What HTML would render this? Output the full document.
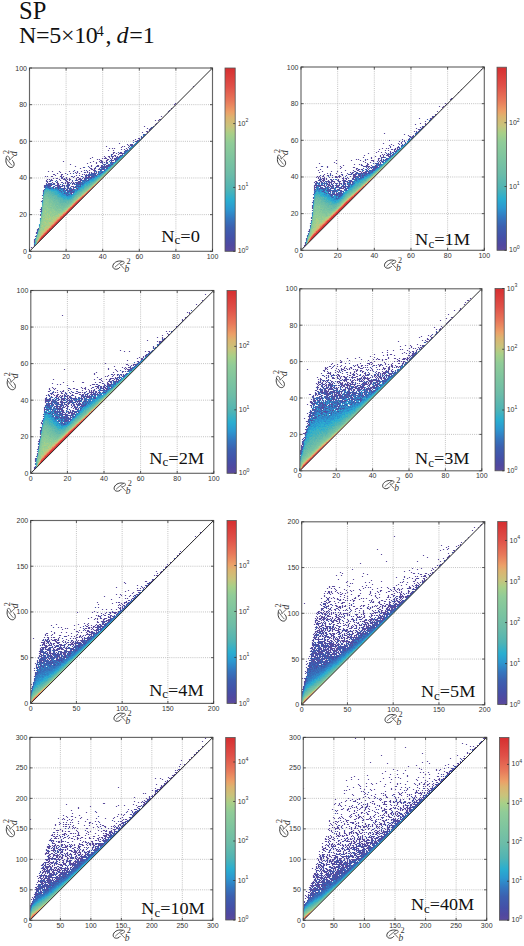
<!DOCTYPE html>
<html><head><meta charset="utf-8"><style>
html,body{margin:0;padding:0;background:#fff;width:524px;height:946px;overflow:hidden}
svg{display:block}
</style></head><body>
<svg width="524" height="946" viewBox="0 0 524 946">
<defs><linearGradient id="cbg" x1="0" y1="0" x2="0" y2="1"><stop offset="0" stop-color="#d62e30"/><stop offset="0.1" stop-color="#e05048"/><stop offset="0.18" stop-color="#e8785a"/><stop offset="0.24" stop-color="#eca068"/><stop offset="0.27" stop-color="#dcb470"/><stop offset="0.32" stop-color="#c8c47c"/><stop offset="0.36" stop-color="#a8d088"/><stop offset="0.41" stop-color="#90cc98"/><stop offset="0.5" stop-color="#7cc4a0"/><stop offset="0.58" stop-color="#6cbca8"/><stop offset="0.66" stop-color="#50b4b4"/><stop offset="0.72" stop-color="#2aaed0"/><stop offset="0.77" stop-color="#2c98d0"/><stop offset="0.82" stop-color="#3478c0"/><stop offset="0.87" stop-color="#3c60b0"/><stop offset="0.93" stop-color="#4450a8"/><stop offset="0.97" stop-color="#5048a0"/><stop offset="1" stop-color="#5a4a9c"/></linearGradient></defs>
<rect width="524" height="946" fill="#fff"/>
<g stroke="#b4b4b4" stroke-width="0.8" stroke-dasharray="1,1.1"><line x1="66.1" y1="68" x2="66.1" y2="251.3"/><line x1="29.5" y1="214.64" x2="212.5" y2="214.64"/><line x1="102.7" y1="68" x2="102.7" y2="251.3"/><line x1="29.5" y1="177.98" x2="212.5" y2="177.98"/><line x1="139.3" y1="68" x2="139.3" y2="251.3"/><line x1="29.5" y1="141.32" x2="212.5" y2="141.32"/><line x1="175.9" y1="68" x2="175.9" y2="251.3"/><line x1="29.5" y1="104.66" x2="212.5" y2="104.66"/></g>
<clipPath id="cp0"><polygon points="29.50,251.30 212.50,68.00 29.50,68.00"/></clipPath><g clip-path="url(#cp0)"><g transform="translate(30.5,250.5) scale(1,-1)" fill="none" stroke-width="1.15" stroke-linecap="square"><path stroke="#5a4a9c" d="M1 3h.01M3 3h.01M4 8h.01M4 9h.01M4 10h.01M4 11h.01M5 14h.01M6 17h.01M6 18h.01M7 20h.01M8 22h.01M10 35h.01M10 36h.01M10 39h.01M10 41h.01M11 49h.01M12 52h.01M12 55h.01M36 56h.01M38 56h.01M41 56h.01M34 57h.01M40 57h1M41 58h1M13 59h.01M31 59h.01M38 59h.01M43 59h.01M13 60h.01M29 60h.01M33 60h.01M36 60h.01M39 60h2M36 61h.01M39 61h.01M41 61h1M44 61h.01M47 61h.01M20 62h.01M23 62h.01M25 62h.01M28 62h.01M33 62h.01M38 62h.01M43 62h.01M46 62h1M14 63h.01M23 63h.01M28 63h.01M30 63h.01M38 63h.01M45 63h.01M14 64h.01M20 64h.01M27 64h1M31 64h.01M34 64h.01M37 64h.01M41 64h2M14 65h.01M16 65h.01M18 65h.01M20 65h1M26 65h3M32 65h1M36 65h.01M39 65h.01M50 65h.01M18 66h2M22 66h.01M27 66h1M38 66h.01M42 66h.01M44 66h.01M48 66h.01M16 67h.01M18 67h1M23 67h1M27 67h1M33 67h.01M35 67h.01M37 67h1M42 67h.01M44 67h.01M46 67h.01M48 67h2M17 68h.01M22 68h.01M27 68h.01M31 68h.01M37 68h2M41 68h.01M43 68h.01M46 68h.01M48 68h1M51 68h.01M16 69h.01M19 69h.01M27 69h.01M36 69h1M42 69h.01M48 69h.01M50 69h.01M16 70h.01M20 70h.01M22 70h.01M30 70h.01M35 70h.01M39 70h.01M47 70h.01M50 70h.01M55 70h.01M17 71h.01M19 71h.01M21 71h.01M29 71h.01M33 71h2M37 71h.01M39 71h1M46 71h.01M48 71h3M54 71h.01M23 72h.01M26 72h1M31 72h1M36 72h.01M39 72h.01M46 72h.01M49 72h1M54 72h.01M58 72h.01M32 73h.01M36 73h.01M43 73h.01M47 73h1M53 73h.01M55 73h5M15 74h.01M17 74h.01M21 74h1M30 74h1M33 74h.01M41 74h.01M44 74h.01M51 74h.01M58 74h1M61 74h1M25 75h.01M31 75h.01M46 75h.01M49 75h.01M55 75h1M59 75h.01M66 75h.01M23 76h1M31 76h1M52 76h.01M54 76h.01M56 76h.01M64 76h.01M67 76h.01M27 77h.01M35 77h.01M40 77h.01M46 77h.01M49 77h.01M59 77h.01M65 77h.01M70 77h.01M30 78h.01M45 78h.01M47 78h.01M55 78h.01M57 78h.01M59 78h.01M61 78h.01M64 78h.01M66 78h.01M68 78h.01M71 78h.01M18 79h.01M22 79h.01M29 79h.01M39 79h.01M43 79h.01M47 79h.01M51 79h.01M57 79h.01M64 79h.01M68 79h.01M54 80h.01M59 80h.01M63 80h2M70 80h.01M74 80h.01M61 81h1M64 81h.01M69 81h.01M72 81h1M50 82h.01M60 82h1M64 82h1M69 82h.01M76 82h.01M53 83h.01M59 83h.01M70 83h2M74 83h1M45 84h.01M61 84h.01M66 84h.01M68 84h.01M71 84h.01M73 84h.01M75 84h3M61 85h.01M67 85h1M72 85h.01M74 85h.01M76 85h2M40 86h.01M74 86h.01M81 86h1M57 87h.01M66 87h.01M72 87h.01M77 87h.01M60 88h.01M66 88h.01M70 88h1M74 88h.01M76 88h.01M82 88h1M33 89h.01M63 89h.01M69 89h.01M71 89h1M76 89h.01M81 89h.01M85 89h.01M70 90h1M76 90h1M81 90h2M67 91h.01M69 91h.01M77 91h1M81 91h.01M84 91h.01M86 91h.01M60 92h.01M72 92h.01M74 92h2M80 92h.01M82 92h.01M84 92h.01M86 92h.01M62 93h.01M75 93h.01M79 93h.01M82 93h.01M86 93h.01M88 93h.01M74 94h.01M78 94h1M82 94h1M85 94h.01M87 94h.01M84 95h1M90 95h1M82 96h.01M88 96h.01M83 97h.01M86 97h.01M89 97h4M83 98h1M90 98h1M94 99h.01M78 100h.01M83 100h.01M96 100h.01M91 101h.01M94 101h.01M97 101h.01M79 102h.01M82 102h.01M84 102h.01M96 102h.01M99 102h.01M91 103h.01M76 104h.01M92 104h.01M94 104h.01M99 104h.01M98 105h.01M100 105h1M97 106h.01M101 106h1M89 107h.01M105 109h1M103 110h.01M107 110h.01M105 111h.01M109 111h.01M108 112h1M111 112h.01M113 114h.01M112 118h.01M117 118h1M116 119h1M119 120h.01M119 121h.01M117 122h.01M120 122h1M114 124h.01M124 124h.01M125 126h.01M126 127h.01M125 130h.01M128 130h.01M129 131h1M133 133h.01M131 134h.01M135 135h.01M136 136h.01M138 138h.01M138 139h.01M141 141h.01M141 142h1M145 145h.01M144 146h.01M146 146h.01M145 147h.01M148 148h.01M163 164h.01"/><path stroke="#4058ac" d="M4 5h.01M4 6h.01M7 19h.01M7 21h1M11 39h.01M11 40h.01M11 41h.01M11 42h.01M37 55h.01M37 57h.01M34 58h.01M37 58h1M40 58h.01M43 58h.01M37 59h.01M39 59h2M30 60h.01M35 60h.01M37 60h.01M42 60h.01M14 61h.01M28 61h.01M31 61h.01M33 61h1M37 61h.01M43 61h.01M19 62h.01M29 62h.01M34 62h1M40 62h.01M18 63h.01M22 63h.01M25 63h.01M27 63h.01M34 63h.01M37 63h.01M40 63h.01M44 63h.01M15 64h.01M17 64h2M23 64h1M29 64h1M32 64h.01M38 64h.01M45 64h5M15 65h.01M17 65h.01M19 65h.01M25 65h.01M34 65h.01M37 65h1M46 65h.01M16 66h.01M24 66h.01M30 66h.01M37 66h.01M46 66h.01M49 66h1M20 67h1M43 67h.01M47 67h.01M52 67h.01M26 68h.01M32 68h.01M35 68h.01M45 68h.01M47 68h.01M17 69h.01M20 69h.01M49 69h.01M56 69h.01M21 70h.01M26 70h.01M36 70h.01M42 70h.01M45 70h1M51 70h.01M53 70h.01M57 70h1M55 71h.01M34 72h.01M52 72h.01M55 72h2M60 72h1M31 73h.01M61 73h.01M42 74h.01M56 74h.01M63 74h.01M57 75h1M60 75h.01M63 75h.01M65 75h.01M37 76h.01M58 76h1M61 76h2M65 76h.01M69 76h.01M43 77h.01M61 77h3M54 78h.01M72 78h.01M66 79h.01M44 80h.01M56 80h.01M68 81h.01M70 81h1M72 82h2M77 82h.01M54 83h.01M65 83h.01M73 83h.01M77 83h.01M58 84h.01M67 84h.01M72 84h.01M71 85h.01M79 85h1M75 86h.01M78 86h.01M72 88h.01M77 88h.01M81 88h.01M85 90h.01M85 91h.01M87 91h.01M85 92h.01M88 92h.01M89 93h.01M81 94h.01M89 94h.01M81 95h.01M92 95h.01M81 96h.01M92 96h.01M94 97h.01M88 98h.01M95 98h.01M95 100h.01M100 102h.01M98 103h.01M102 104h.01M102 105h.01M100 106h.01M107 109h.01M108 110h1M111 113h.01M111 114h.01M113 116h1M121 121h.01M121 123h1M123 124h.01M125 125h.01M126 126h.01M127 127h.01M131 131h.01M137 137h.01M139 140h.01M143 143h.01"/><path stroke="#386cb8" d="M4 4h.01M5 12h.01M7 18h.01M10 32h.01M11 43h.01M12 50h.01M39 56h.01M13 57h.01M35 57h1M33 59h1M42 59h.01M44 59h.01M44 60h.01M40 61h.01M27 62h.01M30 62h2M37 62h.01M39 62h.01M41 62h.01M15 63h2M19 63h.01M26 63h.01M29 63h.01M43 63h.01M46 63h.01M48 63h.01M47 65h1M17 66h.01M21 66h.01M23 66h.01M39 66h.01M47 66h.01M51 66h1M40 67h.01M53 67h.01M50 68h.01M52 68h.01M54 68h.01M25 69h.01M53 69h1M52 70h.01M54 70h.01M58 71h1M62 73h2M52 74h.01M55 74h.01M64 74h.01M61 75h1M64 75h.01M60 76h.01M68 77h.01M70 79h.01M72 79h.01M71 80h.01M74 81h.01M76 83h.01M74 84h.01M79 84h.01M73 86h.01M79 86h.01M76 87h.01M80 87h2M80 88h.01M80 90h.01M87 92h.01M87 93h.01M90 94h.01M94 98h.01M95 99h1M97 100h1M101 104h.01M103 105h.01M104 106h.01M103 108h.01M112 113h.01M114 115h.01M115 116h.01M120 120h.01M120 121h.01M128 128h.01M130 130h.01"/><path stroke="#3478c0" d="M36 55h.01M33 57h.01M31 58h.01M66 74h.01"/><path stroke="#3087c7" d="M6 14h.01M6 15h.01M9 25h.01M12 49h.01M38 55h1M32 56h.01M35 56h.01M37 56h.01M42 56h.01M38 57h.01M43 57h.01M13 58h.01M29 58h.01M32 58h.01M35 58h1M44 58h.01M30 59h.01M35 59h.01M27 60h.01M32 60h.01M43 60h.01M45 60h1M25 61h2M15 62h.01M18 62h.01M21 62h1M26 62h.01M48 62h.01M49 63h.01M16 64h.01M36 64h.01M52 65h.01M32 66h.01M45 66h.01M53 66h.01M51 67h.01M54 67h.01M55 68h.01M52 69h.01M55 69h.01M56 70h.01M56 71h.01M60 71h.01M59 72h.01M63 72h.01M65 74h.01M68 76h.01M66 77h.01M69 77h.01M71 77h.01M69 78h1M65 79h.01M71 79h.01M73 79h.01M75 80h.01M76 81h.01M71 82h.01M80 84h.01M81 85h.01M84 88h.01M79 89h.01M86 90h1M88 91h.01M91 94h.01M97 99h.01M99 101h.01M105 107h.01M106 108h1M113 115h.01M115 115h.01"/><path stroke="#2c96cf" d="M4 7h.01M7 17h.01M11 38h.01M12 48h.01M36 54h4M33 55h2M40 55h1M13 56h.01M33 56h1M40 56h.01M31 57h1M30 58h.01M39 58h.01M28 59h1M32 59h.01M46 59h.01M28 60h.01M34 60h.01M38 60h.01M47 60h.01M21 61h2M30 61h.01M32 61h.01M45 61h.01M48 61h1M16 62h1M49 62h.01M20 63h.01M50 63h.01M51 64h.01M49 65h.01M53 65h.01M56 67h.01M53 68h.01M57 68h.01M59 68h.01M57 69h1M59 70h.01M61 71h1M62 72h.01M67 74h.01M70 76h.01M69 79h.01M74 79h.01M75 81h.01M80 86h.01M83 87h.01M89 92h.01M90 93h.01M94 96h.01M95 97h.01M96 98h.01M101 103h.01M105 106h.01M110 111h.01M113 113h.01M116 116h.01M117 117h.01M119 119h.01"/><path stroke="#2ba4d0" d="M5 11h.01M34 52h.01M37 52h.01M33 53h.01M35 53h.01M37 53h2M31 54h1M34 54h.01M41 54h.01M31 55h1M29 56h2M43 56h.01M28 57h.01M30 57h.01M28 58h.01M27 59h.01M45 59h.01M23 60h3M15 61h.01M19 61h1M51 63h.01M52 64h.01M54 66h.01M55 67h.01M56 68h.01M58 68h.01M59 69h.01M60 70h2M63 71h.01M64 72h1M65 73h1M68 74h.01M68 75h1M73 78h.01M78 82h.01M79 83h.01M85 88h.01M86 89h.01M93 95h.01M103 104h.01M106 107h.01M114 114h.01"/><path stroke="#2eafcd" d="M9 26h.01M10 31h.01M38 52h1M34 53h.01M36 53h.01M40 53h1M33 54h.01M35 54h.01M13 55h.01M30 55h.01M42 55h1M44 56h.01M27 57h.01M29 57h.01M25 58h.01M27 58h.01M33 58h.01M45 58h1M26 59h.01M14 60h.01M19 60h.01M21 60h1M31 60h.01M48 60h.01M17 61h1M24 61h.01M29 61h.01M46 61h.01M24 62h.01M50 62h.01M21 63h.01M47 63h.01M52 63h1M53 64h.01M51 65h.01M54 65h.01M56 66h1M57 67h1M61 69h.01M63 70h.01M67 73h.01M69 74h.01M70 75h.01M72 77h.01M75 79h.01M76 80h.01M77 81h.01M78 83h.01M84 87h.01M91 93h.01M92 94h.01M100 103h.01M102 103h.01M108 109h.01M111 111h.01M112 112h.01M122 122h.01M123 123h.01"/><path stroke="#3db1c2" d="M5 7h.01M5 8h.01M8 20h.01M9 24h.01M11 37h.01M12 47h.01M33 51h.01M35 51h.01M37 51h1M33 52h.01M35 52h1M40 52h1M31 53h1M28 54h2M42 54h.01M28 55h1M25 56h2M45 56h.01M25 57h1M39 57h.01M44 57h1M24 58h.01M26 58h.01M21 59h4M47 59h.01M17 60h.01M20 60h.01M49 60h.01M50 61h.01M51 62h2M54 64h.01M56 65h1M55 66h.01M59 67h.01M60 68h.01M60 69h.01M62 69h1M64 70h.01M64 71h1M66 72h.01M71 76h.01M73 77h.01M74 78h.01M79 82h.01M80 83h.01M81 84h.01M82 85h.01M83 86h.01M89 91h.01M99 100h.01M100 101h.01M101 102h.01M104 105h.01M110 110h.01"/><path stroke="#4cb3b7" d="M7 16h.01M10 30h.01M12 46h.01M34 51h.01M36 51h.01M39 51h1M32 52h.01M29 53h1M42 53h1M27 54h.01M43 54h.01M27 55h.01M44 55h.01M24 56h.01M28 56h.01M22 57h2M46 57h.01M14 58h.01M21 58h.01M23 58h.01M47 58h.01M14 59h.01M16 59h.01M48 59h1M15 60h.01M50 60h1M16 61h.01M51 61h.01M54 63h.01M55 64h.01M55 65h.01M58 66h1M61 68h.01M66 71h.01M67 72h.01M67 75h.01M71 75h.01M72 76h.01M90 92h.01M96 97h.01M97 98h.01M98 99h.01M107 107h.01M109 109h.01"/><path stroke="#57b6b1" d="M5 9h.01M11 36h.01M12 45h.01M35 48h.01M33 49h2M30 50h.01M33 50h5M30 51h2M24 52h.01M28 52h.01M30 52h1M42 52h.01M13 53h.01M27 53h1M13 54h.01M44 54h.01M22 55h1M26 55h.01M23 56h.01M46 56h.01M14 57h.01M19 57h.01M21 57h.01M47 57h1M20 58h.01M22 58h.01M48 58h.01M15 59h.01M17 59h3M50 59h.01M16 60h.01M18 60h.01M52 61h1M56 64h.01M59 65h.01M60 66h.01M61 67h.01M62 68h.01M65 70h.01M68 73h1M77 80h.01M86 88h.01M87 89h.01M88 90h.01M105 105h.01M106 106h.01M108 108h.01"/><path stroke="#60b8ad" d="M5 6h.01M5 10h.01M30 48h3M36 48h.01M38 48h.01M30 49h2M36 49h.01M38 49h.01M31 50h1M39 50h1M28 51h1M41 51h1M26 52h1M29 52h.01M25 53h.01M25 54h1M24 55h1M45 55h.01M14 56h.01M20 56h2M47 56h.01M15 57h.01M17 57h.01M20 57h.01M15 58h1M18 58h1M49 58h.01M51 59h.01M52 60h.01M54 62h.01M55 63h1M57 64h1M58 65h.01M60 67h.01M64 69h.01M68 72h.01M70 74h.01M74 77h.01M75 78h.01M76 79h.01M78 81h.01M83 85h.01M85 87h.01M93 94h.01M94 95h.01"/><path stroke="#69bba9" d="M9 23h.01M10 29h.01M31 46h1M30 47h.01M32 47h.01M34 47h.01M36 47h1M29 48h.01M34 48h.01M28 49h1M37 49h.01M39 49h2M24 50h.01M28 50h1M25 51h2M13 52h.01M25 52h.01M43 52h.01M20 53h.01M22 53h.01M24 53h.01M26 53h.01M44 53h.01M18 54h.01M21 54h3M45 54h.01M18 55h3M46 55h.01M19 56h.01M18 57h.01M17 58h.01M54 61h.01M55 62h.01M57 63h.01M61 66h.01M62 67h.01M63 68h.01M65 69h.01M66 70h.01M84 86h.01M91 92h.01M92 93h.01M95 96h.01M101 101h.01M103 103h.01M104 104h.01"/><path stroke="#6fbea6" d="M6 9h.01M6 13h.01M8 19h.01M10 27h.01M11 35h.01M12 42h.01M12 43h.01M12 44h.01M31 45h3M27 46h.01M29 46h.01M33 46h2M37 46h.01M29 47h.01M31 47h.01M33 47h.01M35 47h.01M38 47h.01M26 48h.01M37 48h.01M39 48h1M23 49h.01M26 49h1M13 50h.01M25 50h.01M27 50h.01M41 50h.01M13 51h.01M22 51h.01M43 51h.01M20 52h.01M22 52h1M21 53h.01M23 53h.01M14 54h.01M19 54h1M46 54h.01M17 55h.01M15 56h1M18 56h.01M48 56h.01M16 57h.01M49 57h1M50 58h1M52 59h.01M53 60h.01M56 62h.01M64 68h.01M67 71h.01M70 73h.01M71 74h.01M72 75h.01M73 76h.01M81 83h.01M82 84h.01M90 91h.01M100 100h.01"/><path stroke="#74c0a4" d="M6 8h.01M6 12h.01M9 21h.01M10 28h.01M11 32h.01M11 34h.01M12 41h.01M30 43h.01M33 43h.01M27 44h.01M29 44h.01M31 44h.01M33 44h1M25 45h.01M28 45h2M35 45h1M25 46h1M28 46h.01M30 46h.01M36 46h.01M26 47h2M39 47h.01M13 48h.01M24 48h1M28 48h.01M24 49h1M22 50h1M26 50h.01M42 50h.01M21 51h.01M23 51h1M19 52h.01M21 52h.01M14 53h.01M18 53h1M46 53h.01M16 54h1M47 54h.01M14 55h2M48 55h.01M17 56h.01M49 56h1M54 60h.01M55 61h.01M58 63h.01M59 64h.01M60 65h.01M63 67h.01M68 71h.01M69 72h.01M77 79h.01M78 80h.01M79 81h.01M80 82h.01M88 89h.01M98 98h.01M99 99h.01M102 102h.01"/><path stroke="#79c3a1" d="M7 15h.01M10 26h.01M11 33h.01M12 40h.01M32 41h.01M27 42h.01M31 42h1M26 43h3M31 43h1M34 43h1M26 44h.01M32 44h.01M35 44h1M13 45h.01M26 45h.01M13 46h.01M23 46h.01M38 46h.01M22 47h3M40 47h.01M19 48h.01M21 48h.01M23 48h.01M27 48h.01M41 48h.01M13 49h.01M19 49h1M19 50h1M14 51h1M19 51h1M44 51h.01M14 52h4M44 52h1M15 53h.01M45 53h.01M15 54h.01M47 55h.01M51 57h.01M52 58h.01M56 61h.01M57 62h.01M62 66h.01M73 75h.01M75 77h.01M85 86h.01M86 87h.01M87 88h.01M89 90h.01M95 95h.01M96 96h.01"/><path stroke="#7fc59f" d="M6 10h.01M6 11h.01M7 14h.01M8 17h.01M8 18h.01M9 22h.01M10 23h.01M10 25h.01M11 31h.01M12 37h.01M12 39h.01M26 40h.01M28 40h2M25 41h1M33 41h.01M23 42h.01M25 42h.01M28 42h2M33 42h.01M20 43h1M23 43h1M13 44h.01M22 44h.01M24 44h1M28 44h.01M30 44h.01M37 44h.01M21 45h2M37 45h1M19 46h.01M22 46h.01M24 46h.01M39 46h.01M13 47h.01M19 47h.01M20 48h.01M22 48h.01M14 49h.01M18 49h.01M21 49h1M42 49h.01M14 50h.01M21 50h.01M43 50h.01M16 51h.01M16 53h1M49 55h1M53 59h1M58 62h.01M60 64h.01M61 65h.01M67 70h.01M74 76h.01M82 83h.01M83 84h.01M84 85h.01M97 97h.01"/><path stroke="#85c79d" d="M7 13h.01M9 19h.01M9 20h.01M10 24h.01M11 29h.01M12 36h.01M12 38h.01M28 38h.01M27 39h.01M29 39h.01M25 40h.01M27 40h.01M32 40h.01M13 41h.01M24 41h.01M27 41h1M31 41h.01M13 42h1M21 42h.01M24 42h.01M26 42h.01M34 42h.01M18 43h1M25 43h.01M36 43h1M17 44h.01M19 44h.01M23 44h.01M17 45h3M24 45h.01M27 45h.01M14 46h2M18 46h.01M21 46h.01M16 47h.01M18 47h.01M20 47h1M14 48h1M17 48h1M42 48h.01M15 49h2M15 50h3M17 51h1M45 51h.01M46 52h.01M47 53h.01M48 54h.01M55 60h1M59 63h.01M65 68h.01M66 69h.01M72 74h.01M76 78h.01M81 82h.01M91 91h.01"/><path stroke="#8bca9a" d="M5 5h.01M7 11h.01M8 14h.01M8 15h.01M8 16h.01M11 27h.01M11 30h.01M12 32h.01M12 34h.01M12 35h.01M14 35h.01M20 35h.01M25 36h.01M13 37h.01M15 37h.01M23 37h.01M27 37h.01M22 38h.01M24 38h1M27 38h.01M29 38h.01M18 39h.01M21 39h.01M23 39h.01M25 39h1M28 39h.01M30 39h1M13 40h.01M16 40h.01M19 40h3M24 40h.01M31 40h.01M33 40h.01M15 41h1M20 41h1M29 41h1M34 41h1M15 42h.01M18 42h2M22 42h.01M35 42h.01M13 43h3M22 43h.01M14 44h.01M18 44h.01M21 44h.01M38 44h.01M14 45h2M39 45h.01M17 46h.01M20 46h.01M40 46h1M14 47h1M17 47h.01M41 47h.01M43 49h.01M44 50h.01M47 52h.01M49 54h.01M51 56h.01M52 57h.01M53 58h.01M57 61h.01M62 65h.01M63 66h.01M64 67h.01M70 72h.01M71 73h.01M92 92h.01M93 93h.01M94 94h.01"/><path stroke="#91cc97" d="M6 7h.01M7 10h.01M7 12h.01M10 20h.01M13 21h.01M10 22h.01M11 23h.01M14 24h.01M11 25h.01M12 26h.01M11 28h.01M12 29h.01M19 29h.01M12 30h.01M14 32h.01M12 33h.01M14 33h.01M13 34h.01M18 34h.01M22 34h.01M13 35h.01M22 35h2M16 36h.01M18 36h.01M20 36h1M24 36h.01M26 36h1M16 37h.01M18 37h1M21 37h1M25 37h1M29 37h.01M14 38h.01M16 38h3M23 38h.01M26 38h.01M30 38h1M13 39h1M16 39h1M19 39h.01M22 39h.01M32 39h.01M14 40h.01M18 40h.01M23 40h.01M14 41h.01M17 41h2M22 41h1M16 42h.01M36 42h.01M17 43h.01M15 44h1M20 44h.01M39 44h.01M16 48h.01M43 48h.01M46 51h.01M53 57h.01M54 58h.01M55 59h.01M58 61h.01M60 63h.01M61 64h.01M69 71h.01M78 79h.01M79 80h.01M80 81h.01M87 87h.01M88 88h.01M89 89h.01"/><path stroke="#9cce90" d="M8 12h.01M8 13h.01M9 15h.01M9 16h1M9 17h.01M9 18h1M10 21h2M12 22h1M12 23h.01M13 24h.01M13 25h2M11 26h.01M13 26h.01M16 26h.01M12 27h2M12 28h1M16 28h1M13 29h.01M15 29h2M20 29h.01M13 30h5M20 30h.01M12 31h1M15 31h.01M21 31h1M13 32h.01M18 32h.01M21 32h.01M15 33h1M18 33h1M21 33h.01M23 33h.01M14 34h1M17 34h.01M20 34h1M24 34h2M16 35h2M21 35h.01M25 35h.01M28 35h.01M13 36h2M19 36h.01M22 36h1M30 36h.01M14 37h.01M20 37h.01M24 37h.01M28 37h.01M13 38h.01M15 38h.01M20 38h1M32 38h.01M20 39h.01M24 39h.01M33 39h1M15 40h.01M17 40h.01M34 40h.01M36 41h.01M17 42h.01M40 45h.01M42 47h.01M45 50h.01M48 53h.01M51 55h.01M52 56h.01M57 60h.01M59 62h.01M68 70h.01M90 90h.01"/><path stroke="#a8d088" d="M9 14h.01M10 17h.01M11 18h.01M10 19h1M11 20h2M11 22h.01M14 22h.01M13 23h1M16 23h1M11 24h1M15 24h.01M16 25h3M14 26h1M17 26h2M15 27h3M14 28h.01M18 28h.01M14 29h.01M18 29h.01M21 29h1M19 30h.01M21 30h.01M14 31h.01M16 31h.01M18 31h2M24 31h.01M16 32h1M20 32h.01M22 32h2M26 32h.01M13 33h.01M17 33h.01M20 33h.01M22 33h.01M24 33h1M16 34h.01M19 34h.01M27 34h1M15 35h.01M19 35h.01M26 35h1M17 36h.01M28 36h.01M31 36h.01M17 37h.01M30 37h2M15 39h.01M37 42h.01M38 43h.01M44 49h.01M50 54h.01M56 59h.01M65 67h.01M66 68h.01M67 69h.01M76 77h.01M83 83h.01M85 85h.01M86 86h.01"/><path stroke="#bcc981" d="M8 11h.01M10 15h.01M11 17h.01M12 18h.01M12 19h1M14 20h.01M15 22h1M16 24h2M12 25h.01M20 26h.01M19 27h2M15 28h.01M19 28h1M22 28h.01M23 29h.01M22 30h1M25 30h.01M17 31h.01M23 31h.01M25 31h.01M15 32h.01M19 32h.01M25 32h.01M26 33h.01M23 34h.01M29 35h.01M29 36h.01M35 40h.01M44 48h.01M48 52h.01M49 53h.01M63 65h.01M73 74h.01M74 75h.01M75 76h.01M77 78h.01M84 84h.01"/><path stroke="#ccc179" d="M7 9h.01M9 13h.01M10 14h.01M11 16h1M12 17h.01M13 18h.01M14 19h.01M15 20h.01M14 21h2M15 23h.01M18 23h.01M19 24h.01M21 26h.01M22 27h.01M21 28h.01M24 30h.01M27 33h.01M29 34h.01M30 35h.01M33 38h.01M35 39h.01M36 40h.01M37 41h.01M39 43h.01M41 45h.01M46 50h.01M53 56h.01M54 57h.01M55 58h.01M60 62h.01M61 63h.01M62 64h.01M64 66h.01M69 70h.01M70 71h.01M71 72h.01M72 73h.01M81 81h.01M82 82h.01"/><path stroke="#d8b772" d="M6 6h.01M11 15h.01M17 22h1M19 23h.01M20 25h.01M23 27h.01M23 28h.01M24 29h.01M26 31h.01M27 32h.01M28 33h.01M38 42h.01M40 44h.01M42 46h.01M45 49h.01M47 51h.01M51 54h.01M59 61h.01M76 76h.01M78 78h.01M80 80h.01"/><path stroke="#e4aa6c" d="M8 10h.01M9 12h.01M13 17h.01M14 18h.01M15 19h.01M16 20h.01M17 21h.01M20 24h.01M28 32h.01M29 33h.01M31 35h.01M33 37h.01M43 47h.01M48 51h.01M49 52h.01M52 55h.01M55 57h.01M64 65h.01M66 67h.01M67 68h.01M68 69h.01M75 75h.01"/><path stroke="#ec9b66" d="M10 13h.01M21 25h.01M22 26h.01M24 28h.01M25 29h.01M26 30h.01M27 31h.01M30 34h.01M32 36h.01M34 38h1M41 44h.01M50 53h.01M54 56h.01M56 58h.01M58 60h.01M65 66h.01M77 77h.01M79 79h.01"/><path stroke="#ea8860" d="M7 8h.01M29 32h.01M32 35h.01M34 37h.01M36 39h.01M37 40h.01M42 45h.01M43 46h.01M47 50h.01M53 55h.01M57 59h.01M73 73h.01"/><path stroke="#e87659" d="M9 11h.01M11 14h.01M12 15h.01M13 16h.01M15 18h.01M16 19h.01M18 21h.01M20 23h.01M23 26h.01M24 27h.01M25 28h.01M26 29h.01M28 31h.01M38 41h.01M39 42h.01M40 43h.01M44 47h.01M45 48h.01M46 49h.01M61 62h.01M63 64h.01M72 72h.01M74 74h.01"/><path stroke="#e56953" d="M8 9h.01M14 17h.01M21 24h.01M22 25h.01M27 30h.01M30 33h.01M31 34h.01M33 36h.01M50 52h.01M51 53h.01M52 54h.01M60 61h.01M62 63h.01M71 71h.01"/><path stroke="#e25c4e" d="M17 20h.01M19 22h.01M47 49h.01M49 51h.01M57 58h.01M58 59h.01M59 60h.01M68 68h.01M70 70h.01"/><path stroke="#e05048" d="M7 7h.01M10 12h.01M14 16h.01M21 23h.01M27 29h.01M31 33h.01M32 34h.01M34 36h.01M38 40h.01M40 42h.01M44 46h.01M45 47h.01M46 48h.01M48 50h.01M66 66h.01"/><path stroke="#dd4742" d="M12 14h.01M16 18h.01M18 20h.01M23 25h.01M24 26h.01M25 27h.01M28 30h.01M29 31h.01M30 32h.01M33 35h.01M35 37h.01M36 38h.01M39 41h.01M42 44h.01M43 45h.01M53 54h.01M54 55h.01M55 56h.01M56 57h.01M64 64h.01M65 65h.01M67 67h.01M69 69h.01"/><path stroke="#db3f3c" d="M9 10h.01M11 13h.01M13 15h.01M15 17h.01M17 19h.01M20 22h.01M22 24h.01M26 28h.01M37 39h.01M41 43h.01M50 51h.01M51 52h.01M52 53h.01M62 62h.01M63 63h.01"/><path stroke="#d83636" d="M8 8h.01M19 21h.01M60 60h.01M61 61h.01"/><path stroke="#d62e30" d="M9 9h.01M10 10h.01M10 11h1M11 12h1M12 13h1M13 14h1M14 15h1M15 16h1M16 17h1M17 18h1M18 19h1M19 20h1M20 21h1M21 22h1M22 23h1M23 24h1M24 25h1M25 26h1M26 27h1M27 28h1M28 29h1M29 30h1M30 31h1M31 32h1M32 33h1M33 34h1M34 35h1M35 36h1M36 37h1M37 38h1M38 39h1M39 40h1M40 41h1M41 42h1M42 43h1M43 44h1M44 45h1M45 46h1M46 47h1M47 48h1M48 49h1M49 50h1M51 51h.01M52 52h.01M53 53h.01M54 54h.01M55 55h.01M56 56h.01M57 57h.01M58 58h.01M59 59h.01"/></g></g>
<line x1="29.5" y1="251.3" x2="212.5" y2="68" stroke="#2a2a2a" stroke-width="1"/>
<rect x="29.5" y="68" width="183" height="183.3" fill="none" stroke="#666" stroke-width="1.15"/>
<path d="M29.5,251.3v-2.5M29.5,68v2.5M29.5,251.3h2.5M212.5,251.3h-2.5M66.1,251.3v-2.5M66.1,68v2.5M29.5,214.64h2.5M212.5,214.64h-2.5M102.7,251.3v-2.5M102.7,68v2.5M29.5,177.98h2.5M212.5,177.98h-2.5M139.3,251.3v-2.5M139.3,68v2.5M29.5,141.32h2.5M212.5,141.32h-2.5M175.9,251.3v-2.5M175.9,68v2.5M29.5,104.66h2.5M212.5,104.66h-2.5M212.5,251.3v-2.5M212.5,68v2.5M29.5,68h2.5M212.5,68h-2.5" stroke="#333" stroke-width="0.8"/>
<g font-family="Liberation Sans" font-size="7" fill="#333"><text x="27" y="253.8" text-anchor="end">0</text><text x="29.5" y="258.9" text-anchor="middle">0</text><text x="27" y="217.14" text-anchor="end">20</text><text x="66.1" y="258.9" text-anchor="middle">20</text><text x="27" y="180.48" text-anchor="end">40</text><text x="102.7" y="258.9" text-anchor="middle">40</text><text x="27" y="143.82" text-anchor="end">60</text><text x="139.3" y="258.9" text-anchor="middle">60</text><text x="27" y="107.16" text-anchor="end">80</text><text x="175.9" y="258.9" text-anchor="middle">80</text><text x="27" y="70.5" text-anchor="end">100</text><text x="212.5" y="258.9" text-anchor="middle">100</text></g>
<g transform="translate(112.3,260.4)" fill="#333"><path d="M9.8,0.9 C6.6,-0.3 1.9,1.4 0.7,4.8 C-0.2,7.6 2.2,9.3 4.8,8.7 C6.1,8.4 6.9,7.8 7.5,7.0" fill="none" stroke="#3a3a3a" stroke-width="1.0" stroke-linecap="round"/><path d="M2.8,6.6 C4.4,4.9 7.4,2.9 9.8,0.9 C11.5,0.4 12.3,1.6 11.7,2.8 C11.1,3.9 9.5,4.4 7.9,4.3 C9.1,5.4 10.4,7.2 11.9,8.3" fill="none" stroke="#3a3a3a" stroke-width="0.75" stroke-linecap="round"/><text x="14.1" y="3.2" font-family="Liberation Serif" font-size="8.2">2</text><text x="12.1" y="11.3" font-family="Liberation Serif" font-style="italic" font-size="9.5">b</text></g>
<g transform="translate(5.3,168) rotate(-90)" fill="#333"><path d="M9.8,0.9 C6.6,-0.3 1.9,1.4 0.7,4.8 C-0.2,7.6 2.2,9.3 4.8,8.7 C6.1,8.4 6.9,7.8 7.5,7.0" fill="none" stroke="#3a3a3a" stroke-width="1.0" stroke-linecap="round"/><path d="M2.8,6.6 C4.4,4.9 7.4,2.9 9.8,0.9 C11.5,0.4 12.3,1.6 11.7,2.8 C11.1,3.9 9.5,4.4 7.9,4.3 C9.1,5.4 10.4,7.2 11.9,8.3" fill="none" stroke="#3a3a3a" stroke-width="0.75" stroke-linecap="round"/><text x="14.1" y="3.2" font-family="Liberation Serif" font-size="8.2">2</text><text x="12.1" y="11.3" font-family="Liberation Serif" font-style="italic" font-size="9.5">d</text></g>
<rect x="225" y="68" width="10.2" height="183.3" fill="url(#cbg)" stroke="#555" stroke-width="0.8"/>
<path d="M235.2,251.3h-2M235.2,187.43h-2M235.2,123.56h-2" stroke="#333" stroke-width="0.8"/>
<g font-family="Liberation Sans" font-size="7" fill="#333"><text x="237.7" y="253.4">10<tspan font-size="5.2" dy="-3.2">0</tspan></text><text x="237.7" y="189.53">10<tspan font-size="5.2" dy="-3.2">1</tspan></text><text x="237.7" y="125.66">10<tspan font-size="5.2" dy="-3.2">2</tspan></text></g>
<text transform="translate(161.2,241.6) scale(1.04,1)" font-family="Liberation Serif" font-size="17.7" fill="#111" class="nc">N<tspan font-size="12.57" dy="2.6">c</tspan><tspan dy="-2.6">=0</tspan></text>
<g stroke="#b4b4b4" stroke-width="0.8" stroke-dasharray="1,1.1"><line x1="337.66" y1="67" x2="337.66" y2="250.3"/><line x1="301" y1="213.64" x2="484.3" y2="213.64"/><line x1="374.32" y1="67" x2="374.32" y2="250.3"/><line x1="301" y1="176.98" x2="484.3" y2="176.98"/><line x1="410.98" y1="67" x2="410.98" y2="250.3"/><line x1="301" y1="140.32" x2="484.3" y2="140.32"/><line x1="447.64" y1="67" x2="447.64" y2="250.3"/><line x1="301" y1="103.66" x2="484.3" y2="103.66"/></g>
<clipPath id="cp1"><polygon points="301.00,250.30 484.30,67.00 301.00,67.00"/></clipPath><g clip-path="url(#cp1)"><g transform="translate(301.5,249.5) scale(1,-1)" fill="none" stroke-width="1.15" stroke-linecap="square"><path stroke="#5a4a9c" d="M2 2h.01M3 3h.01M3 4h1M4 5h.01M4 6h.01M4 7h.01M5 10h.01M5 11h.01M8 18h.01M8 19h.01M8 20h.01M9 26h.01M10 29h.01M10 32h.01M11 41h.01M11 42h.01M11 43h.01M11 44h.01M11 47h.01M12 51h.01M30 53h.01M38 53h.01M30 54h.01M35 54h1M12 55h.01M29 55h.01M33 55h2M38 55h.01M25 56h.01M27 56h.01M31 56h2M35 56h1M39 56h1M23 57h.01M37 57h.01M14 58h.01M21 58h.01M31 58h1M39 58h.01M13 59h.01M23 59h.01M26 59h.01M28 59h1M34 59h.01M37 59h.01M39 59h1M13 60h1M33 60h.01M36 60h1M43 60h.01M13 61h.01M19 61h2M24 61h.01M26 61h.01M30 61h2M38 61h4M45 61h.01M13 62h1M24 62h.01M26 62h.01M28 62h.01M30 62h.01M32 62h.01M35 62h1M42 62h.01M44 62h.01M13 63h.01M15 63h.01M17 63h.01M23 63h.01M26 63h1M29 63h2M35 63h2M40 63h3M46 63h.01M48 63h.01M14 64h9M27 64h1M31 64h1M35 64h3M42 64h.01M47 64h.01M14 65h.01M26 65h2M38 65h.01M42 65h.01M46 65h.01M48 65h.01M51 65h.01M15 66h.01M18 66h.01M22 66h.01M25 66h1M28 66h.01M30 66h.01M32 66h.01M34 66h1M38 66h2M43 66h1M49 66h.01M13 67h.01M15 67h.01M20 67h.01M28 67h2M33 67h.01M43 67h.01M46 67h1M49 67h.01M51 67h.01M14 68h1M19 68h1M22 68h.01M26 68h1M30 68h.01M32 68h1M38 68h1M43 68h.01M45 68h.01M49 68h2M18 69h.01M21 69h2M27 69h.01M30 69h1M36 69h1M41 69h2M47 69h.01M49 69h.01M18 70h2M22 70h1M25 70h.01M30 70h.01M37 70h.01M42 70h.01M45 70h.01M52 70h1M17 71h.01M21 71h2M25 71h.01M41 71h1M44 71h1M47 71h.01M51 71h1M15 72h.01M17 72h.01M19 72h.01M23 72h.01M28 72h.01M31 72h.01M34 72h2M38 72h.01M42 72h.01M52 72h1M56 72h1M16 73h.01M18 73h.01M21 73h1M34 73h1M37 73h2M49 73h.01M52 73h4M59 73h.01M61 73h.01M22 74h.01M26 74h1M31 74h.01M38 74h.01M41 74h.01M45 74h.01M52 74h2M57 74h1M61 74h1M23 75h.01M40 75h.01M48 75h1M52 75h.01M54 75h.01M57 75h2M61 75h.01M63 75h.01M65 75h.01M26 76h.01M29 76h.01M35 76h.01M46 76h.01M51 76h.01M54 76h1M60 76h1M64 76h.01M18 77h.01M40 77h.01M49 77h.01M51 77h1M56 77h.01M60 77h.01M62 77h3M21 78h.01M30 78h.01M36 78h.01M54 78h.01M58 78h1M61 78h.01M64 78h.01M67 78h.01M71 78h.01M17 79h.01M44 79h.01M52 79h.01M56 79h1M69 79h.01M19 80h.01M55 80h.01M57 80h.01M60 80h1M67 80h.01M71 80h1M39 81h.01M55 81h1M66 81h.01M73 81h.01M15 82h.01M26 82h.01M40 82h.01M52 82h1M67 82h.01M69 82h.01M71 82h.01M74 82h1M77 82h.01M20 83h.01M26 83h.01M39 83h.01M62 83h2M66 83h2M71 83h.01M74 83h1M42 84h.01M60 84h.01M65 84h1M74 84h1M77 84h.01M53 85h.01M58 85h.01M60 85h.01M66 85h1M78 85h.01M18 86h.01M35 86h.01M66 86h.01M75 86h.01M77 86h.01M79 86h.01M33 87h.01M64 87h.01M69 87h.01M79 87h.01M62 88h.01M72 88h.01M78 88h.01M35 89h.01M50 89h.01M59 89h.01M64 89h.01M70 89h2M77 89h.01M79 89h1M55 90h.01M57 90h.01M66 90h.01M77 90h.01M80 90h.01M85 90h.01M70 91h.01M77 91h1M62 92h.01M70 92h.01M80 92h3M74 93h.01M79 93h.01M82 93h.01M87 93h1M63 94h.01M79 94h.01M82 94h.01M85 94h2M89 94h.01M91 94h.01M81 95h.01M83 95h.01M86 95h2M91 95h.01M67 96h.01M89 96h.01M75 97h.01M80 97h.01M84 97h.01M89 97h.01M91 97h.01M77 98h.01M89 98h.01M93 98h1M84 99h.01M87 99h.01M93 99h.01M95 99h.01M78 100h.01M90 100h1M93 100h1M96 100h.01M81 101h.01M85 101h.01M87 101h.01M94 101h.01M96 101h.01M96 102h1M89 103h.01M100 103h.01M88 104h.01M92 104h.01M90 105h.01M98 105h.01M82 106h.01M97 106h.01M100 106h.01M100 107h.01M104 107h.01M98 108h.01M101 108h.01M88 109h.01M103 109h.01M101 110h.01M107 110h.01M110 112h1M108 113h1M111 113h.01M107 114h.01M112 114h.01M103 115h.01M83 116h.01M113 118h.01M115 118h.01M117 118h.01M117 120h1M115 121h.01M121 121h.01M119 122h.01M121 122h1M122 123h.01M114 125h.01M124 125h1M119 126h.01M124 126h.01M127 127h.01M124 128h.01M118 131h.01M129 131h1M131 132h1M131 133h.01M134 134h.01M134 135h1M136 138h.01M141 142h.01M138 143h.01M142 143h.01M144 144h.01M145 145h.01M144 146h.01M146 146h.01M149 150h.01M150 151h1M157 157h.01M160 160h.01M180 180h.01"/><path stroke="#4058ac" d="M6 13h.01M7 16h.01M7 18h.01M9 24h.01M10 31h.01M11 39h.01M12 49h.01M35 51h.01M12 52h.01M31 52h.01M37 52h.01M37 53h.01M31 54h.01M38 54h2M28 55h.01M30 55h.01M32 55h.01M36 55h1M39 55h.01M41 55h.01M13 56h.01M28 56h.01M38 56h.01M41 56h.01M13 57h.01M27 57h.01M29 57h.01M31 57h.01M33 57h.01M35 57h.01M39 57h1M22 58h.01M27 58h2M33 58h1M40 58h2M22 59h.01M25 59h.01M27 59h.01M32 59h.01M35 59h.01M45 59h.01M16 60h.01M18 60h.01M22 60h.01M24 60h.01M26 60h3M44 60h1M18 61h.01M22 61h.01M44 61h.01M46 61h.01M15 62h.01M19 62h2M34 62h.01M40 62h.01M43 62h.01M47 62h.01M18 63h.01M24 63h.01M44 63h.01M47 63h.01M13 64h.01M25 64h.01M29 64h.01M44 64h.01M15 65h.01M20 65h.01M23 65h.01M30 65h1M43 65h.01M14 66h.01M36 66h.01M42 66h.01M16 67h.01M18 67h.01M21 67h.01M23 67h.01M27 67h.01M38 67h.01M42 67h.01M48 67h.01M24 68h1M28 68h.01M31 68h.01M37 68h.01M42 68h.01M44 68h.01M46 68h.01M17 69h.01M44 69h.01M50 69h.01M54 69h.01M29 70h.01M32 70h.01M35 70h.01M55 70h.01M19 71h.01M55 71h.01M58 71h.01M46 72h.01M54 72h.01M59 72h.01M61 72h1M44 73h.01M58 73h.01M19 74h.01M29 74h.01M59 74h.01M63 74h.01M29 75h.01M41 75h.01M47 75h.01M50 75h.01M53 75h.01M55 75h.01M50 76h.01M57 76h.01M59 76h.01M63 76h.01M65 76h.01M67 76h1M55 77h.01M67 77h1M53 78h.01M65 78h1M62 79h.01M66 79h.01M68 79h.01M71 79h2M58 80h.01M65 80h.01M73 80h.01M62 81h.01M70 81h.01M72 81h.01M74 81h.01M65 82h.01M70 82h.01M73 82h.01M21 83h.01M65 83h.01M73 83h.01M76 83h.01M61 84h.01M70 84h.01M77 85h.01M74 86h.01M76 86h.01M81 87h1M76 88h.01M80 88h2M84 88h.01M82 89h1M64 90h.01M82 90h.01M84 90h.01M85 91h2M88 92h.01M89 93h.01M89 95h.01M92 95h.01M85 96h.01M87 96h.01M95 98h.01M97 100h.01M98 101h.01M89 102h.01M98 102h.01M97 103h.01M101 104h.01M101 105h.01M103 105h.01M104 106h.01M103 108h.01M107 109h.01M108 110h.01M108 111h.01M110 111h.01M112 113h.01M114 116h1M115 117h.01M118 119h.01M119 120h.01M120 121h.01M121 123h.01M124 124h.01M126 126h.01M129 129h.01M126 130h.01M129 130h.01M132 133h1M140 140h.01M150 150h.01"/><path stroke="#386cb8" d="M5 9h.01M6 14h.01M7 15h.01M9 23h.01M11 36h.01M12 48h.01M36 51h1M32 52h.01M35 52h.01M35 53h.01M39 53h.01M29 54h.01M31 55h.01M40 55h.01M37 56h.01M24 57h.01M38 57h.01M42 57h.01M26 58h.01M35 58h.01M30 59h.01M33 59h.01M38 59h.01M43 59h1M21 60h.01M23 60h.01M38 60h.01M16 61h.01M23 61h.01M27 61h.01M29 61h.01M34 61h.01M47 61h.01M16 62h.01M37 62h2M19 63h.01M32 63h.01M45 63h.01M34 64h.01M48 64h.01M50 64h.01M35 65h.01M40 65h.01M44 65h.01M47 65h.01M49 65h1M17 66h.01M20 66h1M23 66h1M46 66h.01M48 66h.01M51 66h1M25 67h.01M52 67h.01M48 68h.01M53 68h.01M19 69h.01M48 69h.01M55 69h.01M51 70h.01M54 70h.01M57 70h1M54 71h.01M59 71h1M60 72h.01M27 73h.01M62 73h.01M60 74h.01M64 74h.01M64 75h.01M58 76h.01M62 76h.01M66 76h.01M69 77h1M69 78h1M65 79h.01M70 79h.01M64 80h.01M74 80h.01M68 81h.01M75 81h.01M72 82h.01M76 82h.01M72 83h.01M78 83h.01M78 84h.01M75 85h1M79 85h1M72 86h.01M77 87h.01M86 90h.01M80 91h.01M89 92h.01M90 93h.01M92 96h.01M92 97h.01M94 97h.01M98 100h.01M99 101h.01M100 104h.01M102 104h.01M109 112h.01M114 115h.01M116 117h.01M120 120h.01M128 128h.01M128 129h.01"/><path stroke="#3478c0" d="M36 50h.01M53 66h.01M69 76h.01M71 77h.01"/><path stroke="#3087c7" d="M12 46h.01M12 47h.01M33 50h2M33 51h1M38 51h.01M30 52h.01M34 52h.01M38 52h1M29 53h.01M40 53h.01M27 54h.01M33 54h1M37 54h.01M41 54h.01M23 55h.01M29 56h.01M13 58h.01M17 58h1M20 58h.01M23 58h.01M36 58h.01M15 59h.01M17 59h1M20 59h.01M31 59h.01M17 60h.01M20 60h.01M15 61h.01M25 61h.01M33 61h.01M25 62h.01M31 62h.01M46 62h.01M48 62h.01M50 63h.01M41 64h.01M17 65h1M52 65h.01M16 66h.01M52 68h.01M55 68h.01M34 70h.01M59 70h.01M56 71h1M60 73h.01M64 73h1M65 74h1M60 75h.01M66 75h.01M68 75h.01M56 76h.01M68 78h.01M76 81h.01M76 84h.01M79 84h1M84 89h1M84 92h.01M90 94h.01M90 96h.01M93 96h1M97 99h.01M101 103h.01M106 108h.01M108 109h.01M109 110h.01M117 117h.01M118 118h.01M119 119h.01M123 123h.01M130 130h.01"/><path stroke="#2c96cf" d="M9 22h.01M10 27h.01M10 28h.01M11 34h.01M11 35h.01M11 37h.01M34 48h.01M32 49h.01M32 50h.01M30 51h.01M27 53h1M31 53h3M36 53h.01M13 54h.01M24 54h1M28 54h.01M24 55h1M42 55h.01M23 56h1M26 56h.01M42 56h1M14 57h.01M22 57h.01M32 57h.01M15 58h.01M25 58h.01M14 59h.01M16 59h.01M19 59h.01M21 59h.01M36 59h.01M46 59h.01M19 60h.01M34 60h.01M17 61h.01M48 61h.01M17 62h.01M27 62h.01M49 62h.01M16 63h.01M49 63h.01M51 63h.01M51 64h.01M21 65h.01M25 65h.01M53 67h1M56 68h.01M56 69h.01M58 69h.01M56 70h.01M60 70h.01M61 71h1M55 72h.01M57 73h.01M63 73h.01M67 74h.01M62 75h.01M67 75h.01M70 76h.01M72 78h.01M61 79h.01M78 82h.01M81 85h.01M86 89h.01M87 90h.01M96 98h.01M100 102h.01M105 106h.01M106 107h.01M107 108h.01M114 114h.01M116 116h.01"/><path stroke="#2ba4d0" d="M12 44h.01M12 45h.01M33 48h.01M30 49h1M33 49h3M30 50h1M37 50h1M28 51h1M31 51h1M39 51h1M13 52h.01M26 52h2M40 52h.01M13 53h.01M23 53h.01M25 53h1M41 53h.01M22 54h.01M26 54h.01M21 55h1M26 55h.01M14 56h.01M18 56h.01M18 57h3M44 57h.01M19 58h.01M45 58h.01M47 60h.01M50 62h.01M52 64h.01M53 65h.01M57 67h.01M57 68h1M57 69h.01M61 70h.01M63 72h.01M66 73h.01M68 74h.01M69 75h.01M71 76h.01M72 77h.01M74 79h.01M75 80h.01M79 83h.01M84 87h.01M85 88h.01M88 91h.01M92 94h.01M93 95h.01M95 97h.01M102 103h.01M103 104h.01M104 105h.01"/><path stroke="#2eafcd" d="M5 7h.01M5 8h.01M31 47h.01M33 47h2M31 48h1M36 48h1M29 49h.01M37 49h.01M27 50h2M39 50h.01M26 51h1M29 52h.01M33 52h.01M36 52h.01M41 52h.01M24 53h.01M42 53h.01M19 54h1M23 54h.01M42 54h.01M13 55h1M20 55h.01M27 55h.01M43 55h.01M15 56h.01M17 56h.01M19 56h3M44 56h.01M17 57h.01M25 57h1M43 57h.01M45 57h.01M16 58h.01M24 58h.01M44 58h.01M24 59h.01M47 59h.01M25 60h.01M48 60h1M49 61h.01M51 62h.01M52 63h.01M49 64h.01M53 64h.01M47 66h.01M54 66h.01M56 66h.01M55 67h1M59 67h.01M53 69h.01M59 69h.01M61 69h.01M62 70h.01M63 71h1M64 72h2M69 74h.01M73 78h.01M75 79h.01M76 80h.01M77 81h.01M82 85h.01M82 86h1M83 87h.01M89 91h.01M91 93h.01M96 99h.01M111 111h.01M115 115h.01"/><path stroke="#3db1c2" d="M6 11h.01M8 17h.01M12 43h.01M32 46h1M32 47h.01M36 47h.01M26 48h.01M29 48h1M35 48h.01M25 49h.01M27 49h1M38 49h1M23 50h.01M25 50h1M23 51h.01M25 51h.01M41 51h.01M23 52h1M20 53h2M21 54h.01M43 54h.01M16 55h.01M18 55h1M16 56h.01M45 56h.01M15 57h1M46 57h.01M46 58h.01M15 60h.01M50 60h.01M50 61h.01M54 64h.01M54 65h.01M55 66h.01M54 68h.01M59 68h1M60 69h.01M63 70h.01M65 71h.01M67 73h1M70 75h.01M73 77h.01M80 83h.01M81 84h.01M99 100h.01M100 101h.01M101 102h.01M110 110h.01M112 112h.01M113 113h.01"/><path stroke="#4cb3b7" d="M6 12h.01M7 14h.01M9 21h.01M10 26h.01M11 33h.01M12 42h.01M30 45h.01M30 46h1M34 46h1M25 47h.01M27 47h1M30 47h.01M37 47h.01M24 48h.01M27 48h1M38 48h.01M24 50h.01M13 51h.01M22 51h.01M21 52h.01M25 52h.01M18 53h1M43 53h.01M14 54h1M17 54h.01M15 55h.01M17 55h.01M44 55h.01M47 57h.01M47 58h1M48 59h.01M51 61h.01M52 62h1M53 63h.01M55 64h1M55 65h2M57 66h.01M58 67h.01M60 67h1M63 69h1M64 70h.01M67 72h.01M74 78h.01M78 81h.01M95 96h.01M97 98h.01M98 99h.01M108 108h.01"/><path stroke="#57b6b1" d="M12 41h.01M28 45h1M31 45h4M28 46h.01M29 47h.01M38 47h.01M23 48h.01M25 48h.01M39 48h.01M24 49h.01M26 49h.01M40 49h.01M13 50h.01M20 50h2M40 50h.01M14 51h.01M19 51h.01M21 51h.01M24 51h.01M42 51h.01M14 52h.01M18 52h1M42 52h1M14 53h.01M16 53h1M16 54h.01M18 54h.01M44 54h.01M45 55h.01M46 56h.01M49 59h1M51 60h.01M52 61h1M54 63h1M58 66h.01M61 68h1M62 69h.01M68 72h.01M69 73h.01M70 74h.01M71 75h.01M72 76h.01M77 80h.01M79 82h.01M85 87h.01M86 88h.01M87 89h.01M88 90h.01M90 92h.01M96 97h.01M107 107h.01M109 109h.01"/><path stroke="#60b8ad" d="M10 25h.01M11 32h.01M30 41h.01M33 42h.01M32 43h.01M34 43h.01M27 44h.01M31 44h2M27 45h.01M24 46h.01M26 46h1M29 46h.01M36 46h1M24 47h.01M26 47h.01M20 48h.01M22 48h.01M13 49h.01M21 49h2M17 50h.01M41 50h.01M16 51h.01M20 51h.01M15 52h1M20 52h.01M22 52h.01M15 53h.01M44 53h.01M47 56h.01M48 57h.01M49 58h1M51 59h.01M54 62h1M56 63h.01M57 64h1M58 65h1M59 66h.01M65 70h.01M66 71h.01M76 79h.01M83 85h.01M84 86h.01M93 94h.01M94 95h.01M104 104h.01M105 105h.01M106 106h.01"/><path stroke="#69bba9" d="M5 6h.01M6 10h.01M9 20h.01M11 31h.01M12 40h.01M27 42h.01M32 42h.01M26 43h1M29 43h.01M31 43h.01M33 43h.01M25 44h1M29 44h1M34 44h1M24 45h2M36 45h.01M23 46h.01M25 46h.01M38 46h.01M13 47h.01M20 47h1M23 47h.01M13 48h.01M21 48h.01M14 49h.01M20 49h.01M14 50h1M18 50h1M42 50h.01M18 51h.01M17 52h.01M45 54h.01M46 55h.01M48 56h.01M52 60h.01M54 61h.01M60 66h1M62 67h.01M63 68h.01M65 69h.01M67 71h.01M71 74h.01M74 77h.01M75 78h.01M82 84h.01M92 93h.01M103 103h.01"/><path stroke="#6fbea6" d="M8 16h.01M12 38h.01M12 39h.01M20 40h.01M27 40h1M25 41h.01M29 41h.01M31 41h1M24 42h.01M26 42h.01M28 42h3M28 43h.01M30 43h.01M35 43h.01M24 44h.01M28 44h.01M36 44h1M13 45h.01M20 45h3M13 46h.01M18 46h.01M20 46h2M19 47h.01M22 47h.01M39 47h.01M17 48h.01M19 48h.01M40 48h.01M17 49h1M15 51h.01M17 51h.01M43 51h.01M45 53h.01M46 54h.01M47 55h1M49 57h1M51 58h.01M53 60h.01M57 63h1M59 64h.01M73 76h.01M78 80h.01M79 81h.01M80 82h.01M81 83h.01M90 91h.01M91 92h.01M100 100h.01M101 101h.01M102 102h.01"/><path stroke="#74c0a4" d="M6 8h.01M6 9h.01M7 13h.01M10 24h.01M12 37h.01M28 39h2M22 40h1M26 40h.01M29 40h2M23 41h.01M28 41h.01M33 41h1M23 42h.01M25 42h.01M34 42h1M21 43h.01M23 43h2M36 43h.01M22 44h1M16 45h.01M37 45h.01M14 46h1M19 46h.01M39 46h.01M14 47h4M40 47h.01M14 48h.01M16 48h.01M15 49h1M19 49h.01M41 49h.01M16 50h.01M44 52h.01M49 56h.01M51 57h.01M52 59h1M55 61h.01M56 62h.01M60 65h.01M64 68h.01M66 70h.01M72 75h.01M76 78h.01M77 79h.01M88 89h.01M89 90h.01M98 98h.01"/><path stroke="#79c3a1" d="M9 19h.01M11 29h.01M11 30h.01M12 35h.01M23 37h.01M25 37h.01M28 37h.01M26 38h1M21 39h6M31 39h.01M19 40h.01M25 40h.01M32 40h.01M24 41h.01M26 41h1M19 42h3M13 43h.01M19 43h1M22 43h.01M13 44h.01M17 44h.01M19 44h2M18 45h1M38 45h.01M16 46h1M15 48h.01M18 48h.01M41 48h.01M42 49h.01M44 51h.01M45 52h.01M46 53h.01M47 54h.01M49 55h.01M52 58h.01M54 59h.01M54 60h.01M56 61h.01M57 62h.01M62 66h.01M63 67h.01M69 72h.01M70 73h.01M75 77h.01M85 86h.01M86 87h.01M87 88h.01M97 97h.01M99 99h.01"/><path stroke="#7fc59f" d="M7 12h.01M8 15h.01M10 22h.01M10 23h.01M11 27h.01M11 28h.01M25 34h.01M25 35h.01M12 36h.01M24 36h1M21 37h1M24 37h.01M27 37h.01M29 37h.01M19 38h.01M21 38h3M28 38h1M13 39h1M32 39h.01M13 40h.01M24 40h.01M33 40h.01M17 41h.01M21 41h1M13 42h.01M16 42h.01M14 44h2M18 44h.01M38 44h.01M14 45h1M17 45h.01M39 45h.01M43 50h.01M48 54h.01M50 56h.01M53 58h.01M55 60h.01M59 63h.01M61 65h.01M67 70h.01M68 71h.01M95 95h.01M96 96h.01"/><path stroke="#85c79d" d="M8 13h.01M8 14h.01M9 17h.01M9 18h.01M10 21h.01M11 26h.01M12 33h.01M12 34h.01M18 34h.01M26 34h.01M13 35h.01M24 35h.01M21 36h2M26 36h.01M28 36h1M13 37h.01M18 37h.01M20 37h.01M26 37h.01M30 37h.01M13 38h1M18 38h.01M25 38h.01M30 38h.01M15 39h.01M17 39h.01M19 39h1M33 39h.01M14 40h.01M16 40h2M21 40h.01M13 41h.01M15 41h.01M18 41h2M35 41h.01M14 42h1M17 42h.01M14 43h1M17 43h.01M37 43h.01M41 47h.01M42 48h.01M43 49h.01M44 50h.01M45 51h.01M46 52h.01M58 62h.01M60 64h.01M65 68h.01M73 75h.01M81 82h.01M82 83h.01M83 84h.01M84 85h.01M94 94h.01"/><path stroke="#8bca9a" d="M5 5h.01M7 10h.01M7 11h.01M9 16h.01M10 20h.01M11 21h.01M11 23h.01M11 25h.01M12 26h.01M12 29h.01M14 30h.01M12 31h.01M12 32h.01M15 32h.01M20 32h.01M17 33h.01M20 33h.01M24 33h1M20 34h4M28 34h.01M14 35h1M17 35h.01M19 35h4M26 35h.01M13 36h1M16 36h.01M18 36h2M27 36h.01M14 37h.01M16 37h1M19 37h.01M15 38h1M20 38h.01M31 38h1M16 39h.01M15 40h.01M34 40h.01M14 41h.01M16 41h.01M36 41h.01M18 42h.01M36 42h.01M16 43h.01M18 43h.01M40 46h.01M47 53h.01M49 54h.01M50 55h.01M51 56h.01M52 57h.01M57 61h.01M63 66h.01M64 67h.01M66 69h1M70 72h.01M71 73h.01M72 74h.01M74 76h.01M80 81h.01M90 90h.01M91 91h.01M92 92h.01M93 93h.01"/><path stroke="#91cc97" d="M6 7h.01M9 14h.01M10 18h.01M10 19h.01M11 22h1M11 24h.01M14 26h.01M13 27h.01M12 28h.01M13 29h.01M12 30h1M17 30h4M13 31h1M16 31h.01M20 31h1M13 32h1M17 32h2M23 32h.01M13 33h3M19 33h.01M22 33h1M26 33h.01M13 34h.01M15 34h.01M17 34h.01M19 34h.01M27 34h.01M16 35h.01M18 35h.01M27 35h2M15 36h.01M17 36h.01M30 36h.01M15 37h.01M31 37h.01M17 38h.01M18 39h.01M34 39h.01M39 44h.01M47 52h.01M48 53h.01M53 57h.01M54 58h.01M55 59h.01M56 60h.01M61 64h.01M87 87h.01M89 89h.01"/><path stroke="#9cce90" d="M8 12h.01M9 15h.01M10 16h.01M10 17h.01M12 19h.01M13 22h.01M12 23h.01M14 23h.01M12 24h1M12 25h1M17 26h.01M12 27h.01M14 27h1M18 27h.01M13 28h1M16 28h.01M18 28h2M14 29h.01M18 29h.01M20 29h.01M22 30h1M17 31h2M22 31h1M16 32h.01M21 32h1M24 32h.01M18 33h.01M21 33h.01M14 34h.01M16 34h.01M33 38h.01M35 40h.01M37 42h.01M38 43h.01M40 45h.01M41 46h.01M42 47h.01M43 48h.01M44 49h.01M45 50h.01M52 56h.01M57 60h.01M59 62h.01M60 63h.01M62 65h.01M66 68h.01M68 70h.01M69 71h.01M75 76h.01M77 78h.01M79 80h.01M85 85h.01M88 88h.01"/><path stroke="#a8d088" d="M10 15h.01M11 17h.01M11 18h.01M11 19h.01M11 20h2M13 21h.01M14 22h.01M13 23h.01M14 24h1M17 24h.01M14 25h.01M16 25h.01M13 26h.01M15 26h1M18 26h.01M17 27h.01M19 27h1M15 28h.01M17 28h.01M21 28h.01M15 29h2M19 29h.01M22 29h1M15 30h1M15 31h.01M24 31h1M25 32h2M27 33h.01M30 35h.01M37 41h.01M46 51h.01M51 55h.01M58 61h.01M65 67h.01M73 74h.01M74 75h.01M78 79h.01M86 86h.01"/><path stroke="#bcc981" d="M7 9h.01M8 11h.01M9 13h.01M10 14h.01M11 16h.01M12 17h.01M12 18h.01M14 20h.01M12 21h.01M14 21h1M15 22h.01M17 22h.01M15 23h1M16 24h.01M15 25h.01M17 25h1M19 26h1M16 27h.01M21 27h.01M22 28h.01M21 29h.01M24 30h1M26 31h.01M28 33h.01M31 36h.01M32 37h.01M40 44h.01M45 49h.01M48 52h.01M49 53h.01M50 54h.01M53 56h.01M54 57h.01M55 58h.01M56 59h.01M63 65h.01M64 66h.01M76 77h.01M84 84h.01"/><path stroke="#ccc179" d="M13 18h.01M13 19h1M15 20h.01M16 22h.01M17 23h.01M18 24h.01M22 27h.01M24 29h.01M29 33h.01M29 34h.01M31 35h.01M32 36h.01M36 40h.01M38 42h.01M39 43h.01M41 45h.01M42 46h.01M43 47h.01M44 48h.01M46 50h.01M52 55h.01M62 64h.01M71 72h.01M72 73h.01M82 82h.01M83 83h.01"/><path stroke="#d8b772" d="M11 15h.01M12 16h.01M16 21h1M18 23h.01M19 25h1M21 26h.01M23 28h.01M27 31h.01M28 32h.01M33 37h.01M34 38h.01M35 39h.01M47 51h.01M51 54h.01M59 61h.01M60 62h.01M61 63h.01M69 70h.01M70 71h.01M78 78h.01M79 79h.01M81 81h.01"/><path stroke="#e4aa6c" d="M6 6h.01M9 12h.01M13 17h.01M15 19h.01M16 20h.01M18 22h.01M19 24h.01M22 26h.01M23 27h.01M25 29h.01M26 30h.01M30 34h.01M47 50h.01M50 53h.01M65 66h.01M66 67h.01M68 69h.01M76 76h.01M80 80h.01"/><path stroke="#ec9b66" d="M7 8h.01M8 10h.01M14 18h.01M20 24h.01M21 25h.01M24 28h.01M48 51h.01M49 52h.01M56 58h.01M57 59h.01M58 60h.01M63 64h.01M75 75h.01M77 77h.01"/><path stroke="#ea8860" d="M10 13h.01M14 17h.01M19 23h.01M27 30h.01M29 32h.01M31 34h.01M33 36h.01M34 37h.01M35 38h.01M36 39h.01M39 42h.01M40 43h.01M41 44h.01M42 45h.01M46 49h.01M52 54h.01M55 57h.01M67 68h.01M73 73h.01M74 74h.01"/><path stroke="#e87659" d="M9 11h.01M11 14h.01M16 19h.01M17 20h.01M18 21h.01M19 22h.01M20 23h.01M23 26h.01M24 27h.01M28 31h.01M30 33h.01M32 35h.01M37 40h.01M38 41h.01M43 46h.01M44 47h.01M45 48h.01M53 55h.01M54 56h.01M64 65h.01M70 70h.01M71 71h.01M72 72h.01"/><path stroke="#e56953" d="M8 9h.01M12 15h.01M13 16h.01M21 24h.01M22 25h.01M25 28h.01M26 29h.01M49 51h.01M51 53h.01M59 60h.01M60 61h.01M61 62h.01M62 63h.01"/><path stroke="#e25c4e" d="M15 18h.01M47 49h.01M50 52h.01M58 59h.01M69 69h.01"/><path stroke="#e05048" d="M7 7h.01M10 12h.01M11 13h.01M16 18h.01M24 26h.01M25 27h.01M28 30h.01M33 35h.01M34 36h.01M36 38h.01M41 43h.01M46 48h.01M48 50h.01M56 57h.01M57 58h.01M63 63h.01M65 65h.01M67 67h.01M68 68h.01"/><path stroke="#dd4742" d="M12 14h.01M13 15h.01M14 16h.01M15 17h.01M19 21h.01M20 22h.01M21 23h.01M23 25h.01M31 33h.01M35 37h.01M37 39h.01M38 40h.01M39 41h.01M40 42h.01M42 44h.01M44 46h.01M52 53h.01M54 55h.01M55 56h.01M66 66h.01"/><path stroke="#db3f3c" d="M17 19h.01M18 20h.01M22 24h.01M26 28h.01M27 29h.01M29 31h.01M30 32h.01M32 34h.01M43 45h.01M45 47h.01M64 64h.01"/><path stroke="#d83636" d="M9 10h.01M49 50h.01M51 52h.01M59 59h.01M62 62h.01"/><path stroke="#d62e30" d="M8 8h.01M9 9h.01M10 10h.01M10 11h1M11 12h1M12 13h1M13 14h1M14 15h1M15 16h1M16 17h1M17 18h1M18 19h1M19 20h1M20 21h1M21 22h1M22 23h1M23 24h1M24 25h1M25 26h1M26 27h1M27 28h1M28 29h1M29 30h1M30 31h1M31 32h1M32 33h1M33 34h1M34 35h1M35 36h1M36 37h1M37 38h1M38 39h1M39 40h1M40 41h1M41 42h1M42 43h1M43 44h1M44 45h1M45 46h1M46 47h1M47 48h1M48 49h1M50 50h.01M50 51h1M52 52h.01M53 53h.01M53 54h1M55 55h.01M56 56h.01M57 57h.01M58 58h.01M60 60h.01M61 61h.01"/></g></g>
<line x1="301" y1="250.3" x2="484.3" y2="67" stroke="#2a2a2a" stroke-width="1"/>
<rect x="301" y="67" width="183.3" height="183.3" fill="none" stroke="#666" stroke-width="1.15"/>
<path d="M301,250.3v-2.5M301,67v2.5M301,250.3h2.5M484.3,250.3h-2.5M337.66,250.3v-2.5M337.66,67v2.5M301,213.64h2.5M484.3,213.64h-2.5M374.32,250.3v-2.5M374.32,67v2.5M301,176.98h2.5M484.3,176.98h-2.5M410.98,250.3v-2.5M410.98,67v2.5M301,140.32h2.5M484.3,140.32h-2.5M447.64,250.3v-2.5M447.64,67v2.5M301,103.66h2.5M484.3,103.66h-2.5M484.3,250.3v-2.5M484.3,67v2.5M301,67h2.5M484.3,67h-2.5" stroke="#333" stroke-width="0.8"/>
<g font-family="Liberation Sans" font-size="7" fill="#333"><text x="298.5" y="252.8" text-anchor="end">0</text><text x="301" y="257.9" text-anchor="middle">0</text><text x="298.5" y="216.14" text-anchor="end">20</text><text x="337.66" y="257.9" text-anchor="middle">20</text><text x="298.5" y="179.48" text-anchor="end">40</text><text x="374.32" y="257.9" text-anchor="middle">40</text><text x="298.5" y="142.82" text-anchor="end">60</text><text x="410.98" y="257.9" text-anchor="middle">60</text><text x="298.5" y="106.16" text-anchor="end">80</text><text x="447.64" y="257.9" text-anchor="middle">80</text><text x="298.5" y="69.5" text-anchor="end">100</text><text x="484.3" y="257.9" text-anchor="middle">100</text></g>
<g transform="translate(383.95,259.4)" fill="#333"><path d="M9.8,0.9 C6.6,-0.3 1.9,1.4 0.7,4.8 C-0.2,7.6 2.2,9.3 4.8,8.7 C6.1,8.4 6.9,7.8 7.5,7.0" fill="none" stroke="#3a3a3a" stroke-width="1.0" stroke-linecap="round"/><path d="M2.8,6.6 C4.4,4.9 7.4,2.9 9.8,0.9 C11.5,0.4 12.3,1.6 11.7,2.8 C11.1,3.9 9.5,4.4 7.9,4.3 C9.1,5.4 10.4,7.2 11.9,8.3" fill="none" stroke="#3a3a3a" stroke-width="0.75" stroke-linecap="round"/><text x="14.1" y="3.2" font-family="Liberation Serif" font-size="8.2">2</text><text x="12.1" y="11.3" font-family="Liberation Serif" font-style="italic" font-size="9.5">b</text></g>
<g transform="translate(276.8,167) rotate(-90)" fill="#333"><path d="M9.8,0.9 C6.6,-0.3 1.9,1.4 0.7,4.8 C-0.2,7.6 2.2,9.3 4.8,8.7 C6.1,8.4 6.9,7.8 7.5,7.0" fill="none" stroke="#3a3a3a" stroke-width="1.0" stroke-linecap="round"/><path d="M2.8,6.6 C4.4,4.9 7.4,2.9 9.8,0.9 C11.5,0.4 12.3,1.6 11.7,2.8 C11.1,3.9 9.5,4.4 7.9,4.3 C9.1,5.4 10.4,7.2 11.9,8.3" fill="none" stroke="#3a3a3a" stroke-width="0.75" stroke-linecap="round"/><text x="14.1" y="3.2" font-family="Liberation Serif" font-size="8.2">2</text><text x="12.1" y="11.3" font-family="Liberation Serif" font-style="italic" font-size="9.5">d</text></g>
<rect x="497" y="67.2" width="9.5" height="183.1" fill="url(#cbg)" stroke="#555" stroke-width="0.8"/>
<path d="M506.5,250.3h-2M506.5,186.5h-2M506.5,122.7h-2" stroke="#333" stroke-width="0.8"/>
<g font-family="Liberation Sans" font-size="7" fill="#333"><text x="509" y="252.4">10<tspan font-size="5.2" dy="-3.2">0</tspan></text><text x="509" y="188.6">10<tspan font-size="5.2" dy="-3.2">1</tspan></text><text x="509" y="124.8">10<tspan font-size="5.2" dy="-3.2">2</tspan></text></g>
<text transform="translate(415.1,245.1) scale(1.05,1)" font-family="Liberation Serif" font-size="17.5" fill="#111" class="nc">N<tspan font-size="12.42" dy="2.6">c</tspan><tspan dy="-2.6">=1M</tspan></text>
<g stroke="#b4b4b4" stroke-width="0.8" stroke-dasharray="1,1.1"><line x1="67.4" y1="290.5" x2="67.4" y2="473.3"/><line x1="30.8" y1="436.74" x2="213.8" y2="436.74"/><line x1="104" y1="290.5" x2="104" y2="473.3"/><line x1="30.8" y1="400.18" x2="213.8" y2="400.18"/><line x1="140.6" y1="290.5" x2="140.6" y2="473.3"/><line x1="30.8" y1="363.62" x2="213.8" y2="363.62"/><line x1="177.2" y1="290.5" x2="177.2" y2="473.3"/><line x1="30.8" y1="327.06" x2="213.8" y2="327.06"/></g>
<clipPath id="cp2"><polygon points="30.80,473.30 213.80,290.50 30.80,290.50"/></clipPath><g clip-path="url(#cp2)"><g transform="translate(31.5,472.5) scale(1,-1)" fill="none" stroke-width="1.15" stroke-linecap="square"><path stroke="#5a4a9c" d="M2 2h.01M3 3h.01M3 4h.01M3 5h.01M4 6h.01M4 11h.01M4 12h.01M4 13h.01M4 14h.01M5 16h.01M6 19h.01M6 21h.01M6 23h.01M7 24h.01M7 26h.01M7 28h.01M7 31h1M8 33h.01M9 36h.01M9 38h.01M9 39h.01M9 41h.01M9 42h.01M9 45h1M32 48h.01M10 49h.01M10 50h.01M31 50h.01M11 51h.01M30 51h.01M34 51h1M38 51h.01M11 52h.01M27 52h.01M30 52h.01M34 52h2M34 53h1M37 53h.01M12 54h.01M36 54h.01M25 55h1M28 55h2M32 55h1M35 55h.01M37 55h.01M39 55h1M12 56h.01M24 56h.01M33 56h.01M42 56h.01M22 57h.01M28 57h.01M31 57h.01M34 57h1M37 57h.01M40 57h1M12 58h.01M27 58h.01M31 58h.01M33 58h2M41 58h.01M44 58h.01M17 59h1M24 59h.01M29 59h.01M31 59h.01M37 59h1M40 59h3M23 60h1M29 60h.01M31 60h.01M35 60h.01M38 60h2M43 60h.01M47 60h.01M20 61h.01M24 61h.01M26 61h.01M28 61h.01M31 61h1M37 61h.01M39 61h.01M42 61h.01M13 62h.01M21 62h.01M30 62h2M41 62h1M13 63h1M16 63h.01M24 63h.01M27 63h.01M29 63h1M45 63h1M13 64h.01M18 64h.01M25 64h5M35 64h1M42 64h.01M44 64h1M47 64h.01M13 65h.01M15 65h.01M20 65h.01M23 65h.01M25 65h.01M29 65h.01M31 65h2M43 65h1M18 66h.01M25 66h.01M27 66h2M34 66h.01M36 66h1M41 66h.01M43 66h.01M46 66h.01M49 66h.01M51 66h.01M14 67h.01M16 67h.01M18 67h.01M22 67h.01M25 67h.01M29 67h.01M32 67h.01M35 67h1M40 67h.01M42 67h1M46 67h.01M50 67h2M17 68h.01M20 68h.01M24 68h.01M28 68h2M33 68h.01M35 68h.01M43 68h.01M45 68h1M48 68h2M54 68h.01M15 69h.01M17 69h.01M19 69h1M25 69h.01M27 69h.01M31 69h.01M36 69h2M41 69h.01M45 69h.01M48 69h1M52 69h.01M55 69h.01M14 70h.01M17 70h.01M20 70h.01M23 70h.01M26 70h1M29 70h.01M31 70h1M37 70h.01M39 70h1M51 70h.01M14 71h.01M20 71h.01M22 71h.01M24 71h.01M29 71h2M35 71h1M39 71h1M44 71h.01M46 71h2M53 71h.01M56 71h.01M14 72h5M21 72h.01M23 72h.01M27 72h.01M33 72h.01M36 72h.01M38 72h.01M41 72h.01M48 72h1M14 73h1M18 73h.01M24 73h.01M27 73h.01M30 73h3M38 73h.01M40 73h.01M14 74h.01M19 74h.01M31 74h1M36 74h1M41 74h.01M43 74h1M51 74h.01M55 74h.01M60 74h.01M63 74h.01M15 75h.01M20 75h.01M24 75h.01M27 75h.01M30 75h.01M36 75h.01M38 75h1M44 75h.01M47 75h.01M50 75h.01M52 75h1M56 75h2M63 75h.01M18 76h.01M20 76h.01M25 76h1M28 76h.01M30 76h1M33 76h.01M35 76h1M38 76h1M50 76h1M55 76h3M15 77h.01M18 77h.01M23 77h.01M25 77h1M29 77h.01M31 77h.01M33 77h1M37 77h.01M41 77h1M51 77h.01M54 77h.01M56 77h.01M17 78h.01M20 78h.01M22 78h.01M26 78h1M35 78h.01M41 78h.01M48 78h1M51 78h1M55 78h.01M59 78h1M62 78h1M65 78h.01M20 79h.01M30 79h1M34 79h.01M39 79h.01M44 79h2M53 79h.01M57 79h.01M60 79h.01M68 79h.01M22 80h.01M24 80h.01M26 80h.01M30 80h.01M41 80h.01M47 80h2M51 80h.01M53 80h.01M58 80h4M65 80h.01M67 80h1M73 80h.01M17 81h1M31 81h1M45 81h.01M55 81h.01M58 81h.01M60 81h.01M62 81h.01M64 81h1M75 81h.01M26 82h.01M32 82h.01M37 82h.01M51 82h.01M58 82h.01M60 82h.01M62 82h.01M69 82h2M18 83h.01M23 83h.01M39 83h.01M45 83h1M54 83h.01M57 83h.01M63 83h.01M68 83h.01M73 83h.01M75 83h.01M77 83h.01M18 84h.01M22 84h.01M24 84h.01M37 84h.01M42 84h1M51 84h.01M53 84h1M60 84h.01M65 84h.01M67 84h.01M70 84h.01M72 84h.01M74 84h1M78 84h1M21 85h.01M50 85h.01M54 85h.01M61 85h.01M66 85h.01M69 85h.01M72 85h1M76 85h.01M80 85h.01M64 86h3M69 86h.01M72 86h1M76 86h.01M78 86h.01M36 87h.01M59 87h.01M67 87h.01M73 87h.01M78 87h1M26 88h.01M29 88h.01M61 88h2M66 88h.01M73 88h.01M76 88h2M21 89h.01M71 89h.01M76 89h1M80 89h.01M32 90h.01M51 90h1M64 90h.01M68 90h1M76 90h.01M80 90h.01M84 90h.01M86 90h.01M42 91h.01M71 91h.01M77 91h.01M79 91h.01M83 91h1M86 91h.01M70 92h.01M78 92h.01M81 92h1M85 92h.01M87 92h.01M22 93h.01M63 93h.01M68 93h1M75 93h.01M78 93h1M83 93h.01M85 93h1M89 93h.01M70 94h.01M79 94h3M84 94h.01M66 95h.01M84 95h.01M86 95h1M74 96h.01M76 96h.01M81 96h.01M91 96h1M77 97h.01M82 97h.01M86 97h.01M90 97h.01M63 98h.01M81 98h.01M83 98h.01M86 98h.01M89 98h.01M92 98h.01M63 99h.01M95 99h.01M65 100h.01M82 100h.01M91 100h.01M86 101h.01M92 101h.01M94 101h.01M97 101h.01M85 102h.01M97 102h.01M100 102h.01M33 103h.01M77 103h.01M84 103h.01M94 103h.01M96 103h2M77 104h.01M93 104h.01M95 104h.01M99 104h2M91 105h.01M94 105h.01M97 105h2M83 106h.01M97 107h.01M100 107h.01M102 107h.01M104 107h.01M95 108h1M102 108h2M74 109h.01M106 109h.01M108 110h.01M106 111h1M96 112h.01M110 113h1M106 114h.01M110 114h1M108 115h.01M112 115h.01M112 116h.01M114 116h.01M114 117h1M115 118h.01M118 119h.01M118 120h.01M93 121h.01M98 121h.01M114 121h.01M117 121h1M89 122h.01M121 122h.01M122 124h.01M124 125h.01M122 126h.01M128 129h.01M128 130h.01M126 131h.01M128 131h2M116 132h.01M131 132h1M133 133h.01M131 134h.01M133 134h.01M126 135h.01M131 135h.01M135 135h.01M131 137h.01M137 138h1M136 139h.01M135 141h.01M138 141h.01M141 141h.01M142 142h.01M145 146h1M148 148h.01M150 150h.01M151 152h1M151 153h.01M154 155h1M156 156h.01M31 157h.01M158 159h.01M156 160h.01M158 160h.01M167 167h.01M165 168h.01M170 170h.01M171 172h.01M174 178h.01"/><path stroke="#4058ac" d="M4 5h.01M5 14h.01M7 29h.01M8 32h.01M9 40h.01M10 42h.01M10 44h.01M11 48h.01M33 48h.01M11 49h.01M30 49h1M33 49h.01M36 49h.01M28 51h.01M32 51h1M28 52h.01M31 52h.01M33 52h.01M37 52h.01M39 52h.01M31 53h.01M33 53h.01M39 53h1M24 54h.01M26 54h1M29 54h1M32 54h1M35 54h.01M37 54h2M34 55h.01M36 55h.01M42 55h.01M21 56h.01M25 56h.01M27 56h.01M31 56h.01M35 56h1M39 56h.01M41 56h.01M30 57h.01M36 57h.01M38 57h1M44 57h.01M20 58h1M28 58h1M32 58h.01M40 58h.01M42 58h.01M19 59h.01M21 59h1M26 59h.01M30 59h.01M34 59h.01M14 60h1M19 60h.01M26 60h.01M28 60h.01M32 60h1M37 60h.01M41 60h.01M44 60h1M13 61h.01M23 61h.01M25 61h.01M27 61h.01M30 61h.01M41 61h.01M43 61h4M16 62h.01M23 62h.01M26 62h.01M28 62h.01M35 62h.01M39 62h.01M15 63h.01M17 63h.01M19 63h1M22 63h.01M26 63h.01M28 63h.01M31 63h.01M36 63h.01M38 63h.01M49 63h.01M19 64h.01M22 64h1M49 64h1M17 65h.01M19 65h.01M26 65h.01M36 65h.01M40 65h.01M45 65h.01M48 65h.01M51 65h.01M16 66h.01M21 66h.01M23 66h1M26 66h.01M30 66h.01M32 66h.01M50 66h.01M52 66h.01M15 67h.01M17 67h.01M20 67h.01M26 67h.01M31 67h.01M47 67h.01M53 67h1M15 68h.01M18 68h.01M22 68h.01M31 68h.01M34 68h.01M37 68h.01M40 68h.01M42 68h.01M47 68h.01M52 68h.01M18 69h.01M21 69h.01M23 69h.01M26 69h.01M30 69h.01M33 69h.01M42 69h.01M47 69h.01M51 69h.01M57 69h.01M22 70h.01M24 70h.01M30 70h.01M33 70h1M42 70h2M46 70h.01M48 70h.01M54 70h.01M56 70h.01M15 71h2M21 71h.01M25 71h.01M38 71h.01M41 71h.01M45 71h.01M49 71h.01M52 71h.01M54 71h.01M58 71h.01M26 72h.01M30 72h.01M32 72h.01M37 72h.01M39 72h1M43 72h.01M45 72h.01M47 72h.01M50 72h.01M53 72h1M57 72h.01M16 73h1M19 73h.01M22 73h.01M28 73h.01M35 73h1M43 73h.01M45 73h.01M48 73h.01M50 73h1M54 73h.01M59 73h.01M15 74h.01M18 74h.01M26 74h1M30 74h.01M33 74h1M40 74h.01M42 74h.01M45 74h.01M47 74h1M50 74h.01M53 74h.01M58 74h.01M64 74h.01M21 75h.01M25 75h.01M40 75h.01M60 75h.01M62 75h.01M64 75h.01M44 76h.01M53 76h1M59 76h1M36 77h.01M40 77h.01M50 77h.01M52 77h.01M58 77h.01M61 77h.01M63 77h1M68 77h.01M33 78h.01M54 78h.01M56 78h.01M61 78h.01M64 78h.01M66 78h1M69 78h.01M19 79h.01M21 79h.01M35 79h.01M56 79h.01M62 79h2M66 79h.01M21 80h.01M34 80h.01M38 80h.01M42 80h.01M64 80h.01M69 80h.01M72 80h.01M74 80h.01M29 81h.01M40 81h.01M46 81h.01M68 81h.01M72 81h.01M19 82h.01M63 82h.01M67 82h.01M73 82h.01M72 83h.01M76 83h.01M38 84h.01M69 84h.01M71 84h.01M76 84h.01M62 85h.01M67 85h.01M70 85h.01M74 85h.01M70 86h.01M75 86h.01M79 86h.01M68 87h.01M74 87h.01M77 87h.01M65 88h.01M79 88h1M72 89h.01M83 89h1M79 90h.01M78 91h.01M80 91h.01M85 91h.01M87 93h.01M85 94h.01M88 94h.01M89 95h.01M88 96h.01M93 96h.01M88 97h.01M92 97h1M80 98h.01M87 98h.01M90 98h.01M94 98h.01M91 101h.01M89 102h.01M99 102h.01M100 103h.01M102 105h.01M99 106h.01M103 106h.01M105 107h.01M106 108h.01M107 109h.01M116 118h1M119 120h.01M120 121h.01M122 125h.01M126 128h.01M129 130h.01M131 131h.01M131 133h1M137 137h.01M140 141h.01M145 145h.01M147 147h.01M149 149h.01M154 154h.01M160 162h.01"/><path stroke="#386cb8" d="M4 4h.01M4 8h.01M4 9h.01M6 18h.01M7 25h.01M8 30h.01M9 35h.01M10 43h.01M30 48h.01M34 48h.01M28 49h.01M32 49h.01M34 49h.01M29 50h1M33 50h.01M36 50h.01M26 51h1M36 51h1M24 53h.01M30 53h.01M38 53h.01M23 54h.01M25 54h.01M31 54h.01M34 54h.01M24 55h.01M31 55h.01M22 56h.01M26 56h.01M28 56h.01M30 56h.01M34 56h.01M43 56h.01M25 57h1M29 57h.01M23 58h.01M25 58h1M30 58h.01M36 58h.01M43 58h.01M25 59h.01M28 59h.01M46 59h.01M13 60h.01M21 60h.01M25 60h.01M27 60h.01M22 61h.01M36 61h.01M17 62h.01M24 62h.01M46 62h.01M49 62h.01M21 63h.01M44 63h.01M47 63h.01M31 64h.01M16 65h.01M18 65h.01M28 65h.01M46 65h.01M14 66h.01M17 66h.01M44 66h.01M21 67h.01M30 67h.01M48 67h.01M16 68h.01M21 68h.01M25 68h2M53 68h.01M55 68h.01M54 69h.01M25 70h.01M35 70h.01M38 70h.01M52 70h.01M58 70h.01M23 71h.01M55 71h.01M59 71h.01M22 72h.01M24 72h.01M55 72h.01M59 72h.01M21 73h.01M42 73h.01M44 73h.01M46 73h.01M53 73h.01M55 73h.01M57 73h.01M25 74h.01M39 74h.01M49 74h.01M62 74h.01M29 75h.01M55 75h.01M59 75h.01M34 76h.01M52 76h.01M64 76h.01M17 77h.01M60 77h.01M66 77h.01M70 78h.01M54 80h.01M71 80h.01M22 81h.01M72 82h.01M74 82h1M77 86h.01M80 86h.01M76 87h.01M82 87h.01M81 88h3M82 90h1M82 91h.01M87 91h.01M88 92h.01M86 94h.01M90 94h.01M88 95h.01M92 95h.01M95 98h.01M96 99h.01M96 101h.01M98 102h.01M99 103h.01M101 105h.01M103 105h.01M104 106h.01M105 108h.01M103 110h.01M107 110h.01M109 111h.01M110 112h.01M112 113h.01M115 116h.01M117 119h.01M126 127h.01M127 128h.01M130 130h.01M134 134h.01M136 136h.01M140 140h.01M143 143h.01M151 151h.01"/><path stroke="#3478c0" d="M6 17h.01M30 47h.01M35 48h.01M43 55h.01M14 58h.01M81 85h.01M82 86h.01"/><path stroke="#3087c7" d="M5 13h.01M31 47h1M29 48h.01M31 48h.01M27 49h.01M29 49h.01M34 50h1M37 50h.01M24 52h.01M29 52h.01M32 52h.01M23 53h.01M26 53h.01M28 53h1M36 53h.01M41 54h.01M21 55h2M27 55h.01M13 56h.01M20 56h.01M44 56h.01M19 57h.01M21 57h.01M24 57h.01M13 58h.01M18 58h.01M24 58h.01M45 58h1M14 59h2M23 59h.01M20 60h.01M48 60h.01M15 61h.01M21 61h.01M35 61h.01M48 61h.01M22 62h.01M47 62h1M25 63h.01M15 64h1M24 64h.01M14 65h.01M50 65h.01M20 66h.01M53 66h1M56 67h.01M51 68h.01M58 68h.01M16 69h.01M53 69h.01M59 69h.01M21 70h.01M41 70h.01M53 70h.01M55 70h.01M57 70h.01M18 71h.01M61 71h.01M34 72h.01M44 72h.01M58 72h.01M61 72h.01M63 72h.01M25 73h.01M56 73h.01M60 73h.01M62 73h.01M23 74h.01M54 74h.01M59 74h.01M65 74h.01M33 75h.01M48 75h.01M67 75h.01M61 76h2M67 76h.01M67 77h.01M69 77h.01M69 79h1M72 79h.01M74 79h.01M73 81h.01M76 82h.01M69 83h.01M77 84h.01M77 85h.01M81 86h.01M80 87h.01M82 89h.01M89 92h.01M94 97h.01M98 101h.01M102 104h.01M109 110h.01M110 111h.01M116 117h.01M123 124h1M125 125h.01M127 127h.01"/><path stroke="#2c96cf" d="M7 23h.01M8 29h.01M10 41h.01M31 46h.01M25 47h.01M28 47h.01M33 47h1M26 48h.01M28 48h.01M36 48h.01M26 49h.01M35 49h.01M37 49h.01M26 50h.01M38 50h.01M22 51h3M39 51h.01M12 52h.01M23 52h.01M25 52h.01M40 52h.01M12 53h.01M21 53h1M25 53h.01M41 53h.01M20 54h.01M42 54h.01M18 55h.01M20 55h.01M41 55h.01M18 56h1M32 56h.01M17 57h.01M15 58h.01M17 58h.01M48 59h.01M16 60h.01M18 60h.01M14 61h.01M17 61h2M29 61h.01M19 62h.01M50 62h.01M18 63h.01M50 63h1M20 64h.01M52 64h.01M22 65h.01M49 65h.01M53 65h.01M15 66h.01M19 66h.01M55 66h.01M19 67h.01M55 67h.01M56 68h1M24 69h.01M56 69h.01M58 69h.01M59 70h1M50 71h.01M57 71h.01M60 71h.01M62 71h.01M62 72h.01M47 73h.01M58 73h.01M61 73h.01M63 73h.01M66 74h.01M19 75h.01M66 75h.01M68 75h.01M68 76h1M70 77h.01M72 78h.01M71 79h.01M73 79h.01M74 81h.01M76 81h.01M68 82h.01M77 82h.01M78 83h.01M80 84h.01M78 85h.01M81 87h.01M85 90h.01M87 90h.01M91 94h.01M90 95h.01M96 98h.01M98 100h.01M101 103h.01M105 106h.01M107 108h.01M108 109h.01M113 114h.01M114 115h.01M119 119h.01M122 122h.01M123 123h.01"/><path stroke="#2ba4d0" d="M5 12h.01M8 28h.01M30 44h.01M29 45h2M28 46h.01M30 46h.01M32 46h1M35 46h.01M11 47h.01M26 47h1M35 47h.01M25 48h.01M37 48h.01M22 49h.01M24 49h1M38 49h.01M23 50h.01M25 50h.01M21 52h1M41 52h.01M13 53h.01M19 53h1M13 54h.01M21 54h1M13 55h.01M17 55h.01M19 55h.01M44 55h.01M14 56h.01M16 56h1M45 56h.01M14 57h.01M16 57h.01M18 57h.01M45 57h1M16 58h.01M47 58h.01M49 60h.01M49 61h1M52 62h.01M53 64h.01M54 65h.01M56 66h.01M60 68h.01M60 69h1M61 70h.01M63 71h.01M65 73h1M68 74h.01M69 75h.01M71 76h.01M71 77h.01M73 78h.01M75 80h.01M83 86h.01M84 87h.01M86 89h.01M88 91h.01M93 95h.01M94 96h.01M95 97h.01M97 99h.01M120 120h.01M121 121h.01"/><path stroke="#2eafcd" d="M7 22h.01M10 40h.01M28 44h.01M26 45h2M11 46h.01M26 46h.01M29 46h.01M34 46h.01M24 47h.01M29 47h.01M36 47h1M23 48h1M27 48h.01M38 48h.01M23 49h.01M39 49h.01M12 50h.01M20 50h.01M22 50h.01M24 50h.01M27 50h.01M39 50h.01M19 51h.01M29 51h.01M31 51h.01M18 52h.01M17 53h1M27 53h.01M32 53h.01M42 53h.01M16 54h.01M19 54h.01M28 54h.01M43 54h.01M14 55h2M15 56h.01M20 57h.01M23 57h.01M27 57h.01M42 57h.01M19 58h.01M48 58h.01M13 59h.01M20 59h.01M45 59h.01M47 59h.01M22 60h.01M50 60h.01M51 61h.01M15 62h.01M51 62h.01M23 63h.01M52 63h.01M17 64h.01M51 64h.01M54 64h.01M52 65h.01M55 65h1M57 66h.01M57 67h2M59 68h.01M62 70h1M64 71h.01M64 72h1M64 73h.01M61 74h.01M67 74h.01M65 75h.01M70 75h.01M66 76h.01M70 76h.01M68 78h.01M74 78h.01M75 79h.01M78 82h.01M79 83h.01M81 84h.01M83 87h.01M85 88h.01M85 89h.01M90 93h1M92 94h.01M99 101h.01M103 104h.01M104 105h.01M106 107h.01M111 112h.01M114 114h.01M118 118h.01M126 126h.01M129 129h.01"/><path stroke="#3db1c2" d="M5 7h.01M5 9h.01M6 16h.01M9 34h.01M27 43h.01M27 44h.01M29 44h.01M31 44h1M32 45h2M25 46h.01M27 46h.01M23 47h.01M18 49h.01M21 50h.01M40 50h.01M12 51h.01M18 51h.01M20 51h1M40 51h1M13 52h.01M20 52h.01M42 52h.01M14 53h2M43 53h.01M14 54h1M18 54h.01M45 55h.01M13 57h.01M15 57h.01M47 57h.01M49 58h.01M17 60h.01M51 60h.01M53 63h1M55 64h.01M57 65h.01M58 66h1M63 69h.01M65 71h.01M66 72h.01M67 73h.01M69 74h.01M72 77h1M76 80h.01M77 81h.01M88 90h.01M90 92h.01M100 101h.01M102 103h.01M113 113h.01M116 116h.01M117 117h.01"/><path stroke="#4cb3b7" d="M5 8h.01M5 11h.01M7 21h.01M9 33h.01M10 39h.01M28 42h1M26 43h.01M29 43h2M33 43h.01M23 44h.01M26 44h.01M33 44h1M11 45h.01M24 45h1M22 46h.01M24 46h.01M36 46h.01M20 47h1M18 48h4M12 49h.01M16 49h.01M20 49h1M40 49h.01M13 50h.01M17 50h2M41 50h.01M13 51h.01M16 51h1M14 52h3M19 52h.01M43 52h.01M17 54h.01M44 54h.01M46 56h1M48 57h.01M49 59h1M52 61h.01M54 62h.01M55 63h1M57 64h.01M60 67h1M62 68h.01M62 69h.01M64 70h.01M67 72h.01M72 76h.01M79 82h.01M80 83h.01M82 85h.01M89 91h.01M97 98h.01M99 100h.01M101 102h.01M110 110h.01M111 111h.01M112 112h.01M115 115h.01"/><path stroke="#57b6b1" d="M8 27h.01M28 39h.01M26 40h.01M24 41h1M24 42h.01M26 42h1M31 42h1M25 43h.01M28 43h.01M32 43h.01M24 44h1M23 45h.01M35 45h1M20 46h1M23 46h.01M12 47h.01M22 47h.01M39 48h.01M13 49h.01M19 49h.01M15 50h1M45 54h.01M46 55h1M50 58h.01M53 61h1M56 64h.01M58 65h.01M60 66h.01M62 67h.01M61 68h.01M64 69h.01M66 71h1M68 72h.01M68 73h.01M70 74h.01M71 75h.01M77 80h.01M78 81h.01M85 87h.01M86 88h.01M87 89h.01M95 96h.01M98 99h.01M108 108h.01"/><path stroke="#60b8ad" d="M5 6h.01M5 10h.01M6 15h.01M7 20h.01M8 26h.01M9 32h.01M10 36h.01M25 39h.01M27 39h.01M29 39h.01M28 40h1M26 41h5M21 42h.01M23 42h.01M25 42h.01M30 42h.01M33 42h.01M24 43h.01M34 43h.01M11 44h.01M21 44h1M19 45h.01M21 45h1M19 46h.01M17 47h2M38 47h.01M12 48h5M14 49h.01M17 49h.01M14 50h.01M42 50h.01M14 51h1M42 51h.01M44 52h.01M44 53h.01M46 54h.01M48 56h1M50 57h.01M51 58h.01M51 59h1M52 60h2M53 62h.01M55 62h.01M57 63h.01M58 64h.01M59 65h.01M61 66h.01M63 68h.01M65 70h1M69 73h.01M72 75h.01M75 78h.01M83 85h.01M84 86h.01M96 97h.01M109 109h.01"/><path stroke="#69bba9" d="M10 37h.01M10 38h.01M26 39h.01M23 40h2M27 40h.01M30 40h2M22 41h1M32 41h1M11 42h.01M19 42h.01M22 42h.01M11 43h.01M21 43h.01M23 43h.01M20 44h.01M35 44h.01M18 45h.01M20 45h.01M12 46h.01M16 46h2M37 46h1M15 47h.01M39 47h.01M40 48h.01M15 49h.01M41 49h1M43 51h.01M45 53h1M47 54h.01M48 55h.01M49 57h.01M56 62h.01M58 63h.01M59 64h.01M60 65h.01M64 68h.01M73 76h.01M74 77h.01M76 79h.01M93 94h.01M94 95h.01M102 102h.01M103 103h.01M104 104h.01M105 105h.01M106 106h.01M107 107h.01"/><path stroke="#6fbea6" d="M8 25h.01M9 31h.01M26 36h.01M23 38h1M26 38h1M22 39h.01M24 39h.01M30 39h.01M11 40h.01M20 40h2M11 41h.01M18 41h.01M21 41h.01M20 42h.01M34 42h.01M17 43h.01M19 43h1M22 43h.01M35 43h.01M12 44h.01M14 44h.01M18 44h.01M36 44h.01M15 45h2M37 45h.01M13 47h1M16 47h.01M40 47h.01M44 51h.01M45 52h.01M48 54h.01M50 56h.01M51 57h.01M52 58h.01M53 59h1M55 61h.01M63 67h.01M65 69h1M69 72h.01M70 73h.01M71 74h.01M78 80h.01M79 81h.01M81 83h.01M82 84h.01M90 91h.01M91 92h.01M92 93h.01"/><path stroke="#74c0a4" d="M6 8h.01M6 9h.01M6 10h.01M6 14h.01M7 19h.01M8 24h.01M19 36h.01M24 36h.01M27 36h.01M21 37h.01M23 37h.01M25 37h3M19 38h.01M22 38h.01M25 38h.01M28 38h1M11 39h.01M19 39h2M23 39h.01M31 39h.01M12 40h.01M16 40h1M19 41h1M15 42h.01M18 42h.01M13 43h.01M18 43h.01M36 43h.01M15 44h.01M17 44h.01M19 44h.01M37 44h.01M12 45h2M13 46h.01M15 46h.01M39 46h.01M41 48h.01M43 50h.01M45 51h.01M46 52h.01M47 53h.01M49 55h.01M53 58h.01M55 60h.01M56 61h.01M57 62h.01M61 65h.01M62 66h.01M68 71h.01M74 76h.01M76 78h.01M77 79h.01M80 82h.01M87 88h.01M88 89h.01M89 90h.01M98 98h.01M99 99h.01M100 100h.01M101 101h.01"/><path stroke="#79c3a1" d="M6 11h.01M6 12h.01M6 13h.01M7 17h.01M7 18h.01M8 21h.01M9 29h.01M9 30h.01M10 34h.01M10 35h.01M23 35h.01M25 35h1M18 36h.01M22 36h1M25 36h.01M28 36h.01M18 37h1M22 37h.01M24 37h.01M29 37h.01M16 38h.01M20 38h1M30 38h1M17 39h1M32 39h.01M19 40h.01M33 40h.01M12 41h.01M15 41h2M34 41h.01M12 42h.01M14 42h.01M16 42h1M12 43h.01M14 43h2M37 43h.01M13 44h.01M16 44h.01M38 45h.01M14 46h.01M40 46h.01M52 57h.01M55 59h.01M58 62h.01M59 63h.01M60 64h.01M63 66h.01M65 68h.01M72 74h.01M73 75h.01M75 77h.01M85 86h.01"/><path stroke="#7fc59f" d="M7 16h.01M8 22h.01M9 28h.01M10 30h.01M10 33h.01M22 33h.01M24 33h.01M18 34h.01M22 34h.01M24 34h2M19 35h2M24 35h.01M27 35h.01M12 36h.01M20 36h1M11 37h1M20 37h.01M11 38h3M17 38h1M12 39h.01M15 39h1M13 40h2M18 40h.01M13 41h1M13 42h.01M35 42h1M38 44h.01M39 45h.01M41 47h.01M42 48h.01M43 49h.01M49 54h.01M50 55h.01M51 56h.01M57 61h.01M61 64h.01M62 65h.01M64 67h.01M67 70h.01M81 82h.01M84 85h.01M86 87h.01M95 95h.01"/><path stroke="#85c79d" d="M7 13h.01M7 14h.01M8 18h.01M8 20h.01M8 23h.01M9 25h.01M9 26h.01M9 27h1M11 30h.01M20 30h.01M10 31h.01M19 31h.01M10 32h.01M18 32h.01M17 33h.01M20 33h.01M23 33h.01M15 34h.01M19 34h.01M21 34h.01M23 34h.01M11 35h.01M14 35h1M17 35h.01M22 35h.01M11 36h.01M13 36h1M13 37h.01M15 37h2M30 37h.01M15 38h.01M32 38h.01M13 39h1M33 39h.01M34 40h.01M35 41h.01M44 49h.01M44 50h.01M46 51h.01M48 53h1M53 57h.01M54 58h.01M56 60h.01M59 62h.01M71 73h.01M80 81h.01M82 83h.01M83 84h.01M94 94h.01M96 96h.01M97 97h.01"/><path stroke="#8bca9a" d="M5 5h.01M7 11h.01M7 12h.01M8 14h.01M8 15h.01M8 16h.01M8 17h.01M8 19h.01M9 22h.01M9 23h.01M10 28h.01M10 29h.01M12 30h.01M14 30h.01M15 31h.01M17 31h1M22 31h.01M11 32h1M15 32h1M21 32h2M11 33h.01M13 33h.01M18 33h1M21 33h.01M25 33h1M11 34h2M16 34h1M20 34h.01M27 34h.01M12 35h.01M16 35h.01M18 35h.01M28 35h1M15 36h2M29 36h1M14 37h.01M31 37h.01M40 45h.01M42 47h.01M43 48h.01M45 50h.01M47 52h1M51 55h.01M52 56h.01M57 60h.01M58 61h.01M60 63h.01M67 69h.01M89 89h.01M92 92h.01M93 93h.01"/><path stroke="#91cc97" d="M7 15h.01M9 15h.01M9 16h.01M9 19h.01M9 20h.01M11 20h.01M9 21h2M10 23h.01M9 24h1M10 25h1M13 25h.01M10 26h.01M13 26h2M17 27h.01M11 28h1M16 28h.01M20 28h.01M11 29h1M18 29h.01M15 30h3M22 30h.01M11 31h3M16 31h.01M20 31h1M23 31h1M13 32h1M17 32h.01M20 32h.01M25 32h1M12 33h.01M14 33h2M14 34h.01M28 34h.01M13 35h.01M37 42h.01M38 43h.01M39 44h.01M41 46h.01M50 54h.01M55 58h.01M66 68h.01M69 71h.01M70 72h.01M75 76h.01M78 79h.01M79 80h.01M90 90h.01M91 91h.01"/><path stroke="#9cce90" d="M7 10h.01M9 14h.01M9 17h.01M9 18h1M12 18h.01M10 19h1M12 20h.01M10 22h1M13 22h.01M11 23h.01M13 23h.01M11 24h.01M13 24h4M12 25h.01M14 25h2M19 25h.01M11 26h1M16 26h.01M11 27h1M15 27h1M19 27h1M13 28h2M17 28h1M13 29h2M17 29h.01M19 29h4M21 30h.01M25 31h.01M19 32h.01M24 32h.01M27 33h.01M32 37h.01M33 38h.01M34 39h.01M35 40h.01M36 41h.01M42 46h.01M43 47h.01M45 49h.01M46 50h.01M47 51h.01M53 56h.01M54 57h.01M56 59h.01M64 66h.01M65 67h.01M68 70h.01M77 78h.01M85 85h.01M87 87h.01M88 88h.01"/><path stroke="#a8d088" d="M6 7h.01M8 12h.01M8 13h.01M11 18h.01M12 19h.01M10 20h.01M12 21h2M14 22h1M12 23h.01M14 23h1M12 24h.01M18 25h.01M17 26h2M13 27h1M18 27h.01M19 28h.01M21 28h.01M16 29h.01M13 30h.01M19 30h.01M23 30h.01M30 35h.01M31 36h.01M40 44h.01M44 48h.01M49 52h.01M50 53h.01M51 54h.01M52 55h.01M59 61h.01M60 62h.01M62 64h.01M63 65h.01M70 71h.01M72 73h.01M76 77h.01M83 83h.01M86 86h.01"/><path stroke="#bcc981" d="M8 11h.01M9 13h.01M10 15h.01M10 16h.01M10 17h1M13 19h.01M12 22h.01M16 22h.01M16 23h.01M17 25h.01M20 26h.01M21 27h.01M22 28h.01M24 30h1M26 31h.01M27 32h.01M28 33h.01M29 34h.01M31 35h.01M41 45h.01M47 50h.01M48 51h.01M56 58h.01M61 63h.01M69 70h.01M71 72h.01M73 74h.01M74 75h.01M79 79h.01M84 84h.01"/><path stroke="#ccc179" d="M7 9h.01M10 14h.01M11 16h.01M12 17h.01M13 18h.01M14 19h.01M13 20h2M15 21h1M17 22h.01M17 23h1M18 24h1M20 25h.01M22 27h.01M23 28h.01M24 29h.01M30 34h.01M33 37h.01M36 40h.01M37 41h.01M38 42h.01M39 43h.01M46 49h.01M57 59h.01M67 68h.01M80 80h.01M81 81h.01M82 82h.01"/><path stroke="#d8b772" d="M9 12h.01M21 26h.01M23 27h.01M26 30h.01M27 31h.01M28 32h.01M29 33h.01M32 36h.01M34 38h.01M35 39h.01M42 45h.01M43 46h.01M44 47h.01M53 55h.01M55 57h.01M63 64h.01M66 67h.01M68 69h.01M76 76h.01M77 77h.01M78 78h.01"/><path stroke="#e4aa6c" d="M6 6h.01M8 10h.01M11 15h.01M12 16h.01M14 18h.01M17 21h.01M19 23h.01M20 24h.01M22 26h.01M25 29h.01M41 44h.01M45 48h.01M52 54h.01M58 60h.01M65 66h.01"/><path stroke="#ec9b66" d="M13 17h.01M15 19h.01M16 20h.01M18 22h.01M24 28h.01M36 39h.01M39 42h.01M40 43h.01M49 51h.01M51 53h.01M54 56h.01M59 60h.01M61 62h.01M62 63h.01M64 65h.01M74 74h.01M75 75h.01"/><path stroke="#ea8860" d="M7 8h.01M12 15h.01M21 25h.01M30 33h.01M32 35h.01M33 36h.01M34 37h.01M35 38h.01M37 40h.01M38 41h.01M47 49h.01M50 52h.01M57 58h.01M68 68h.01M69 69h.01M71 71h.01M72 72h.01M73 73h.01"/><path stroke="#e87659" d="M9 11h.01M10 13h.01M11 14h.01M13 16h.01M15 18h.01M17 20h.01M18 21h.01M22 25h.01M24 27h.01M26 29h.01M27 30h.01M28 31h.01M29 32h.01M31 34h.01M44 46h.01M45 47h.01M48 50h.01M56 57h.01M58 59h.01M60 61h.01M66 66h.01M70 70h.01"/><path stroke="#e56953" d="M8 9h.01M14 17h.01M16 19h.01M19 22h.01M20 23h.01M21 24h.01M23 26h.01M25 28h.01M41 43h.01M42 44h.01M43 45h.01M46 48h.01M51 52h.01M53 54h.01M54 55h.01M55 56h.01M64 64h.01M67 67h.01"/><path stroke="#e25c4e" d="M11 13h.01M38 40h.01M40 42h.01M61 61h.01M62 62h.01M65 65h.01"/><path stroke="#e05048" d="M10 12h.01M13 15h.01M15 17h.01M17 19h.01M23 25h.01M24 26h.01M28 30h.01M31 33h.01M32 34h.01M35 37h.01M36 38h.01M37 39h.01M39 41h.01M48 49h.01M50 51h.01M52 53h.01M60 60h.01"/><path stroke="#dd4742" d="M7 7h.01M9 10h.01M12 14h.01M20 22h.01M21 23h.01M22 24h.01M25 27h.01M26 28h.01M29 31h.01M33 35h.01M44 45h.01M45 46h.01M47 48h.01M49 50h.01M63 63h.01"/><path stroke="#db3f3c" d="M14 16h.01M16 18h.01M18 20h.01M19 21h.01M27 29h.01M30 32h.01M34 36h.01M46 47h.01M57 57h.01M58 58h.01M59 59h.01"/><path stroke="#d83636" d="M43 44h.01M55 55h.01M56 56h.01"/><path stroke="#d62e30" d="M8 8h.01M9 9h.01M10 10h.01M10 11h1M11 12h1M12 13h1M13 14h1M14 15h1M15 16h1M16 17h1M17 18h1M18 19h1M19 20h1M20 21h1M21 22h1M22 23h1M23 24h1M24 25h1M25 26h1M26 27h1M27 28h1M28 29h1M29 30h1M30 31h1M31 32h1M32 33h1M33 34h1M34 35h1M35 36h1M36 37h1M37 38h1M38 39h1M39 40h1M40 41h1M41 42h1M42 43h1M44 44h.01M45 45h.01M46 46h.01M47 47h.01M48 48h.01M49 49h.01M50 50h.01M51 51h.01M52 52h.01M53 53h.01M54 54h.01"/></g></g>
<line x1="30.8" y1="473.3" x2="213.8" y2="290.5" stroke="#2a2a2a" stroke-width="1"/>
<rect x="30.8" y="290.5" width="183" height="182.8" fill="none" stroke="#666" stroke-width="1.15"/>
<path d="M30.8,473.3v-2.5M30.8,290.5v2.5M30.8,473.3h2.5M213.8,473.3h-2.5M67.4,473.3v-2.5M67.4,290.5v2.5M30.8,436.74h2.5M213.8,436.74h-2.5M104,473.3v-2.5M104,290.5v2.5M30.8,400.18h2.5M213.8,400.18h-2.5M140.6,473.3v-2.5M140.6,290.5v2.5M30.8,363.62h2.5M213.8,363.62h-2.5M177.2,473.3v-2.5M177.2,290.5v2.5M30.8,327.06h2.5M213.8,327.06h-2.5M213.8,473.3v-2.5M213.8,290.5v2.5M30.8,290.5h2.5M213.8,290.5h-2.5" stroke="#333" stroke-width="0.8"/>
<g font-family="Liberation Sans" font-size="7" fill="#333"><text x="28.3" y="475.8" text-anchor="end">0</text><text x="30.8" y="480.9" text-anchor="middle">0</text><text x="28.3" y="439.24" text-anchor="end">20</text><text x="67.4" y="480.9" text-anchor="middle">20</text><text x="28.3" y="402.68" text-anchor="end">40</text><text x="104" y="480.9" text-anchor="middle">40</text><text x="28.3" y="366.12" text-anchor="end">60</text><text x="140.6" y="480.9" text-anchor="middle">60</text><text x="28.3" y="329.56" text-anchor="end">80</text><text x="177.2" y="480.9" text-anchor="middle">80</text><text x="28.3" y="293" text-anchor="end">100</text><text x="213.8" y="480.9" text-anchor="middle">100</text></g>
<g transform="translate(113.6,482.4)" fill="#333"><path d="M9.8,0.9 C6.6,-0.3 1.9,1.4 0.7,4.8 C-0.2,7.6 2.2,9.3 4.8,8.7 C6.1,8.4 6.9,7.8 7.5,7.0" fill="none" stroke="#3a3a3a" stroke-width="1.0" stroke-linecap="round"/><path d="M2.8,6.6 C4.4,4.9 7.4,2.9 9.8,0.9 C11.5,0.4 12.3,1.6 11.7,2.8 C11.1,3.9 9.5,4.4 7.9,4.3 C9.1,5.4 10.4,7.2 11.9,8.3" fill="none" stroke="#3a3a3a" stroke-width="0.75" stroke-linecap="round"/><text x="14.1" y="3.2" font-family="Liberation Serif" font-size="8.2">2</text><text x="12.1" y="11.3" font-family="Liberation Serif" font-style="italic" font-size="9.5">b</text></g>
<g transform="translate(6.6,390.25) rotate(-90)" fill="#333"><path d="M9.8,0.9 C6.6,-0.3 1.9,1.4 0.7,4.8 C-0.2,7.6 2.2,9.3 4.8,8.7 C6.1,8.4 6.9,7.8 7.5,7.0" fill="none" stroke="#3a3a3a" stroke-width="1.0" stroke-linecap="round"/><path d="M2.8,6.6 C4.4,4.9 7.4,2.9 9.8,0.9 C11.5,0.4 12.3,1.6 11.7,2.8 C11.1,3.9 9.5,4.4 7.9,4.3 C9.1,5.4 10.4,7.2 11.9,8.3" fill="none" stroke="#3a3a3a" stroke-width="0.75" stroke-linecap="round"/><text x="14.1" y="3.2" font-family="Liberation Serif" font-size="8.2">2</text><text x="12.1" y="11.3" font-family="Liberation Serif" font-style="italic" font-size="9.5">d</text></g>
<rect x="227" y="290.5" width="9.3" height="182.8" fill="url(#cbg)" stroke="#555" stroke-width="0.8"/>
<path d="M236.3,473.3h-2M236.3,409.83h-2M236.3,346.36h-2" stroke="#333" stroke-width="0.8"/>
<g font-family="Liberation Sans" font-size="7" fill="#333"><text x="238.8" y="475.4">10<tspan font-size="5.2" dy="-3.2">0</tspan></text><text x="238.8" y="411.93">10<tspan font-size="5.2" dy="-3.2">1</tspan></text><text x="238.8" y="348.46">10<tspan font-size="5.2" dy="-3.2">2</tspan></text></g>
<text transform="translate(149.2,463.8) scale(1.05,1)" font-family="Liberation Serif" font-size="17.5" fill="#111" class="nc">N<tspan font-size="12.42" dy="2.6">c</tspan><tspan dy="-2.6">=2M</tspan></text>
<g stroke="#b4b4b4" stroke-width="0.8" stroke-dasharray="1,1.1"><line x1="336.2" y1="288.8" x2="336.2" y2="470.8"/><line x1="299.8" y1="434.4" x2="481.8" y2="434.4"/><line x1="372.6" y1="288.8" x2="372.6" y2="470.8"/><line x1="299.8" y1="398" x2="481.8" y2="398"/><line x1="409" y1="288.8" x2="409" y2="470.8"/><line x1="299.8" y1="361.6" x2="481.8" y2="361.6"/><line x1="445.4" y1="288.8" x2="445.4" y2="470.8"/><line x1="299.8" y1="325.2" x2="481.8" y2="325.2"/></g>
<clipPath id="cp3"><polygon points="299.80,470.80 481.80,288.80 299.80,288.80"/></clipPath><g clip-path="url(#cp3)"><g transform="translate(300.5,470.5) scale(1,-1)" fill="none" stroke-width="1.15" stroke-linecap="square"><path stroke="#5a4a9c" d="M0 17h.01M0 18h.01M0 19h.01M0 20h1M1 21h.01M1 22h.01M2 23h.01M1 24h1M1 25h.01M2 26h.01M2 27h.01M3 29h.01M3 30h.01M3 32h.01M5 32h.01M5 35h.01M3 37h2M5 38h1M5 41h1M6 43h.01M7 44h.01M8 45h1M8 46h.01M7 47h.01M6 49h1M8 50h.01M11 50h.01M8 51h.01M4 52h.01M9 52h.01M14 52h.01M9 53h.01M11 53h.01M13 53h.01M8 54h.01M10 54h.01M15 54h.01M10 55h.01M12 55h2M18 55h1M26 55h.01M9 56h.01M7 57h.01M11 57h.01M13 57h.01M21 57h.01M10 58h.01M22 58h.01M31 58h.01M33 58h.01M11 59h.01M14 59h.01M23 59h2M38 59h.01M17 60h.01M21 60h.01M30 60h.01M32 60h1M12 61h3M20 61h.01M23 61h.01M29 61h.01M37 61h.01M20 62h.01M22 62h.01M26 62h1M36 62h.01M38 62h.01M40 62h.01M42 62h.01M15 63h.01M18 63h1M21 63h2M16 64h.01M22 64h.01M26 64h.01M32 64h.01M34 64h.01M36 64h.01M38 64h1M48 64h.01M10 65h1M18 65h.01M23 65h.01M25 65h.01M28 65h.01M7 66h.01M12 66h.01M14 66h.01M20 66h.01M22 66h1M25 66h.01M29 66h.01M31 66h1M37 66h.01M50 66h1M13 67h2M21 67h1M25 67h.01M31 67h.01M34 67h.01M10 68h2M19 68h.01M22 68h.01M25 68h.01M35 68h.01M55 68h.01M58 68h.01M10 69h1M14 69h.01M30 69h.01M37 69h.01M43 69h.01M51 69h.01M53 69h.01M60 69h.01M13 70h2M17 70h.01M19 70h.01M22 70h.01M30 70h1M38 70h.01M40 70h.01M42 70h.01M44 70h2M60 70h.01M11 71h.01M13 71h.01M20 71h.01M26 71h.01M29 71h.01M33 71h1M36 71h.01M49 71h.01M51 71h.01M53 71h1M57 71h.01M14 72h.01M18 72h.01M20 72h2M28 72h.01M33 72h1M37 72h.01M39 72h.01M52 72h.01M55 72h.01M60 72h.01M13 73h.01M17 73h.01M21 73h.01M26 73h1M32 73h.01M40 73h.01M42 73h1M46 73h.01M48 73h.01M50 73h2M62 73h.01M12 74h1M19 74h1M25 74h.01M27 74h.01M30 74h.01M33 74h2M39 74h.01M41 74h.01M44 74h.01M46 74h1M49 74h.01M58 74h1M66 74h.01M15 75h.01M17 75h.01M22 75h.01M27 75h.01M32 75h.01M34 75h1M38 75h3M44 75h1M48 75h.01M52 75h.01M57 75h.01M62 75h1M9 76h1M15 76h.01M18 76h1M24 76h1M27 76h2M32 76h.01M35 76h1M38 76h2M46 76h2M54 76h.01M58 76h.01M60 76h.01M15 77h1M22 77h.01M25 77h.01M27 77h1M30 77h.01M34 77h.01M36 77h1M41 77h.01M44 77h.01M49 77h1M52 77h.01M54 77h.01M57 77h.01M59 77h.01M62 77h.01M66 77h.01M21 78h2M26 78h1M30 78h.01M32 78h1M36 78h2M41 78h.01M49 78h.01M52 78h.01M55 78h.01M64 78h.01M18 79h.01M20 79h2M25 79h3M31 79h3M41 79h.01M48 79h1M53 79h.01M64 79h.01M69 79h.01M71 79h.01M15 80h1M22 80h.01M24 80h1M28 80h.01M36 80h.01M42 80h.01M44 80h.01M48 80h.01M51 80h.01M53 80h.01M57 80h2M64 80h.01M66 80h1M69 80h.01M71 80h.01M74 80h1M17 81h.01M19 81h.01M21 81h.01M25 81h.01M28 81h4M36 81h1M41 81h.01M44 81h1M49 81h1M53 81h1M58 81h.01M60 81h.01M63 81h.01M66 81h1M70 81h.01M23 82h.01M26 82h1M29 82h.01M31 82h1M37 82h.01M45 82h.01M48 82h3M55 82h4M61 82h1M64 82h.01M67 82h.01M69 82h2M74 82h.01M17 83h1M23 83h.01M27 83h.01M31 83h.01M33 83h1M36 83h.01M38 83h.01M42 83h.01M46 83h.01M49 83h.01M54 83h1M59 83h.01M61 83h2M68 83h.01M70 83h.01M72 83h2M17 84h.01M21 84h.01M26 84h.01M28 84h.01M31 84h.01M43 84h1M47 84h.01M49 84h.01M51 84h.01M53 84h.01M55 84h1M60 84h.01M63 84h.01M72 84h1M76 84h1M18 85h.01M22 85h.01M25 85h1M28 85h.01M30 85h1M36 85h.01M38 85h.01M41 85h3M46 85h4M54 85h.01M57 85h1M60 85h.01M62 85h.01M64 85h.01M68 85h.01M75 85h1M79 85h.01M17 86h.01M19 86h1M23 86h1M26 86h.01M28 86h1M31 86h1M41 86h1M45 86h.01M47 86h1M51 86h3M61 86h.01M63 86h4M69 86h1M75 86h1M16 87h.01M18 87h.01M21 87h1M29 87h1M32 87h.01M38 87h.01M40 87h2M45 87h.01M47 87h.01M49 87h1M52 87h.01M57 87h.01M59 87h.01M62 87h4M68 87h.01M70 87h.01M74 87h.01M77 87h2M83 87h.01M18 88h.01M22 88h.01M26 88h.01M33 88h.01M37 88h.01M39 88h1M42 88h.01M47 88h1M51 88h.01M53 88h.01M55 88h.01M63 88h.01M68 88h.01M70 88h1M75 88h.01M77 88h.01M80 88h.01M83 88h.01M18 89h.01M20 89h.01M23 89h.01M25 89h.01M27 89h.01M31 89h1M37 89h2M44 89h.01M46 89h.01M51 89h1M61 89h.01M66 89h.01M70 89h2M76 89h3M82 89h.01M84 89h.01M20 90h.01M23 90h.01M27 90h.01M30 90h.01M43 90h2M52 90h1M55 90h.01M57 90h.01M61 90h.01M63 90h.01M68 90h4M74 90h1M77 90h.01M18 91h.01M20 91h1M28 91h.01M39 91h.01M42 91h.01M45 91h3M50 91h.01M54 91h.01M57 91h2M62 91h.01M64 91h.01M67 91h1M73 91h.01M75 91h.01M78 91h.01M81 91h.01M84 91h1M20 92h.01M26 92h.01M32 92h2M37 92h.01M40 92h.01M45 92h.01M57 92h.01M60 92h1M63 92h.01M65 92h4M78 92h.01M80 92h1M83 92h1M17 93h.01M26 93h.01M32 93h1M37 93h.01M40 93h.01M44 93h2M51 93h4M61 93h.01M64 93h1M67 93h.01M70 93h.01M72 93h.01M75 93h.01M77 93h.01M79 93h1M83 93h1M24 94h.01M28 94h.01M37 94h.01M39 94h.01M41 94h.01M43 94h1M47 94h.01M52 94h.01M56 94h1M62 94h.01M64 94h.01M74 94h.01M76 94h.01M79 94h1M91 94h.01M22 95h.01M26 95h.01M28 95h.01M32 95h.01M36 95h.01M38 95h1M49 95h1M53 95h1M59 95h.01M63 95h.01M65 95h.01M67 95h.01M71 95h.01M74 95h1M77 95h1M80 95h.01M82 95h.01M85 95h4M30 96h.01M33 96h.01M37 96h1M47 96h.01M52 96h.01M54 96h.01M57 96h.01M65 96h.01M68 96h1M78 96h.01M82 96h.01M84 96h.01M89 96h.01M91 96h.01M94 96h.01M21 97h.01M27 97h3M42 97h.01M50 97h.01M53 97h.01M56 97h.01M64 97h1M76 97h.01M78 97h.01M80 97h.01M82 97h3M89 97h2M93 97h.01M28 98h.01M30 98h.01M35 98h.01M38 98h.01M47 98h.01M50 98h.01M54 98h.01M62 98h.01M68 98h.01M78 98h1M83 98h3M88 98h.01M24 99h.01M27 99h.01M37 99h.01M39 99h.01M42 99h.01M54 99h.01M56 99h.01M62 99h1M76 99h.01M82 99h.01M85 99h.01M87 99h1M91 99h1M97 99h.01M23 100h1M35 100h.01M39 100h.01M44 100h1M56 100h1M60 100h1M70 100h.01M72 100h.01M86 100h.01M88 100h.01M91 100h.01M95 100h.01M7 101h.01M25 101h.01M27 101h.01M38 101h.01M41 101h2M47 101h.01M49 101h.01M53 101h.01M55 101h.01M57 101h.01M66 101h.01M68 101h.01M72 101h.01M79 101h.01M82 101h.01M84 101h.01M89 101h.01M92 101h.01M98 101h.01M25 102h1M31 102h.01M36 102h.01M41 102h.01M44 102h.01M46 102h.01M49 102h.01M51 102h.01M60 102h2M71 102h.01M83 102h2M88 102h1M100 102h.01M25 103h.01M27 103h.01M32 103h.01M44 103h.01M50 103h1M58 103h1M63 103h.01M65 103h.01M67 103h.01M76 103h.01M83 103h.01M88 103h1M92 103h.01M96 103h.01M98 103h.01M100 103h.01M29 104h1M37 104h.01M40 104h.01M45 104h.01M54 104h.01M58 104h.01M61 104h.01M79 104h.01M86 104h.01M89 104h.01M91 104h1M96 104h1M99 104h1M34 105h.01M41 105h.01M55 105h.01M57 105h.01M61 105h1M65 105h.01M67 105h.01M73 105h1M79 105h1M82 105h.01M91 105h1M95 105h.01M101 105h.01M31 106h.01M37 106h.01M57 106h.01M69 106h.01M71 106h.01M78 106h.01M80 106h.01M85 106h.01M88 106h.01M91 106h.01M32 107h.01M45 107h.01M60 107h.01M67 107h2M72 107h.01M85 107h.01M92 107h.01M98 107h1M102 107h1M40 108h1M70 108h1M84 108h.01M103 108h.01M106 108h.01M41 109h.01M74 109h.01M94 109h.01M97 109h.01M99 109h.01M101 109h.01M103 109h1M40 110h.01M49 110h.01M68 110h.01M82 110h.01M98 110h1M109 110h.01M61 111h.01M73 111h.01M76 111h.01M78 111h1M82 111h.01M85 111h1M97 111h.01M102 111h2M106 111h1M109 111h.01M47 112h.01M55 112h.01M77 112h.01M88 112h.01M94 112h1M99 112h.01M103 112h2M107 112h1M59 113h.01M74 113h.01M88 113h.01M107 113h.01M109 113h.01M111 113h.01M70 114h.01M113 114h.01M83 115h.01M87 115h.01M94 115h.01M108 115h1M111 115h1M74 116h.01M87 116h.01M90 116h1M112 116h1M115 116h.01M102 117h.01M106 117h.01M112 117h2M82 118h.01M87 118h.01M104 118h.01M110 118h.01M115 118h.01M109 119h.01M112 119h1M116 119h.01M87 120h.01M93 120h.01M107 120h.01M116 120h.01M100 121h.01M102 121h.01M117 121h.01M109 122h.01M113 122h.01M115 122h.01M119 122h.01M121 122h.01M111 123h.01M118 123h.01M120 123h1M100 124h.01M111 124h.01M105 125h.01M110 125h.01M120 125h.01M122 125h1M117 126h.01M98 129h.01M126 129h1M129 129h.01M122 130h.01M125 130h.01M129 130h.01M127 131h1M131 131h.01M127 132h.01M131 132h1M119 133h.01M131 133h.01M121 134h.01M130 134h.01M128 135h.01M131 135h.01M136 136h.01M137 137h.01M136 138h.01M138 138h.01M139 139h.01M140 140h.01M136 141h.01M139 141h1M140 142h.01M142 142h.01M134 143h.01M142 143h.01M141 144h.01M146 146h.01M146 147h.01M147 148h1M148 149h.01M140 150h.01M149 150h.01M150 151h.01M146 152h.01M151 153h2M148 156h.01M159 159h.01M154 160h.01M159 160h.01M160 161h1M160 162h.01M162 162h.01M164 166h.01M165 168h.01M168 168h.01M169 169h.01M167 170h1M170 172h.01M178 178h.01"/><path stroke="#4058ac" d="M0 16h.01M1 17h.01M2 21h.01M1 23h.01M3 26h.01M3 27h.01M2 28h.01M2 29h.01M4 30h.01M2 31h.01M4 31h.01M4 33h.01M6 39h.01M6 44h.01M9 46h.01M9 47h.01M8 48h.01M11 48h.01M9 49h.01M10 50h.01M12 50h.01M9 51h1M12 52h1M15 53h1M9 54h.01M9 55h.01M11 55h.01M24 55h.01M29 55h.01M10 56h.01M13 56h.01M31 56h.01M10 57h.01M14 57h.01M20 57h.01M29 57h.01M31 57h.01M9 58h.01M11 58h.01M13 58h.01M19 58h.01M21 58h.01M25 58h1M10 59h.01M17 59h.01M20 59h.01M26 59h1M32 59h.01M34 59h.01M37 59h.01M10 60h.01M12 60h.01M15 60h.01M22 60h.01M25 60h.01M18 61h.01M25 61h.01M36 61h.01M40 61h.01M16 62h.01M23 62h.01M25 62h.01M43 62h.01M11 63h.01M24 63h.01M29 63h.01M32 63h.01M38 63h.01M11 64h.01M15 64h.01M19 64h.01M24 64h.01M29 64h.01M31 64h.01M35 64h.01M41 64h.01M13 65h.01M19 65h.01M22 65h.01M26 65h.01M29 65h.01M31 65h.01M34 65h1M37 65h.01M39 65h1M42 65h2M46 65h.01M24 66h.01M38 66h.01M45 66h1M11 67h1M16 67h.01M19 67h1M38 67h1M51 67h.01M17 68h.01M21 68h.01M29 68h.01M33 68h.01M37 68h1M41 68h1M44 68h.01M50 68h.01M52 68h1M13 69h.01M15 69h.01M19 69h.01M23 69h.01M29 69h.01M32 69h.01M34 69h.01M39 69h3M45 69h.01M18 70h.01M25 70h.01M33 70h.01M35 70h.01M49 70h.01M51 70h.01M61 70h.01M17 71h.01M28 71h.01M32 71h.01M43 71h.01M47 71h.01M52 71h.01M58 71h2M13 72h.01M15 72h.01M19 72h.01M26 72h.01M29 72h.01M32 72h.01M38 72h.01M40 72h1M43 72h1M51 72h.01M61 72h.01M19 73h.01M25 73h.01M28 73h.01M31 73h.01M34 73h.01M36 73h1M39 73h.01M45 73h.01M47 73h.01M56 73h.01M60 73h.01M21 74h.01M29 74h.01M32 74h.01M36 74h1M40 74h.01M42 74h.01M51 74h.01M53 74h.01M55 74h.01M61 74h.01M63 74h.01M13 75h.01M26 75h.01M28 75h.01M36 75h1M49 75h.01M51 75h.01M55 75h.01M59 75h1M65 75h.01M16 76h.01M20 76h.01M26 76h.01M30 76h.01M34 76h.01M42 76h1M45 76h.01M49 76h.01M52 76h1M55 76h.01M59 76h.01M62 76h.01M64 76h1M18 77h.01M26 77h.01M29 77h.01M39 77h.01M47 77h1M53 77h.01M55 77h1M60 77h.01M69 77h.01M71 77h.01M15 78h.01M18 78h1M24 78h1M29 78h.01M34 78h1M39 78h.01M44 78h1M47 78h1M50 78h.01M54 78h.01M56 78h.01M59 78h1M63 78h.01M66 78h.01M72 78h.01M17 79h.01M24 79h.01M30 79h.01M36 79h.01M38 79h2M47 79h.01M61 79h.01M65 79h.01M72 79h2M20 80h.01M26 80h.01M34 80h1M43 80h.01M54 80h.01M70 80h.01M20 81h.01M24 81h.01M48 81h.01M59 81h.01M61 81h.01M64 81h.01M69 81h.01M72 81h.01M76 81h1M17 82h.01M20 82h.01M25 82h.01M30 82h.01M34 82h1M47 82h.01M52 82h.01M66 82h.01M68 82h.01M73 82h.01M75 82h.01M77 82h.01M16 83h.01M22 83h.01M26 83h.01M30 83h.01M40 83h.01M45 83h.01M47 83h.01M51 83h2M58 83h.01M60 83h.01M64 83h.01M71 83h.01M75 83h1M79 83h.01M22 84h.01M24 84h.01M30 84h.01M32 84h.01M34 84h.01M40 84h1M57 84h.01M61 84h1M67 84h.01M69 84h.01M74 84h.01M29 85h.01M34 85h1M39 85h.01M59 85h.01M63 85h.01M69 85h.01M73 85h.01M77 85h.01M80 85h.01M22 86h.01M30 86h.01M40 86h.01M46 86h.01M50 86h.01M55 86h.01M72 86h.01M77 86h1M25 87h.01M34 87h.01M71 87h.01M75 87h.01M19 88h1M28 88h.01M31 88h.01M52 88h.01M65 88h1M73 88h.01M35 89h.01M59 89h1M62 89h.01M64 89h.01M67 89h.01M69 89h.01M83 89h.01M85 89h.01M24 90h.01M26 90h.01M28 90h.01M40 90h1M46 90h.01M50 90h.01M59 90h.01M73 90h.01M76 90h.01M78 90h1M82 90h1M86 90h.01M44 91h.01M74 91h.01M76 91h.01M86 91h1M38 92h.01M46 92h.01M52 92h.01M59 92h.01M64 92h.01M76 92h.01M85 92h.01M87 92h.01M28 93h.01M49 93h.01M63 93h.01M81 93h.01M88 93h.01M31 94h.01M82 94h.01M84 94h.01M86 94h.01M88 94h1M23 95h.01M31 95h.01M33 95h1M60 95h.01M66 95h.01M68 95h.01M92 95h.01M53 96h.01M60 96h.01M67 96h.01M74 96h1M90 96h.01M88 97h.01M95 97h.01M40 98h.01M46 98h.01M65 98h.01M75 98h.01M92 98h.01M94 98h1M60 99h.01M73 99h.01M86 99h.01M93 99h.01M41 100h.01M67 100h.01M97 100h.01M77 101h.01M88 101h.01M70 103h.01M94 103h.01M33 104h.01M72 104h.01M53 105h.01M76 105h.01M102 105h.01M81 106h.01M102 106h.01M104 106h.01M49 107h.01M105 108h.01M107 110h.01M111 112h.01M110 114h.01M112 114h.01M113 115h1M109 117h.01M115 117h.01M113 118h.01M122 122h.01M123 123h.01M122 124h1M124 125h.01M127 127h.01M124 128h.01M130 130h.01M132 133h1M132 136h.01M135 136h.01M136 137h.01M136 139h.01M139 140h.01M144 144h.01M150 150h.01M151 151h.01M154 154h.01M158 158h.01"/><path stroke="#386cb8" d="M0 14h.01M1 18h.01M1 19h.01M2 22h.01M3 24h.01M3 25h.01M3 28h.01M5 33h.01M5 36h.01M7 41h.01M7 42h.01M8 43h.01M9 48h.01M8 49h.01M11 49h.01M13 50h.01M12 51h.01M15 52h.01M14 53h.01M11 54h.01M16 54h.01M18 54h.01M22 54h.01M21 55h.01M15 56h1M21 56h3M26 56h.01M12 57h.01M15 57h.01M22 57h.01M26 57h.01M28 57h.01M30 57h.01M35 57h.01M14 58h2M24 58h.01M27 58h.01M15 59h1M18 59h1M21 59h.01M28 59h1M13 60h1M19 60h.01M16 61h.01M21 61h.01M33 61h.01M35 61h.01M38 61h.01M41 61h.01M12 62h.01M15 62h.01M18 62h1M21 62h.01M31 62h.01M37 62h.01M39 62h.01M44 62h.01M13 63h.01M17 63h.01M20 63h.01M25 63h.01M28 63h.01M33 63h2M41 63h.01M44 63h.01M13 64h.01M17 64h.01M20 64h1M23 64h.01M30 64h.01M37 64h.01M43 64h.01M45 64h.01M20 65h1M24 65h.01M32 65h.01M47 65h.01M13 66h.01M18 66h1M30 66h.01M33 66h.01M36 66h.01M39 66h.01M54 66h.01M23 67h.01M28 67h.01M32 67h.01M35 67h2M40 67h.01M42 67h.01M44 67h.01M52 67h.01M54 67h1M14 68h1M18 68h.01M20 68h.01M27 68h.01M32 68h.01M34 68h.01M36 68h.01M40 68h.01M49 68h.01M56 68h1M18 69h.01M25 69h2M36 69h.01M44 69h.01M48 69h.01M54 69h.01M23 70h.01M28 70h.01M36 70h.01M41 70h.01M52 70h.01M54 70h2M58 70h.01M14 71h.01M16 71h.01M19 71h.01M22 71h.01M27 71h.01M31 71h.01M35 71h.01M38 71h.01M42 71h.01M48 71h.01M56 71h.01M61 71h1M17 72h.01M25 72h.01M27 72h.01M31 72h.01M36 72h.01M42 72h.01M45 72h.01M49 72h.01M57 72h.01M12 73h.01M16 73h.01M24 73h.01M29 73h.01M33 73h.01M41 73h.01M44 73h.01M55 73h.01M58 73h.01M66 73h.01M24 74h.01M26 74h.01M31 74h.01M45 74h.01M50 74h.01M54 74h.01M62 74h.01M64 74h.01M21 75h.01M31 75h.01M46 75h1M50 75h.01M53 75h.01M56 75h.01M61 75h.01M66 75h2M44 76h.01M66 76h1M69 76h1M19 77h.01M21 77h.01M23 77h1M31 77h1M38 77h.01M64 77h1M20 78h.01M31 78h.01M46 78h.01M51 78h.01M53 78h.01M67 78h.01M69 78h2M73 78h.01M42 79h.01M44 79h.01M52 79h.01M56 79h.01M58 79h1M66 79h1M21 80h.01M33 80h.01M37 80h.01M39 80h.01M45 80h.01M22 81h.01M33 81h.01M40 81h.01M43 81h.01M51 81h.01M57 81h.01M68 81h.01M24 82h.01M36 82h.01M40 82h.01M28 83h.01M56 83h.01M52 84h.01M78 84h.01M80 84h.01M21 85h.01M32 85h.01M74 85h.01M81 85h.01M44 86h.01M55 87h.01M73 87h.01M82 87h.01M84 87h.01M29 88h.01M64 88h.01M76 88h.01M85 88h.01M80 89h1M86 89h.01M22 90h.01M84 90h1M60 91h.01M71 91h.01M88 91h.01M88 92h1M86 93h.01M89 93h1M72 94h.01M78 94h.01M90 94h.01M91 95h.01M77 96h.01M80 96h.01M69 97h.01M92 97h.01M94 97h.01M96 98h.01M98 100h.01M102 104h.01M105 107h.01M107 108h.01M108 109h.01M110 111h.01M110 112h.01M112 113h.01M114 116h.01M116 117h.01M116 118h.01M119 121h2M125 125h.01M125 128h.01M128 128h.01M134 134h.01M137 138h.01M141 141h.01"/><path stroke="#3478c0" d="M0 12h.01M2 19h.01M7 40h.01M12 48h.01M14 49h.01M14 50h.01M15 51h.01M16 52h.01M21 52h.01M27 52h.01M27 53h.01M23 54h.01M28 54h.01M30 55h1M38 58h.01M40 59h.01M43 61h.01M47 62h.01M49 63h1M50 64h.01M52 64h.01M59 67h.01M64 71h.01M67 73h.01M83 86h.01M92 94h.01M93 95h.01M105 106h.01"/><path stroke="#3087c7" d="M6 36h.01M7 38h.01M7 39h.01M6 40h.01M8 41h.01M9 44h.01M11 44h.01M10 45h.01M13 45h.01M10 46h.01M12 47h1M16 47h.01M14 48h.01M18 48h.01M13 49h.01M17 49h.01M24 49h1M9 50h.01M18 50h.01M11 51h.01M17 51h1M23 51h1M26 51h.01M10 52h.01M17 52h.01M19 52h.01M22 52h1M26 52h.01M31 52h.01M33 52h.01M18 53h8M28 53h1M12 54h.01M17 54h.01M24 54h1M27 54h.01M29 54h.01M32 54h.01M35 54h.01M37 54h.01M20 55h.01M25 55h.01M33 55h.01M35 55h.01M12 56h.01M14 56h.01M17 56h1M33 56h.01M36 56h.01M16 57h.01M25 57h.01M27 57h.01M33 57h1M36 57h.01M39 57h2M12 58h.01M18 58h.01M23 58h.01M35 58h2M41 58h.01M30 59h1M36 59h.01M39 59h.01M41 59h1M16 60h.01M18 60h.01M20 60h.01M23 60h1M26 60h1M29 60h.01M31 60h.01M35 60h.01M37 60h.01M40 60h.01M42 60h1M47 60h1M24 61h.01M26 61h.01M28 61h.01M30 61h2M44 61h.01M51 61h.01M28 62h2M32 62h2M41 62h.01M45 62h1M14 63h.01M16 63h.01M30 63h1M36 63h.01M42 63h1M46 63h.01M48 63h.01M51 63h.01M25 64h.01M27 64h1M47 64h.01M54 64h.01M33 65h.01M36 65h.01M51 65h1M54 65h.01M57 65h.01M16 66h.01M21 66h.01M26 66h1M35 66h.01M40 66h.01M44 66h.01M52 66h.01M55 66h2M17 67h.01M27 67h.01M29 67h.01M48 67h1M53 67h.01M57 67h1M16 68h.01M23 68h1M26 68h.01M31 68h.01M43 68h.01M45 68h.01M48 68h.01M51 68h.01M54 68h.01M59 68h1M33 69h.01M35 69h.01M56 69h1M61 69h.01M20 70h.01M27 70h.01M29 70h.01M37 70h.01M39 70h.01M50 70h.01M62 70h1M30 71h.01M44 71h1M63 71h.01M16 72h.01M23 72h.01M48 72h.01M53 72h1M56 72h.01M58 72h1M66 72h.01M18 73h.01M22 73h.01M54 73h.01M57 73h.01M63 73h1M43 74h.01M48 74h.01M67 74h1M51 76h.01M61 76h.01M68 76h.01M71 76h.01M46 77h.01M58 77h.01M61 77h.01M68 77h.01M72 77h1M65 78h.01M68 78h.01M70 79h.01M49 80h.01M60 80h.01M62 80h.01M65 80h.01M73 80h.01M65 81h.01M76 82h.01M78 82h.01M65 83h.01M77 83h.01M33 85h.01M82 85h.01M62 86h.01M73 86h.01M82 86h.01M74 88h.01M79 88h.01M84 88h.01M87 90h.01M91 93h.01M83 95h.01M86 96h.01M93 96h.01M87 98h.01M95 99h.01M99 101h.01M101 103h.01M117 117h.01M119 119h.01M120 120h.01M130 131h.01M135 135h.01"/><path stroke="#2c96cf" d="M0 13h.01M1 16h.01M3 23h.01M5 31h.01M5 34h1M9 41h.01M8 42h2M9 43h.01M14 43h.01M10 44h.01M12 44h.01M14 44h1M19 44h.01M7 45h.01M15 45h.01M17 45h.01M11 46h.01M14 46h1M24 46h.01M10 47h1M14 47h.01M19 47h.01M26 47h1M13 48h.01M15 48h.01M19 48h.01M21 48h.01M25 48h.01M15 49h1M18 49h.01M20 49h1M23 49h.01M27 49h2M15 50h.01M17 50h.01M19 50h2M23 50h3M30 50h.01M34 50h.01M16 51h.01M19 51h3M27 51h6M11 52h.01M18 52h.01M20 52h.01M24 52h1M28 52h2M32 52h.01M35 52h.01M37 52h1M30 53h4M37 53h.01M39 53h.01M14 54h.01M19 54h2M26 54h.01M30 54h.01M33 54h.01M38 54h1M15 55h.01M32 55h.01M34 55h.01M36 55h1M39 55h1M20 56h.01M25 56h.01M28 56h.01M32 56h.01M34 56h1M37 56h1M42 56h.01M44 56h.01M17 57h2M23 57h.01M32 57h.01M37 57h1M17 58h.01M20 58h.01M28 58h2M32 58h.01M34 58h.01M39 58h1M42 58h.01M44 58h.01M43 59h5M28 60h.01M39 60h.01M46 60h.01M49 60h.01M19 61h.01M45 61h2M49 61h1M52 61h.01M13 62h.01M24 62h.01M48 62h1M51 62h.01M54 62h.01M26 63h.01M39 63h1M45 63h.01M47 63h.01M52 63h.01M55 63h.01M18 64h.01M42 64h.01M44 64h.01M49 64h.01M51 64h.01M53 64h.01M55 64h.01M14 65h.01M41 65h.01M45 65h.01M50 65h.01M53 65h.01M55 65h1M17 66h.01M47 66h.01M53 66h.01M58 66h1M26 67h.01M33 67h.01M43 67h.01M45 67h2M50 67h.01M28 68h.01M30 68h.01M62 68h.01M17 69h.01M21 69h.01M31 69h.01M46 69h.01M49 69h.01M52 69h.01M58 69h.01M63 69h.01M47 70h.01M64 70h1M55 71h.01M30 72h.01M46 72h.01M50 72h.01M62 72h.01M64 72h.01M59 73h.01M65 73h.01M68 73h1M57 74h.01M60 74h.01M65 74h.01M69 74h.01M42 75h.01M54 75h.01M58 75h.01M70 75h1M70 77h.01M61 78h1M74 78h.01M37 79h.01M45 79h.01M75 79h.01M63 80h.01M76 80h.01M75 81h.01M79 82h.01M78 83h.01M80 83h.01M50 84h.01M81 84h.01M79 86h.01M81 86h.01M82 88h.01M89 91h.01M102 103h.01M101 104h.01M103 104h.01M104 105h.01M106 107h.01M116 116h.01M118 118h.01M118 119h.01"/><path stroke="#2ba4d0" d="M0 10h.01M0 11h.01M1 15h.01M2 18h.01M3 22h.01M4 26h.01M4 27h.01M6 33h1M6 35h.01M7 36h.01M6 37h2M8 38h1M11 38h.01M8 39h1M8 40h.01M13 40h.01M10 41h2M15 41h.01M21 41h.01M11 42h2M15 42h.01M10 43h1M13 43h.01M15 43h.01M18 43h.01M13 44h.01M16 44h.01M18 44h.01M20 44h.01M22 44h3M11 45h1M14 45h.01M16 45h.01M18 45h.01M20 45h.01M24 45h.01M28 45h.01M12 46h1M16 46h4M25 46h.01M27 46h.01M17 47h1M20 47h5M28 47h1M31 47h.01M10 48h.01M16 48h1M22 48h.01M26 48h5M10 49h.01M19 49h.01M22 49h.01M26 49h.01M30 49h.01M16 50h.01M22 50h.01M27 50h2M31 50h1M36 50h.01M25 51h.01M34 51h.01M34 52h.01M36 52h.01M12 53h.01M17 53h.01M35 53h.01M38 53h.01M41 53h.01M31 54h.01M34 54h.01M36 54h.01M40 54h1M16 55h.01M22 55h.01M27 55h1M38 55h.01M41 55h.01M19 56h.01M27 56h.01M30 56h.01M39 56h2M43 56h.01M24 57h.01M43 57h1M46 57h1M43 58h.01M46 58h.01M49 58h.01M35 59h.01M34 60h.01M38 60h.01M44 60h1M50 60h.01M27 61h.01M42 61h.01M48 61h.01M54 61h.01M17 62h.01M35 62h.01M50 62h.01M52 62h1M27 63h.01M53 63h1M33 64h.01M40 64h.01M56 64h1M30 65h.01M58 65h1M34 66h.01M60 66h.01M24 67h.01M60 67h1M61 68h.01M63 68h.01M47 69h.01M50 69h.01M62 69h.01M57 70h.01M59 70h.01M46 71h.01M65 71h2M67 72h.01M61 73h.01M70 74h.01M69 75h.01M72 76h.01M43 77h.01M74 77h.01M75 78h.01M76 79h.01M77 80h.01M78 81h.01M80 86h.01M85 87h.01M86 88h.01M87 89h.01M88 90h.01M90 92h.01M96 97h.01M97 98h.01M99 100h.01M97 101h.01M101 102h.01M112 112h.01M113 113h.01M114 114h.01M124 124h.01"/><path stroke="#2eafcd" d="M2 17h.01M2 20h.01M4 25h.01M4 28h.01M5 30h1M6 31h.01M8 32h.01M8 33h.01M8 34h.01M10 34h.01M7 35h.01M9 35h.01M11 35h.01M9 36h.01M9 37h1M12 37h.01M18 37h.01M10 38h.01M11 39h.01M9 40h.01M11 40h1M15 40h.01M20 40h.01M13 41h1M16 41h.01M19 41h.01M22 41h2M26 41h.01M14 42h.01M16 42h3M23 42h.01M12 43h.01M17 43h.01M20 43h2M27 43h.01M17 44h.01M21 44h.01M26 44h.01M19 45h.01M21 45h2M26 45h1M31 45h1M21 46h2M26 46h.01M28 46h2M15 47h.01M30 47h.01M32 47h.01M20 48h.01M23 48h1M32 48h.01M34 48h.01M31 49h.01M33 49h3M33 50h.01M35 50h.01M37 50h2M13 51h1M35 51h2M40 51h.01M39 52h.01M42 52h.01M36 53h.01M40 53h.01M43 53h.01M44 54h.01M46 54h.01M17 55h.01M42 55h.01M44 55h1M42 57h.01M45 57h.01M50 57h.01M45 58h.01M47 58h1M50 58h.01M33 59h.01M49 59h3M54 59h.01M41 60h.01M51 60h3M17 61h.01M39 61h.01M53 61h.01M55 62h.01M56 63h1M58 64h.01M60 64h.01M60 65h.01M42 66h.01M61 66h.01M56 67h.01M62 67h.01M46 68h.01M28 69h.01M64 69h.01M66 70h.01M63 72h.01M68 72h.01M70 73h.01M71 74h.01M72 75h.01M73 76h.01M80 82h.01M82 84h.01M92 93h.01M94 95h.01M98 99h.01M100 101h.01M107 107h.01M109 109h.01M111 111h.01M115 115h.01M126 126h.01"/><path stroke="#3db1c2" d="M1 14h.01M2 16h.01M3 21h.01M4 22h.01M4 24h.01M5 26h.01M5 27h.01M6 28h.01M4 29h2M8 29h.01M7 30h.01M7 31h1M6 32h1M11 32h.01M7 34h.01M9 34h.01M11 34h.01M8 35h.01M10 35h.01M12 35h.01M8 36h.01M10 36h.01M12 36h.01M15 36h1M11 37h.01M13 37h3M21 37h.01M12 38h3M17 38h1M20 38h.01M10 39h.01M12 39h5M19 39h1M23 39h.01M25 39h.01M10 40h.01M14 40h.01M16 40h3M21 40h3M18 41h.01M20 41h.01M27 41h.01M20 42h2M24 42h1M27 42h.01M29 42h.01M16 43h.01M19 43h.01M23 43h3M28 43h.01M31 43h.01M8 44h.01M28 44h3M25 45h.01M29 45h1M33 45h1M32 46h1M33 47h1M36 47h.01M33 48h.01M36 48h1M12 49h.01M32 49h.01M37 49h2M40 50h.01M38 51h1M41 51h1M40 52h1M42 53h.01M44 53h1M42 54h1M45 54h.01M47 54h.01M23 55h.01M43 55h.01M47 55h.01M45 56h2M49 56h1M48 57h1M51 58h1M22 59h.01M55 60h.01M55 61h.01M56 62h.01M58 63h.01M46 64h.01M59 64h.01M61 65h.01M62 66h.01M63 67h.01M39 68h.01M64 68h.01M38 69h.01M65 69h1M65 72h.01M79 81h.01M81 83h.01M83 85h.01M84 86h.01M89 90h.01M90 91h.01M93 94h.01M95 96h.01M105 105h.01M106 106h.01M108 108h.01M110 110h.01"/><path stroke="#4cb3b7" d="M0 9h.01M1 13h.01M3 19h.01M3 20h.01M4 23h.01M6 26h.01M6 27h.01M5 28h.01M7 28h.01M7 29h.01M8 30h1M9 31h1M9 32h.01M15 32h1M9 33h.01M12 33h.01M15 33h.01M12 34h3M17 34h.01M13 35h4M21 35h.01M11 36h.01M13 36h1M18 36h1M22 36h.01M17 37h.01M20 37h.01M26 37h.01M16 38h.01M21 38h.01M23 38h1M26 38h.01M18 39h.01M21 39h1M24 39h.01M26 39h.01M25 40h2M17 41h.01M25 41h.01M28 41h.01M26 42h.01M30 42h.01M32 42h.01M29 43h1M27 44h.01M33 44h.01M36 45h.01M31 46h.01M34 46h2M35 47h.01M38 47h1M35 48h.01M38 48h.01M40 48h.01M40 49h1M41 50h.01M43 51h.01M43 52h1M47 53h.01M46 55h.01M48 55h.01M48 56h.01M51 57h2M53 58h.01M56 61h1M59 63h.01M49 66h.01M67 70h.01M68 71h.01M69 72h.01M73 75h.01M74 76h.01M77 79h.01M87 88h.01M88 89h.01M91 92h.01M99 99h.01M101 101h.01M102 102h.01M103 103h.01M104 104h.01"/><path stroke="#57b6b1" d="M0 8h.01M1 11h.01M1 12h.01M2 15h.01M5 21h.01M5 22h1M5 23h.01M5 24h.01M5 25h2M8 26h1M7 27h.01M10 27h1M8 28h1M12 28h.01M9 29h.01M11 29h.01M14 29h.01M12 30h.01M14 30h.01M11 31h4M10 32h.01M12 32h.01M14 32h.01M19 32h.01M10 33h1M13 33h.01M16 33h.01M16 34h.01M18 34h.01M20 34h.01M22 34h.01M18 35h.01M20 35h.01M22 35h.01M25 35h.01M17 36h.01M25 36h.01M19 37h.01M22 37h3M19 38h.01M25 38h.01M27 38h.01M27 39h1M28 40h.01M29 41h1M28 42h.01M31 42h.01M33 42h.01M32 43h.01M32 44h.01M34 44h.01M35 45h.01M37 46h2M37 47h.01M40 47h.01M39 48h.01M42 49h.01M42 50h.01M44 51h1M45 52h.01M46 53h.01M48 54h1M49 55h1M51 56h.01M54 58h.01M53 59h.01M55 59h.01M56 60h.01M57 62h1M62 65h.01M64 67h.01M65 68h.01M70 72h.01M71 73h.01M75 77h.01M76 78h.01M78 80h.01M84 85h.01M85 86h.01M86 87h.01M97 97h.01M98 98h.01M100 100h.01"/><path stroke="#60b8ad" d="M0 7h.01M3 17h.01M3 18h.01M5 19h.01M4 21h.01M7 21h.01M6 23h.01M8 23h1M6 24h2M10 24h.01M10 25h.01M7 26h.01M10 26h2M8 27h1M13 27h.01M10 28h1M10 29h.01M12 29h.01M17 29h.01M10 30h1M13 30h.01M15 30h.01M17 30h.01M17 31h.01M19 31h.01M13 32h.01M17 32h1M20 32h1M14 33h.01M17 33h3M22 33h.01M19 34h.01M21 34h.01M19 35h.01M23 35h.01M20 36h1M23 36h1M26 36h.01M27 37h.01M22 38h.01M28 38h.01M29 39h.01M29 40h1M32 40h.01M31 41h1M34 42h.01M34 43h1M35 44h.01M37 45h1M40 46h.01M41 47h1M41 48h.01M43 49h1M43 50h1M46 52h.01M48 52h.01M48 53h1M50 54h.01M51 55h.01M56 59h.01M58 61h.01M59 62h.01M60 63h.01M61 64h.01M63 66h.01M68 70h.01M72 74h.01M81 82h.01M82 83h.01M94 94h.01M95 95h.01"/><path stroke="#69bba9" d="M3 15h.01M3 16h1M4 17h1M4 18h.01M7 19h.01M4 20h2M6 21h.01M7 22h.01M9 22h.01M7 23h.01M9 24h.01M11 24h.01M8 25h1M13 26h2M12 27h.01M15 27h.01M13 28h3M13 29h.01M15 29h1M18 29h1M16 30h.01M18 30h.01M16 31h.01M18 31h.01M20 31h.01M22 32h.01M21 33h.01M23 34h.01M25 34h.01M24 35h.01M27 35h.01M27 36h1M30 37h.01M29 38h1M30 39h1M31 40h.01M34 40h.01M33 41h.01M35 41h.01M35 42h.01M33 43h.01M36 43h.01M36 44h2M39 45h1M42 48h1M45 50h.01M47 51h.01M47 52h.01M52 56h.01M55 58h.01M57 60h.01M62 64h.01M64 66h.01M67 69h.01M69 71h.01M75 76h.01M79 80h.01M80 81h.01M83 84h.01M92 92h.01M93 93h.01M96 96h.01"/><path stroke="#6fbea6" d="M1 10h.01M2 12h.01M2 13h.01M2 14h1M4 15h1M6 17h.01M5 18h.01M4 19h.01M6 19h.01M8 21h1M8 22h.01M10 22h2M10 23h1M13 23h.01M12 24h.01M14 24h.01M11 25h4M16 26h.01M14 27h.01M16 27h1M18 28h.01M20 29h.01M19 30h.01M21 31h1M24 33h.01M24 34h.01M26 34h1M26 35h.01M28 37h1M31 38h1M32 39h.01M33 40h.01M36 42h.01M37 43h.01M39 44h.01M41 46h1M43 47h.01M45 49h.01M46 51h.01M52 55h.01M54 57h.01M59 61h.01M65 67h.01M66 68h.01M76 77h.01M77 78h.01M78 79h.01M84 84h.01M87 87h.01M88 88h.01M89 89h.01M91 91h.01"/><path stroke="#74c0a4" d="M0 6h.01M1 9h.01M3 13h.01M4 14h.01M5 16h.01M6 18h.01M8 18h.01M10 19h.01M7 20h5M10 21h2M13 22h.01M12 23h.01M14 23h.01M13 24h.01M15 24h.01M18 27h.01M17 28h.01M19 28h.01M20 30h1M23 31h.01M23 32h.01M23 33h.01M25 33h1M28 35h.01M29 36h1M31 37h.01M33 38h.01M33 39h1M34 41h.01M36 41h1M38 42h.01M38 43h1M41 45h.01M44 48h.01M46 50h.01M49 52h.01M50 53h.01M51 54h.01M53 56h.01M55 57h.01M60 62h.01M63 65h.01M70 71h.01M71 72h.01M72 73h.01M73 74h.01M74 75h.01M85 85h.01M86 86h.01M90 90h.01"/><path stroke="#79c3a1" d="M2 9h.01M2 10h.01M2 11h.01M3 12h.01M4 13h.01M6 16h.01M7 17h.01M7 18h.01M10 18h.01M8 19h1M13 21h.01M14 22h.01M16 23h.01M16 24h.01M16 25h2M17 26h2M19 27h.01M20 28h.01M21 29h.01M22 30h.01M24 30h.01M24 31h.01M24 32h1M27 33h.01M28 34h1M29 35h.01M35 39h.01M37 42h.01M40 44h.01M43 46h.01M44 47h.01M47 50h.01M48 51h.01M53 55h.01M54 56h.01M56 58h.01M57 59h.01M58 60h.01M61 63h.01M65 66h.01M66 67h.01M68 69h.01M69 70h.01M79 79h.01M80 80h.01M81 81h.01M82 82h.01M83 83h.01"/><path stroke="#7fc59f" d="M0 5h.01M1 8h.01M4 12h.01M5 14h1M6 15h1M7 16h.01M9 17h.01M9 18h.01M11 18h.01M11 19h.01M13 20h.01M14 21h.01M15 22h.01M15 23h.01M17 24h.01M20 27h.01M21 28h.01M22 29h.01M23 30h.01M25 31h.01M26 32h.01M28 33h.01M30 35h.01M31 36h.01M32 37h.01M35 40h.01M41 44h.01M46 49h.01M48 50h.01M51 53h.01M52 54h.01M62 63h.01M63 64h.01M64 65h.01M67 68h.01M78 78h.01"/><path stroke="#85c79d" d="M1 6h.01M1 7h.01M3 11h.01M5 12h.01M5 13h1M7 14h.01M9 16h.01M8 17h.01M16 22h.01M17 23h.01M19 25h.01M21 27h.01M22 28h.01M24 29h.01M26 31h.01M27 32h.01M30 34h.01M33 37h.01M34 38h.01M36 40h1M42 45h.01M45 47h.01M45 48h.01M47 49h.01M49 51h.01M50 52h.01M57 58h.01M58 59h.01M60 61h.01M61 62h.01M75 75h.01M76 76h.01M77 77h.01"/><path stroke="#8bca9a" d="M3 10h.01M4 11h.01M8 14h.01M8 15h1M8 16h.01M10 16h.01M10 17h1M12 19h1M14 20h.01M15 21h.01M18 24h.01M20 26h.01M23 28h.01M23 29h.01M25 30h.01M29 33h.01M31 35h.01M32 36h.01M36 39h.01M39 42h.01M40 43h.01M46 48h.01M55 56h.01M59 60h.01M69 69h.01M70 70h.01M71 71h.01M72 72h.01M73 73h.01M74 74h.01"/><path stroke="#91cc97" d="M0 4h.01M1 5h.01M2 7h.01M2 8h.01M3 9h.01M5 11h.01M7 13h.01M12 17h.01M12 18h.01M14 19h.01M17 22h.01M18 23h.01M20 25h.01M22 27h.01M28 32h.01M31 34h.01M33 36h.01M38 41h.01M40 42h.01M43 45h.01M44 46h.01M51 52h.01M52 53h.01M53 54h.01M54 55h.01M56 57h.01M67 67h.01"/><path stroke="#9cce90" d="M0 3h.01M4 10h.01M6 11h.01M6 12h.01M8 13h.01M9 14h.01M10 15h.01M11 16h.01M13 18h.01M15 20h.01M16 21h.01M20 24h.01M21 26h.01M25 29h.01M26 30h.01M27 31h.01M30 33h.01M34 37h.01M35 38h.01M37 39h.01M39 41h.01M41 43h.01M42 44h.01M60 60h.01M62 62h.01M64 64h.01M65 65h.01M66 66h.01M68 68h.01"/><path stroke="#a8d088" d="M1 4h.01M3 8h.01M4 9h.01M5 10h.01M7 12h.01M10 14h.01M13 17h.01M18 22h.01M19 24h.01M21 25h.01M23 27h.01M28 31h.01M29 32h.01M32 35h.01M36 38h.01M38 40h.01M46 47h.01M47 48h.01M48 49h.01M49 50h.01M50 51h.01M58 58h.01M59 59h.01M63 63h.01"/><path stroke="#bcc981" d="M9 13h.01M11 15h.01M12 16h.01M14 18h.01M15 19h.01M16 20h.01M17 21h.01M19 23h.01M22 26h.01M24 28h1M26 29h.01M27 30h.01M33 35h.01M35 37h.01M43 44h.01M53 53h.01M54 54h.01M55 55h.01M57 57h.01M61 61h.01"/><path stroke="#ccc179" d="M0 2h.01M2 5h.01M2 6h.01M3 7h.01M5 9h.01M7 11h.01M8 12h.01M23 26h.01M24 27h.01M29 31h.01M30 32h.01M31 33h.01M32 34h.01M34 36h.01M39 40h.01M40 41h.01M42 43h.01M44 45h.01M45 46h.01M56 56h.01"/><path stroke="#d8b772" d="M1 3h.01M4 8h.01M6 10h.01M16 19h.01M21 24h.01M22 25h.01M27 29h.01M28 30h.01M41 42h.01M48 48h.01M51 51h.01M52 52h.01"/><path stroke="#e4aa6c" d="M4 7h.01M11 14h.01M13 16h.01M14 17h.01M15 18h.01M17 20h.01M18 21h.01M19 22h.01M20 23h.01M25 27h.01M36 37h.01M37 38h.01M38 39h.01M47 47h.01M49 49h.01M50 50h.01"/><path stroke="#ec9b66" d="M3 6h.01M5 8h.01M6 9h.01M8 11h.01M9 12h.01M10 13h.01M12 15h.01M24 26h.01M34 35h.01M35 36h.01M43 43h.01M44 44h.01M45 45h.01M46 46h.01"/><path stroke="#ea8860" d="M0 1h.01M7 10h.01M21 23h.01M22 24h.01M23 25h.01M26 28h.01M30 31h.01M32 33h.01M33 34h.01M42 42h.01"/><path stroke="#e87659" d="M2 4h.01M11 13h.01M12 14h.01M19 21h.01M20 22h.01M28 29h.01M31 32h.01M38 38h.01M39 39h.01M40 40h.01M41 41h.01"/><path stroke="#e56953" d="M1 2h.01M7 9h.01M8 10h.01M9 11h.01M14 16h.01M15 17h.01M16 18h.01M17 19h.01M18 20h.01M26 27h.01M29 30h.01M37 37h.01"/><path stroke="#e25c4e" d="M0 0h.01M4 6h.01M5 7h.01M6 8h.01M10 12h.01M13 15h.01M24 25h.01M27 28h.01M34 34h.01M35 35h.01M36 36h.01"/><path stroke="#e05048" d="M2 3h.01M3 5h.01M16 17h.01M17 18h.01M19 20h.01M21 22h.01M22 23h.01M23 24h.01M29 29h.01M31 31h.01M33 33h.01"/><path stroke="#dd4742" d="M1 1h.01M8 9h.01M13 14h.01M14 15h.01M15 16h.01M18 19h.01M25 26h.01M30 30h.01M32 32h.01"/><path stroke="#db3f3c" d="M3 4h.01M6 7h.01M9 10h.01M11 12h.01M12 13h.01M20 21h.01M24 24h.01M28 28h.01"/><path stroke="#d83636" d="M5 6h.01M7 8h.01M10 11h.01M25 25h.01M27 27h.01"/><path stroke="#d62e30" d="M2 2h.01M3 3h.01M4 4h.01M4 5h1M6 6h.01M7 7h.01M8 8h.01M9 9h.01M10 10h.01M11 11h.01M12 12h.01M13 13h.01M14 14h.01M15 15h.01M16 16h.01M17 17h.01M18 18h.01M19 19h.01M20 20h.01M21 21h.01M22 22h.01M23 23h.01M26 26h.01"/></g></g>
<line x1="299.8" y1="470.8" x2="481.8" y2="288.8" stroke="#2a2a2a" stroke-width="1"/>
<rect x="299.8" y="288.8" width="182" height="182" fill="none" stroke="#666" stroke-width="1.15"/>
<path d="M299.8,470.8v-2.5M299.8,288.8v2.5M299.8,470.8h2.5M481.8,470.8h-2.5M336.2,470.8v-2.5M336.2,288.8v2.5M299.8,434.4h2.5M481.8,434.4h-2.5M372.6,470.8v-2.5M372.6,288.8v2.5M299.8,398h2.5M481.8,398h-2.5M409,470.8v-2.5M409,288.8v2.5M299.8,361.6h2.5M481.8,361.6h-2.5M445.4,470.8v-2.5M445.4,288.8v2.5M299.8,325.2h2.5M481.8,325.2h-2.5M481.8,470.8v-2.5M481.8,288.8v2.5M299.8,288.8h2.5M481.8,288.8h-2.5" stroke="#333" stroke-width="0.8"/>
<g font-family="Liberation Sans" font-size="7" fill="#333"><text x="297.3" y="473.3" text-anchor="end">0</text><text x="299.8" y="478.4" text-anchor="middle">0</text><text x="297.3" y="436.9" text-anchor="end">20</text><text x="336.2" y="478.4" text-anchor="middle">20</text><text x="297.3" y="400.5" text-anchor="end">40</text><text x="372.6" y="478.4" text-anchor="middle">40</text><text x="297.3" y="364.1" text-anchor="end">60</text><text x="409" y="478.4" text-anchor="middle">60</text><text x="297.3" y="327.7" text-anchor="end">80</text><text x="445.4" y="478.4" text-anchor="middle">80</text><text x="297.3" y="291.3" text-anchor="end">100</text><text x="481.8" y="478.4" text-anchor="middle">100</text></g>
<g transform="translate(382.1,479.9)" fill="#333"><path d="M9.8,0.9 C6.6,-0.3 1.9,1.4 0.7,4.8 C-0.2,7.6 2.2,9.3 4.8,8.7 C6.1,8.4 6.9,7.8 7.5,7.0" fill="none" stroke="#3a3a3a" stroke-width="1.0" stroke-linecap="round"/><path d="M2.8,6.6 C4.4,4.9 7.4,2.9 9.8,0.9 C11.5,0.4 12.3,1.6 11.7,2.8 C11.1,3.9 9.5,4.4 7.9,4.3 C9.1,5.4 10.4,7.2 11.9,8.3" fill="none" stroke="#3a3a3a" stroke-width="0.75" stroke-linecap="round"/><text x="14.1" y="3.2" font-family="Liberation Serif" font-size="8.2">2</text><text x="12.1" y="11.3" font-family="Liberation Serif" font-style="italic" font-size="9.5">b</text></g>
<g transform="translate(275.6,388.15) rotate(-90)" fill="#333"><path d="M9.8,0.9 C6.6,-0.3 1.9,1.4 0.7,4.8 C-0.2,7.6 2.2,9.3 4.8,8.7 C6.1,8.4 6.9,7.8 7.5,7.0" fill="none" stroke="#3a3a3a" stroke-width="1.0" stroke-linecap="round"/><path d="M2.8,6.6 C4.4,4.9 7.4,2.9 9.8,0.9 C11.5,0.4 12.3,1.6 11.7,2.8 C11.1,3.9 9.5,4.4 7.9,4.3 C9.1,5.4 10.4,7.2 11.9,8.3" fill="none" stroke="#3a3a3a" stroke-width="0.75" stroke-linecap="round"/><text x="14.1" y="3.2" font-family="Liberation Serif" font-size="8.2">2</text><text x="12.1" y="11.3" font-family="Liberation Serif" font-style="italic" font-size="9.5">d</text></g>
<rect x="495" y="288.5" width="9.2" height="182.3" fill="url(#cbg)" stroke="#555" stroke-width="0.8"/>
<path d="M504.2,470.8h-2M504.2,410.03h-2M504.2,349.27h-2M504.2,288.5h-2" stroke="#333" stroke-width="0.8"/>
<g font-family="Liberation Sans" font-size="7" fill="#333"><text x="506.7" y="472.9">10<tspan font-size="5.2" dy="-3.2">0</tspan></text><text x="506.7" y="412.13">10<tspan font-size="5.2" dy="-3.2">1</tspan></text><text x="506.7" y="351.37">10<tspan font-size="5.2" dy="-3.2">2</tspan></text><text x="506.7" y="290.6">10<tspan font-size="5.2" dy="-3.2">3</tspan></text></g>
<text transform="translate(415.1,464.3) scale(1.04,1)" font-family="Liberation Serif" font-size="17.5" fill="#111" class="nc">N<tspan font-size="12.42" dy="2.6">c</tspan><tspan dy="-2.6">=3M</tspan></text>
<g stroke="#b4b4b4" stroke-width="0.8" stroke-dasharray="1,1.1"><line x1="76.42" y1="520.5" x2="76.42" y2="703.4"/><line x1="30.7" y1="657.67" x2="213.6" y2="657.67"/><line x1="122.15" y1="520.5" x2="122.15" y2="703.4"/><line x1="30.7" y1="611.95" x2="213.6" y2="611.95"/><line x1="167.88" y1="520.5" x2="167.88" y2="703.4"/><line x1="30.7" y1="566.23" x2="213.6" y2="566.23"/></g>
<clipPath id="cp4"><polygon points="30.70,703.40 213.60,520.50 30.70,520.50"/></clipPath><g clip-path="url(#cp4)"><g transform="translate(31.5,702.5) scale(1,-1)" fill="none" stroke-width="1.15" stroke-linecap="square"><path stroke="#5a4a9c" d="M0 14h.01M1 15h.01M0 18h.01M3 22h.01M3 26h.01M4 27h.01M4 28h.01M4 30h.01M6 31h.01M3 32h.01M3 34h.01M6 35h1M9 35h.01M12 35h.01M12 36h.01M5 37h.01M9 37h.01M13 37h.01M9 38h.01M19 38h.01M4 39h.01M11 39h.01M13 39h.01M6 40h.01M20 40h.01M24 40h.01M8 41h.01M10 41h.01M12 41h.01M21 41h.01M28 41h.01M8 42h2M12 42h.01M19 42h1M26 42h.01M9 43h.01M16 43h.01M18 43h.01M11 44h.01M15 44h.01M17 44h.01M25 44h1M10 45h2M20 45h.01M22 45h.01M26 45h.01M28 45h.01M34 45h.01M36 45h.01M9 46h.01M14 46h.01M18 46h.01M20 46h.01M23 46h.01M27 46h.01M30 46h.01M33 46h1M8 47h.01M11 47h.01M16 47h1M19 47h1M27 47h.01M34 47h.01M37 47h.01M10 48h.01M12 48h.01M16 48h.01M21 48h.01M24 48h.01M26 48h.01M28 48h1M32 48h.01M34 48h.01M8 49h1M16 49h.01M19 49h1M22 49h.01M30 49h.01M32 49h2M39 49h.01M9 50h.01M14 50h.01M16 50h.01M18 50h1M25 50h.01M29 50h.01M31 50h2M38 50h1M8 51h1M15 51h.01M18 51h.01M30 51h.01M35 51h1M38 51h.01M9 52h.01M24 52h1M33 52h.01M35 52h.01M39 52h1M42 52h.01M44 52h1M9 53h1M12 53h.01M15 53h1M19 53h.01M22 53h1M25 53h.01M27 53h1M30 53h2M35 53h.01M9 54h.01M12 54h.01M14 54h.01M17 54h.01M22 54h.01M26 54h5M34 54h1M40 54h2M10 55h2M14 55h.01M18 55h.01M21 55h.01M23 55h1M29 55h.01M32 55h.01M35 55h.01M44 55h.01M14 56h2M25 56h.01M29 56h.01M36 56h.01M41 56h.01M44 56h.01M13 57h2M17 57h3M23 57h.01M26 57h.01M29 57h2M33 57h.01M47 57h1M50 57h1M11 58h2M22 58h.01M28 58h2M34 58h.01M37 58h5M44 58h.01M12 59h1M15 59h.01M19 59h1M22 59h1M26 59h.01M35 59h.01M40 59h1M43 59h.01M45 59h.01M49 59h.01M10 60h3M16 60h1M19 60h.01M25 60h3M32 60h.01M34 60h.01M36 60h.01M39 60h.01M41 60h1M44 60h.01M46 60h3M52 60h.01M13 61h.01M15 61h1M18 61h.01M24 61h1M31 61h.01M34 61h.01M40 61h.01M42 61h.01M46 61h.01M51 61h.01M53 61h.01M55 61h.01M11 62h.01M14 62h1M18 62h.01M21 62h3M26 62h.01M32 62h.01M37 62h.01M41 62h.01M45 62h.01M47 62h.01M49 62h2M55 62h1M12 63h.01M17 63h.01M20 63h.01M23 63h2M27 63h.01M35 63h.01M45 63h.01M51 63h.01M53 63h.01M58 63h.01M2 64h.01M17 64h.01M27 64h.01M39 64h.01M42 64h.01M44 64h.01M51 64h.01M54 64h.01M56 64h.01M60 64h.01M13 65h.01M16 65h1M20 65h.01M22 65h1M28 65h.01M45 65h1M48 65h.01M53 65h.01M59 65h.01M34 66h1M40 66h.01M43 66h.01M48 66h1M51 66h.01M57 66h.01M14 67h.01M16 67h.01M20 67h.01M28 67h1M37 67h.01M45 67h.01M49 67h.01M54 67h.01M60 67h.01M62 67h.01M14 68h.01M21 68h.01M46 68h.01M55 68h2M59 68h.01M15 69h1M23 69h.01M40 69h.01M56 69h.01M60 69h2M64 69h1M23 70h.01M30 70h.01M35 70h.01M47 70h.01M50 70h.01M55 70h.01M58 70h2M66 70h.01M20 71h.01M45 71h1M56 71h1M60 71h1M65 71h.01M48 72h.01M54 72h.01M56 72h1M63 72h2M69 72h.01M31 73h.01M43 73h.01M53 73h.01M60 73h.01M62 73h.01M65 73h1M69 73h.01M34 74h.01M36 74h.01M54 74h1M57 74h1M61 74h.01M66 74h.01M27 75h.01M30 75h.01M49 75h.01M57 75h1M60 75h.01M62 75h.01M64 75h1M67 75h.01M69 75h.01M71 75h.01M55 76h1M62 76h1M67 76h1M70 76h1M20 77h.01M43 77h.01M54 77h.01M57 77h.01M60 77h.01M64 77h.01M66 77h.01M69 77h1M74 77h.01M25 78h.01M47 78h.01M56 78h.01M65 78h.01M68 78h.01M71 78h.01M73 78h.01M53 79h.01M57 79h.01M71 79h1M75 79h.01M66 80h1M72 80h1M76 80h.01M66 81h.01M70 81h3M75 81h.01M77 81h1M72 82h.01M75 82h3M63 83h.01M66 83h.01M72 83h1M77 83h1M57 84h.01M64 84h.01M66 84h.01M69 84h1M73 84h2M81 84h.01M60 85h.01M77 85h.01M79 85h.01M83 85h.01M67 86h2M77 86h.01M79 86h.01M81 86h1M65 87h.01M67 87h.01M73 87h1M79 87h1M85 87h.01M72 88h.01M78 88h.01M70 89h.01M74 89h.01M79 89h.01M83 89h1M86 89h.01M46 90h.01M61 90h.01M66 90h.01M75 90h.01M79 90h.01M81 90h4M87 90h.01M63 91h.01M87 91h.01M89 91h.01M90 92h.01M71 93h.01M75 93h.01M80 93h.01M85 93h.01M88 94h1M91 94h1M67 95h.01M87 95h.01M89 95h.01M93 95h.01M91 96h.01M87 97h.01M89 97h.01M92 97h1M67 98h.01M88 98h.01M91 98h.01M95 98h.01M81 99h.01M90 99h.01M93 99h.01M96 99h.01M66 100h.01M85 100h.01M87 100h1M93 100h1M97 100h.01M95 101h.01M99 101h.01M97 102h.01M80 103h.01M100 103h.01M94 104h.01M96 104h.01M101 104h1M88 105h.01M103 105h.01M73 106h.01M98 106h.01M105 106h.01M90 107h.01M94 107h.01M99 107h.01M103 107h.01M85 108h.01M89 108h.01M105 108h1M101 109h.01M102 110h.01M107 110h1M94 111h.01M97 112h.01M106 112h3M106 114h.01M109 114h.01M112 114h.01M85 115h.01M111 115h.01M113 115h.01M106 117h.01M114 117h.01M117 118h.01M94 119h.01M117 119h.01M93 120h.01M118 120h.01M114 121h1M120 121h.01M121 122h.01M122 123h.01M126 126h.01M123 127h.01M125 127h2M128 128h.01M126 129h.01M129 130h1M125 131h.01M130 131h1M134 135h1M135 136h.01M136 138h.01M139 140h.01M143 143h.01M144 144h.01M146 146h.01M146 147h.01M148 149h.01M149 151h.01M153 153h.01M156 156h.01M160 160h.01M162 162h.01M164 166h.01M169 169h.01M169 170h.01"/><path stroke="#4451a8" d="M0 11h.01M1 16h.01M2 18h.01M3 24h.01M5 28h.01M4 29h.01M6 30h.01M6 34h.01M8 34h.01M5 35h.01M5 36h.01M10 37h.01M18 37h.01M23 37h.01M5 38h1M8 38h.01M15 38h.01M23 38h1M9 39h.01M15 39h.01M17 39h1M20 39h.01M27 39h.01M7 40h.01M9 40h2M16 40h.01M18 40h.01M21 40h.01M6 41h.01M14 41h2M19 41h.01M30 41h.01M6 42h.01M11 42h.01M14 42h.01M17 42h.01M23 42h.01M25 42h.01M27 42h3M12 43h2M20 43h.01M25 43h2M30 43h.01M32 43h.01M7 44h.01M10 44h.01M13 44h.01M19 44h.01M22 44h.01M30 44h1M7 45h.01M13 45h1M16 45h1M19 45h.01M23 45h.01M30 45h.01M33 45h.01M8 46h.01M13 46h.01M19 46h.01M21 46h.01M26 46h.01M28 46h.01M32 46h.01M10 47h.01M13 47h1M24 47h2M30 47h.01M33 47h.01M9 48h.01M17 48h.01M19 48h.01M22 48h1M25 48h.01M33 48h.01M36 48h2M12 49h.01M15 49h.01M18 49h.01M21 49h.01M24 49h.01M26 49h1M29 49h.01M36 49h.01M38 49h.01M40 49h.01M10 50h3M22 50h1M34 50h.01M37 50h.01M10 51h1M19 51h.01M23 51h.01M27 51h.01M29 51h.01M34 51h.01M39 51h1M11 52h.01M16 52h3M22 52h.01M26 52h.01M11 53h.01M14 53h.01M17 53h1M26 53h.01M40 53h3M45 53h.01M11 54h.01M18 54h1M36 54h2M45 54h.01M47 54h.01M13 55h.01M15 55h.01M28 55h.01M33 55h.01M37 55h.01M43 55h.01M47 55h1M21 56h.01M24 56h.01M26 56h.01M33 56h.01M46 56h2M9 57h.01M11 57h.01M25 57h.01M27 57h.01M32 57h.01M39 57h.01M42 57h.01M45 57h1M18 58h.01M20 58h.01M48 58h1M53 58h.01M17 59h.01M27 59h.01M44 59h.01M46 59h.01M48 59h.01M50 59h.01M52 59h2M37 60h.01M45 60h.01M51 60h.01M54 60h.01M50 61h.01M52 61h.01M27 62h.01M40 62h.01M53 62h.01M14 63h.01M16 63h.01M56 63h1M31 64h.01M53 64h.01M57 64h1M50 65h.01M56 65h2M33 66h.01M60 66h1M52 67h.01M58 67h.01M58 68h.01M60 68h.01M62 68h.01M61 70h1M65 70h.01M58 71h.01M67 71h.01M52 72h.01M67 73h.01M70 73h.01M52 74h.01M69 74h.01M22 75h.01M66 75h.01M68 75h.01M72 75h.01M52 76h.01M66 76h.01M69 76h.01M72 76h.01M67 77h.01M73 77h.01M69 78h.01M74 78h.01M74 79h.01M79 83h.01M79 84h.01M69 85h.01M78 85h.01M83 86h.01M70 87h.01M77 88h.01M78 90h.01M81 91h.01M89 92h.01M89 93h.01M64 95h.01M91 95h.01M94 96h.01M95 97h.01M97 99h.01M95 100h.01M98 102h.01M102 106h.01M104 107h.01M110 116h.01M115 116h.01M115 117h2M118 118h.01M116 119h.01M119 120h.01M121 121h.01M121 123h.01M132 132h.01M132 133h.01M137 137h.01M143 144h.01"/><path stroke="#3c61b0" d="M0 10h.01M0 12h.01M1 13h.01M2 19h.01M2 20h.01M3 23h.01M5 29h1M6 32h.01M9 32h.01M6 33h.01M9 34h.01M15 35h1M7 36h.01M9 36h2M19 36h.01M14 37h.01M16 37h.01M19 37h.01M22 37h.01M13 38h.01M17 38h.01M20 38h.01M14 39h.01M19 39h.01M22 39h1M8 40h.01M12 40h.01M17 40h.01M19 40h.01M22 40h.01M26 40h.01M9 41h.01M13 41h.01M18 41h.01M22 41h.01M27 41h.01M16 42h.01M31 42h.01M8 43h.01M10 43h1M21 43h.01M28 43h1M18 44h.01M20 44h1M23 44h.01M28 44h1M32 44h1M15 45h.01M25 45h.01M29 45h.01M32 45h.01M35 45h.01M10 46h.01M16 46h.01M24 46h1M35 46h.01M38 46h.01M12 47h.01M18 47h.01M28 47h.01M35 47h.01M38 47h.01M27 48h.01M30 48h.01M39 48h.01M13 49h1M23 49h.01M27 50h.01M30 50h.01M41 50h.01M43 50h.01M12 51h.01M14 51h.01M22 51h.01M28 51h.01M33 51h.01M37 51h.01M42 51h.01M44 51h.01M10 52h.01M23 52h.01M34 52h.01M39 53h.01M39 54h.01M19 55h1M30 55h.01M38 55h.01M42 55h.01M45 55h.01M27 56h.01M43 56h.01M45 56h.01M49 56h.01M37 57h.01M44 57h.01M49 57h.01M33 58h.01M47 58h.01M51 58h.01M47 59h.01M53 60h.01M55 60h.01M17 61h.01M44 61h.01M12 62h.01M16 62h.01M52 62h.01M55 64h.01M59 64h.01M59 66h.01M62 66h.01M63 68h.01M63 69h.01M63 70h.01M67 70h.01M66 72h1M68 73h.01M67 74h.01M70 74h.01M71 80h.01M77 80h.01M79 82h.01M80 83h.01M80 84h.01M83 87h.01M85 88h1M88 91h.01M93 96h.01M96 98h.01M98 99h.01M98 100h.01M100 102h1M102 103h.01M103 104h.01M104 105h.01M106 107h.01M107 108h.01M108 109h.01M111 112h.01M112 113h.01M118 119h1M120 120h.01M122 122h.01M123 123h.01M129 129h.01M136 136h.01"/><path stroke="#386cb8" d="M1 14h.01M2 17h.01M3 20h.01M4 22h.01M4 24h.01M4 26h1M6 28h.01M7 29h.01M5 30h.01M7 30h2M8 31h1M11 31h1M5 32h.01M10 32h.01M12 32h2M18 32h.01M8 33h3M13 33h1M16 33h2M13 34h1M16 34h.01M11 35h.01M14 35h.01M18 35h.01M20 35h.01M22 35h1M8 36h.01M17 36h1M22 36h.01M11 37h1M17 37h.01M21 37h.01M24 37h2M7 38h.01M14 38h.01M16 38h.01M22 38h.01M26 38h1M29 38h.01M8 39h.01M10 39h.01M16 39h.01M21 39h.01M25 39h1M13 40h.01M15 40h.01M23 40h.01M25 40h.01M28 40h1M31 40h.01M17 41h.01M23 41h2M31 41h1M13 42h.01M15 42h.01M21 42h.01M24 42h.01M22 43h.01M31 43h.01M33 43h.01M35 43h.01M9 44h.01M12 44h.01M21 45h.01M24 45h.01M37 45h.01M31 46h.01M37 46h.01M22 47h1M31 47h.01M39 47h.01M35 50h.01M43 51h.01M21 52h.01M43 52h.01M46 52h.01M44 53h.01M46 53h1M49 54h.01M49 55h1M50 58h.01M52 58h.01M57 61h.01M54 62h.01M57 62h.01M59 63h.01M62 65h.01M63 66h.01M64 67h.01M65 68h.01M66 69h.01M68 71h.01M71 74h.01M73 76h1M75 77h.01M72 78h.01M75 78h.01M77 79h.01M78 80h.01M74 81h.01M79 81h.01M80 82h.01M82 84h.01M82 85h.01M84 86h.01M91 92h.01M91 93h.01M93 94h.01M94 95h.01M95 96h.01M99 100h.01M100 101h.01M104 106h.01M109 109h.01M109 110h.01M113 113h.01M115 115h.01M124 124h.01M125 125h.01"/><path stroke="#3478c0" d="M2 16h.01M3 21h.01M4 23h.01M5 24h.01M5 25h1M6 26h.01M8 26h.01M11 26h.01M6 27h2M7 28h.01M9 28h.01M11 28h3M8 29h3M13 29h.01M16 29h.01M10 30h4M7 31h.01M10 31h.01M13 31h.01M15 31h1M15 32h2M19 32h1M7 33h.01M12 33h.01M15 33h.01M19 33h2M5 34h.01M10 34h1M15 34h.01M17 34h6M13 35h.01M19 35h.01M21 35h.01M24 35h.01M13 36h.01M20 36h1M23 36h2M20 37h.01M27 37h1M28 38h.01M6 39h.01M12 39h.01M28 39h1M30 40h.01M32 40h.01M26 41h.01M32 42h2M34 43h.01M14 44h.01M35 44h2M17 46h.01M39 46h.01M36 47h.01M40 47h1M41 48h1M37 49h.01M42 49h1M44 50h.01M41 51h.01M45 51h1M48 53h.01M44 54h.01M46 54h.01M46 55h.01M50 56h2M53 57h.01M54 58h.01M55 59h.01M56 60h.01M54 61h.01M58 61h.01M60 63h.01M61 65h.01M70 72h.01M73 75h.01M76 78h.01M76 79h.01M87 88h.01M87 89h.01M92 93h.01M96 97h.01M97 98h.01M108 108h.01M111 111h.01M112 112h.01M114 114h.01"/><path stroke="#3087c7" d="M0 9h.01M1 12h.01M3 18h.01M3 19h1M4 20h.01M4 21h.01M5 22h1M5 23h.01M7 23h.01M6 24h1M4 25h.01M7 25h2M11 25h1M7 26h.01M9 26h1M12 26h.01M5 27h.01M10 27h1M13 27h1M16 27h.01M8 28h.01M10 28h.01M15 28h2M12 29h.01M15 29h.01M17 29h.01M15 30h4M14 31h.01M17 31h4M7 32h1M11 32h.01M21 32h2M23 33h.01M12 34h.01M24 34h1M8 35h.01M25 35h2M14 36h.01M16 36h.01M26 36h1M7 37h.01M15 37h.01M29 37h.01M10 38h.01M12 38h.01M18 38h.01M25 38h.01M24 39h.01M30 39h.01M33 40h.01M20 41h.01M29 41h.01M33 41h.01M35 41h.01M22 42h.01M35 42h1M36 43h2M38 45h1M12 46h.01M36 46h.01M40 46h.01M42 47h.01M15 48h.01M40 48h.01M43 48h.01M41 49h.01M44 49h.01M40 50h.01M42 50h.01M45 50h.01M47 52h1M49 53h.01M48 54h.01M50 54h.01M51 55h.01M52 57h.01M54 57h.01M56 59h.01M57 60h.01M56 61h.01M58 62h1M61 64h.01M60 65h.01M63 67h.01M64 68h.01M69 71h.01M71 73h.01M72 74h.01M81 83h1M84 85h.01M86 87h.01M88 89h.01M88 90h1M90 91h.01M101 101h.01M103 103h.01M104 104h.01M105 105h.01M106 106h.01M107 107h.01M110 110h.01M116 116h.01"/><path stroke="#2c96cf" d="M0 8h.01M2 15h.01M4 17h.01M4 18h.01M5 20h.01M5 21h2M7 22h2M6 23h.01M8 23h3M8 24h.01M10 24h1M10 25h.01M13 26h1M9 27h.01M12 27h.01M15 27h.01M17 27h.01M18 28h.01M14 29h.01M18 29h2M20 30h2M22 31h1M24 32h.01M22 33h.01M24 33h2M26 34h.01M10 35h.01M17 35h.01M28 36h1M30 37h.01M30 38h1M31 39h3M27 40h.01M34 40h.01M34 41h.01M38 44h2M40 45h1M41 46h.01M43 47h.01M44 48h.01M45 49h.01M46 50h.01M47 51h.01M49 52h.01M50 53h.01M51 54h.01M52 55h.01M53 56h.01M55 58h.01M62 64h.01M63 65h.01M64 66h.01M65 67h.01M66 68h.01M67 69h.01M68 70h.01M76 77h.01M80 81h.01M81 82h.01M83 84h.01M85 86h.01M102 102h.01"/><path stroke="#2ba4d0" d="M1 11h.01M3 15h.01M3 16h.01M3 17h.01M5 18h1M5 19h1M8 19h.01M6 20h2M8 21h.01M10 21h.01M10 22h1M12 23h.01M9 24h.01M12 24h2M13 25h.01M15 25h2M15 26h3M19 27h.01M20 28h.01M21 29h1M25 32h.01M27 33h.01M27 34h1M28 35h1M31 37h1M32 38h.01M35 40h.01M36 41h.01M37 42h.01M42 46h.01M45 48h.01M46 49h.01M47 50h.01M48 51h.01M57 59h.01M58 60h.01M59 61h.01M60 62h.01M61 63h.01M72 73h.01M74 75h.01M75 76h.01M78 79h.01M79 80h.01M90 90h.01M96 96h.01M97 97h.01M98 98h.01M99 99h.01M100 100h.01"/><path stroke="#2eafcd" d="M0 7h.01M2 13h.01M2 14h1M4 16h1M5 17h.01M7 18h.01M7 19h.01M9 20h.01M9 21h.01M11 21h.01M12 22h1M15 22h.01M13 23h1M15 24h1M14 25h.01M19 26h.01M18 27h.01M19 28h.01M21 28h.01M23 30h1M24 31h1M26 32h1M30 35h.01M30 36h.01M33 38h.01M38 42h.01M39 43h.01M41 44h.01M43 46h.01M44 47h.01M54 56h.01M55 57h.01M56 58h.01M70 71h.01M71 72h.01M73 74h.01M77 78h.01M89 89h.01M91 91h.01M93 93h.01M94 94h.01M95 95h.01"/><path stroke="#3db1c2" d="M1 10h.01M2 12h.01M4 15h.01M6 16h.01M8 18h.01M9 19h.01M11 19h.01M10 20h.01M12 21h1M14 22h.01M15 23h1M18 25h1M20 26h.01M20 27h.01M22 28h.01M23 29h1M25 30h.01M26 31h.01M28 33h.01M29 34h.01M31 36h1M33 37h.01M34 38h.01M35 39h.01M36 40h.01M37 41h.01M42 45h.01M49 51h.01M50 52h.01M51 53h.01M52 54h.01M53 55h.01M67 68h.01M69 70h.01M83 83h.01M87 87h.01M88 88h.01M92 92h.01"/><path stroke="#4cb3b7" d="M1 9h.01M3 12h.01M3 13h.01M4 14h.01M5 15h1M6 17h2M9 18h1M10 19h.01M12 19h.01M11 20h2M14 21h.01M16 22h.01M17 23h.01M17 24h1M21 26h.01M21 27h1M23 28h.01M27 31h.01M28 32h.01M29 33h.01M30 34h.01M31 35h.01M36 39h.01M39 42h.01M40 43h.01M47 49h.01M48 50h.01M59 60h.01M62 63h.01M63 64h.01M65 66h.01M66 67h.01M68 69h.01M78 78h.01M79 79h.01M84 84h.01M85 85h.01M86 86h.01"/><path stroke="#57b6b1" d="M0 6h.01M2 11h.01M4 13h.01M7 15h.01M7 16h2M9 17h1M11 18h.01M14 20h.01M15 21h.01M18 23h.01M20 25h.01M25 29h.01M26 30h.01M29 32h.01M31 34h.01M32 35h.01M33 36h.01M34 37h.01M37 40h.01M38 41h.01M40 42h.01M44 46h.01M45 47h.01M46 48h.01M56 57h.01M57 58h.01M58 59h.01M61 62h.01M64 65h.01M72 72h.01M75 75h.01M76 76h.01M77 77h.01M80 80h.01M81 81h.01M82 82h.01"/><path stroke="#60b8ad" d="M1 8h.01M3 11h.01M4 12h.01M6 13h.01M5 14h1M11 17h.01M13 19h.01M16 21h.01M17 22h.01M19 23h.01M19 24h.01M21 25h.01M22 26h.01M23 27h.01M24 28h.01M30 33h.01M35 38h.01M37 39h.01M38 40h.01M39 41h.01M42 44h.01M43 45h.01M53 54h.01M54 55h.01M60 61h.01M69 69h.01M73 73h.01M74 74h.01"/><path stroke="#69bba9" d="M0 5h.01M1 7h.01M2 9h.01M2 10h1M5 12h.01M5 13h.01M7 14h1M8 15h1M10 16h1M12 17h.01M12 18h1M15 20h.01M17 21h.01M18 22h.01M20 24h.01M25 28h.01M27 30h.01M28 31h.01M35 37h.01M41 43h.01M48 49h.01M49 50h.01M50 51h.01M51 52h.01M52 53h.01M55 56h.01M65 65h.01M67 67h.01M68 68h.01M70 70h.01M71 71h.01"/><path stroke="#6fbea6" d="M4 11h1M7 13h.01M9 14h.01M14 18h.01M14 19h1M16 20h.01M19 22h.01M20 23h.01M23 26h.01M24 27h.01M26 29h.01M31 33h.01M32 34h.01M33 35h.01M34 36h.01M36 38h.01M44 45h.01M46 47h.01M47 48h.01M61 61h.01M62 62h.01M63 63h.01M64 64h.01M66 66h.01"/><path stroke="#74c0a4" d="M0 4h.01M1 6h.01M2 8h.01M3 9h.01M4 10h.01M6 11h.01M6 12h1M8 13h.01M10 15h.01M13 17h.01M17 20h.01M21 24h.01M26 28h.01M29 31h.01M30 32h.01M38 39h.01M41 42h.01M42 43h.01M43 44h.01M45 46h.01M56 56h.01M57 57h.01M58 58h.01M59 59h.01M60 60h.01"/><path stroke="#79c3a1" d="M5 10h.01M11 15h.01M12 16h.01M18 21h.01M22 25h.01M25 27h.01M27 29h.01M28 30h.01M39 40h.01M40 41h.01M53 53h.01M54 54h.01"/><path stroke="#7fc59f" d="M1 5h.01M2 7h.01M3 8h.01M4 9h.01M8 12h.01M9 13h.01M10 14h.01M13 16h.01M15 18h.01M16 19h.01M20 22h.01M22 24h.01M23 25h.01M24 26h.01M33 34h.01M34 35h.01M35 36h.01M36 37h.01M37 38h.01M48 48h.01M49 49h.01M50 50h.01M51 51h.01M52 52h.01M55 55h.01"/><path stroke="#85c79d" d="M6 10h.01M7 11h.01M12 15h.01M14 17h.01M17 19h.01M18 20h.01M21 23h.01M30 31h.01M32 33h.01M44 44h.01M46 46h.01M47 47h.01"/><path stroke="#8bca9a" d="M0 3h.01M2 6h.01M3 7h.01M4 8h.01M5 9h.01M9 12h.01M10 13h.01M11 14h.01M16 18h.01M19 21h.01M26 27h.01M27 28h.01M28 29h.01M29 30h.01M31 32h.01M41 41h.01M42 42h.01M45 45h.01"/><path stroke="#91cc97" d="M0 2h.01M1 4h.01M7 10h.01M8 11h.01M15 17h.01M23 24h.01M36 36h.01M39 39h.01M43 43h.01"/><path stroke="#9cce90" d="M2 5h.01M5 8h.01M6 9h.01M14 16h.01M21 22h.01M24 25h.01M25 26h.01M34 34h.01M35 35h.01M37 37h.01M38 38h.01M40 40h.01"/><path stroke="#a8d088" d="M3 6h.01M4 7h.01M11 13h.01M13 15h.01M18 19h.01M20 21h.01M22 23h.01M32 32h.01M33 33h.01"/><path stroke="#bcc981" d="M1 3h.01M9 11h.01M10 12h.01M12 14h.01M16 17h.01M17 18h.01M19 20h.01M27 27h.01M29 29h.01M31 31h.01"/><path stroke="#ccc179" d="M6 8h.01M8 10h.01M25 25h.01M28 28h.01M30 30h.01"/><path stroke="#d8b772" d="M0 1h.01M2 4h.01M4 6h.01M5 7h.01M13 14h.01M14 15h.01M15 16h.01M23 23h.01M24 24h.01M26 26h.01"/><path stroke="#e4aa6c" d="M3 5h.01M7 9h.01M10 11h.01M12 13h.01M19 19h.01M20 20h.01M21 21h.01M22 22h.01"/><path stroke="#ec9b66" d="M1 2h.01M9 10h.01M11 12h.01M17 17h.01M18 18h.01"/><path stroke="#ea8860" d="M6 7h.01M7 8h.01M8 9h.01M16 16h.01"/><path stroke="#e87659" d="M0 0h.01M5 6h.01M14 14h.01M15 15h.01"/><path stroke="#e56953" d="M2 3h.01M3 4h.01M4 5h.01M12 12h.01M13 13h.01"/><path stroke="#e25c4e" d="M1 1h.01M10 10h.01M11 11h.01"/><path stroke="#e05048" d="M6 6h.01M9 9h.01"/><path stroke="#dd4742" d="M5 5h.01M7 7h.01M8 8h.01"/><path stroke="#db3f3c" d="M2 2h.01M3 3h.01M4 4h.01"/></g></g>
<line x1="30.7" y1="703.4" x2="213.6" y2="520.5" stroke="#2a2a2a" stroke-width="1"/>
<rect x="30.7" y="520.5" width="182.9" height="182.9" fill="none" stroke="#666" stroke-width="1.15"/>
<path d="M30.7,703.4v-2.5M30.7,520.5v2.5M30.7,703.4h2.5M213.6,703.4h-2.5M76.42,703.4v-2.5M76.42,520.5v2.5M30.7,657.67h2.5M213.6,657.67h-2.5M122.15,703.4v-2.5M122.15,520.5v2.5M30.7,611.95h2.5M213.6,611.95h-2.5M167.88,703.4v-2.5M167.88,520.5v2.5M30.7,566.23h2.5M213.6,566.23h-2.5M213.6,703.4v-2.5M213.6,520.5v2.5M30.7,520.5h2.5M213.6,520.5h-2.5" stroke="#333" stroke-width="0.8"/>
<g font-family="Liberation Sans" font-size="7" fill="#333"><text x="28.2" y="705.9" text-anchor="end">0</text><text x="30.7" y="711" text-anchor="middle">0</text><text x="28.2" y="660.17" text-anchor="end">50</text><text x="76.42" y="711" text-anchor="middle">50</text><text x="28.2" y="614.45" text-anchor="end">100</text><text x="122.15" y="711" text-anchor="middle">100</text><text x="28.2" y="568.73" text-anchor="end">150</text><text x="167.88" y="711" text-anchor="middle">150</text><text x="28.2" y="523" text-anchor="end">200</text><text x="213.6" y="711" text-anchor="middle">200</text></g>
<g transform="translate(113.45,712.5)" fill="#333"><path d="M9.8,0.9 C6.6,-0.3 1.9,1.4 0.7,4.8 C-0.2,7.6 2.2,9.3 4.8,8.7 C6.1,8.4 6.9,7.8 7.5,7.0" fill="none" stroke="#3a3a3a" stroke-width="1.0" stroke-linecap="round"/><path d="M2.8,6.6 C4.4,4.9 7.4,2.9 9.8,0.9 C11.5,0.4 12.3,1.6 11.7,2.8 C11.1,3.9 9.5,4.4 7.9,4.3 C9.1,5.4 10.4,7.2 11.9,8.3" fill="none" stroke="#3a3a3a" stroke-width="0.75" stroke-linecap="round"/><text x="14.1" y="3.2" font-family="Liberation Serif" font-size="8.2">2</text><text x="12.1" y="11.3" font-family="Liberation Serif" font-style="italic" font-size="9.5">b</text></g>
<g transform="translate(6.5,620.3) rotate(-90)" fill="#333"><path d="M9.8,0.9 C6.6,-0.3 1.9,1.4 0.7,4.8 C-0.2,7.6 2.2,9.3 4.8,8.7 C6.1,8.4 6.9,7.8 7.5,7.0" fill="none" stroke="#3a3a3a" stroke-width="1.0" stroke-linecap="round"/><path d="M2.8,6.6 C4.4,4.9 7.4,2.9 9.8,0.9 C11.5,0.4 12.3,1.6 11.7,2.8 C11.1,3.9 9.5,4.4 7.9,4.3 C9.1,5.4 10.4,7.2 11.9,8.3" fill="none" stroke="#3a3a3a" stroke-width="0.75" stroke-linecap="round"/><text x="14.1" y="3.2" font-family="Liberation Serif" font-size="8.2">2</text><text x="12.1" y="11.3" font-family="Liberation Serif" font-style="italic" font-size="9.5">d</text></g>
<rect x="227" y="520.5" width="9.3" height="182.9" fill="url(#cbg)" stroke="#555" stroke-width="0.8"/>
<path d="M236.3,703.4h-2M236.3,657.45h-2M236.3,611.49h-2M236.3,565.54h-2" stroke="#333" stroke-width="0.8"/>
<g font-family="Liberation Sans" font-size="7" fill="#333"><text x="238.8" y="705.5">10<tspan font-size="5.2" dy="-3.2">0</tspan></text><text x="238.8" y="659.55">10<tspan font-size="5.2" dy="-3.2">1</tspan></text><text x="238.8" y="613.59">10<tspan font-size="5.2" dy="-3.2">2</tspan></text><text x="238.8" y="567.64">10<tspan font-size="5.2" dy="-3.2">3</tspan></text></g>
<text transform="translate(149.2,695.7) scale(1.04,1)" font-family="Liberation Serif" font-size="17.5" fill="#111" class="nc">N<tspan font-size="12.42" dy="2.6">c</tspan><tspan dy="-2.6">=4M</tspan></text>
<g stroke="#b4b4b4" stroke-width="0.8" stroke-dasharray="1,1.1"><line x1="347.45" y1="521.8" x2="347.45" y2="704.8"/><line x1="301.7" y1="659.05" x2="484.7" y2="659.05"/><line x1="393.2" y1="521.8" x2="393.2" y2="704.8"/><line x1="301.7" y1="613.3" x2="484.7" y2="613.3"/><line x1="438.95" y1="521.8" x2="438.95" y2="704.8"/><line x1="301.7" y1="567.55" x2="484.7" y2="567.55"/></g>
<clipPath id="cp5"><polygon points="301.70,704.80 484.70,521.80 301.70,521.80"/></clipPath><g clip-path="url(#cp5)"><g transform="translate(302.5,704.5) scale(1,-1)" fill="none" stroke-width="1.15" stroke-linecap="square"><path stroke="#5a4a9c" d="M0 15h1M1 18h.01M2 20h.01M2 22h.01M2 23h1M3 24h.01M0 26h.01M2 26h.01M3 31h.01M7 32h.01M3 33h.01M5 33h.01M5 34h.01M10 36h.01M4 37h.01M7 37h.01M9 37h.01M14 38h1M17 38h.01M19 39h.01M4 40h.01M22 40h1M5 41h.01M11 42h.01M13 42h.01M4 43h.01M9 43h.01M11 43h.01M16 43h.01M20 43h.01M22 43h1M7 44h.01M10 44h2M15 44h2M20 44h.01M10 45h1M13 45h1M18 45h.01M22 45h.01M24 45h.01M6 46h.01M21 46h.01M12 47h.01M14 47h.01M18 47h.01M25 47h.01M30 47h.01M7 48h.01M10 48h.01M12 48h1M21 48h.01M24 48h1M27 48h.01M31 48h.01M36 48h.01M9 49h.01M13 49h.01M22 49h.01M25 49h.01M29 49h.01M15 50h.01M17 50h.01M19 50h.01M25 50h.01M27 50h.01M31 50h.01M33 50h1M10 51h1M13 51h1M16 51h.01M20 51h.01M24 51h.01M30 51h3M36 51h.01M12 52h1M16 52h4M24 52h.01M26 52h1M29 52h.01M36 52h.01M8 53h.01M15 53h.01M17 53h1M24 53h1M28 53h.01M32 53h.01M34 53h.01M36 53h.01M17 54h.01M22 54h1M26 54h2M31 54h4M42 54h1M10 55h2M18 55h1M21 55h.01M24 55h1M30 55h.01M35 55h.01M45 55h.01M8 56h1M13 56h.01M18 56h1M23 56h.01M26 56h.01M28 56h4M34 56h1M9 57h1M18 57h.01M22 57h.01M24 57h.01M26 57h.01M28 57h1M33 57h.01M35 57h.01M37 57h.01M39 57h.01M41 57h.01M43 57h.01M45 57h.01M11 58h.01M14 58h1M21 58h1M27 58h.01M29 58h.01M33 58h1M43 58h.01M10 59h.01M12 59h.01M22 59h.01M26 59h.01M28 59h1M31 59h.01M34 59h.01M42 59h.01M47 59h1M50 59h.01M11 60h.01M13 60h.01M15 60h1M21 60h.01M27 60h2M31 60h2M35 60h2M42 60h.01M50 60h.01M16 61h.01M18 61h.01M20 61h.01M22 61h2M27 61h.01M29 61h2M34 61h.01M48 61h2M10 62h.01M17 62h.01M22 62h.01M27 62h.01M41 62h.01M44 62h.01M46 62h1M49 62h.01M51 62h.01M11 63h.01M19 63h1M22 63h.01M25 63h2M29 63h1M33 63h.01M35 63h1M38 63h.01M40 63h6M49 63h.01M10 64h.01M16 64h.01M23 64h.01M25 64h.01M28 64h.01M32 64h.01M35 64h.01M37 64h.01M39 64h2M44 64h.01M50 64h1M11 65h.01M14 65h3M20 65h.01M23 65h.01M26 65h.01M31 65h.01M33 65h3M42 65h.01M47 65h.01M54 65h.01M56 65h.01M12 66h1M16 66h.01M27 66h.01M29 66h.01M33 66h.01M35 66h.01M37 66h.01M39 66h1M42 66h.01M44 66h1M51 66h.01M53 66h.01M11 67h.01M13 67h1M22 67h.01M25 67h1M28 67h.01M31 67h.01M37 67h.01M41 67h1M45 67h2M51 67h1M54 67h1M58 67h1M12 68h.01M17 68h1M20 68h1M23 68h.01M25 68h.01M29 68h.01M31 68h1M37 68h.01M40 68h.01M45 68h1M48 68h1M52 68h.01M54 68h.01M12 69h.01M16 69h.01M24 69h.01M29 69h1M38 69h.01M43 69h1M47 69h.01M52 69h1M59 69h.01M11 70h.01M13 70h1M19 70h.01M21 70h.01M29 70h.01M31 70h1M36 70h.01M40 70h.01M42 70h.01M45 70h.01M47 70h.01M50 70h.01M54 70h1M59 70h.01M63 70h.01M12 71h.01M14 71h.01M21 71h.01M23 71h1M27 71h1M30 71h2M34 71h.01M38 71h.01M42 71h.01M44 71h.01M50 71h1M55 71h.01M57 71h2M62 71h1M13 72h.01M16 72h1M20 72h.01M23 72h.01M35 72h.01M39 72h.01M45 72h.01M50 72h.01M53 72h.01M57 72h.01M60 72h.01M13 73h2M17 73h.01M19 73h1M26 73h.01M30 73h.01M36 73h1M40 73h.01M44 73h.01M46 73h2M50 73h.01M55 73h.01M61 73h.01M15 74h2M19 74h2M23 74h.01M25 74h.01M30 74h.01M33 74h3M42 74h.01M44 74h1M51 74h.01M53 74h1M62 74h.01M64 74h.01M66 74h1M17 75h.01M19 75h.01M25 75h.01M30 75h1M36 75h2M41 75h1M45 75h.01M56 75h.01M60 75h3M16 76h.01M18 76h.01M23 76h2M28 76h2M32 76h.01M34 76h.01M36 76h.01M41 76h.01M47 76h2M52 76h.01M57 76h.01M61 76h.01M63 76h1M69 76h.01M13 77h.01M15 77h.01M17 77h.01M20 77h.01M24 77h1M31 77h.01M33 77h.01M45 77h.01M49 77h1M54 77h.01M61 77h.01M66 77h1M69 77h.01M17 78h.01M19 78h.01M23 78h2M27 78h.01M30 78h.01M36 78h1M46 78h.01M49 78h.01M54 78h.01M61 78h1M64 78h2M16 79h.01M19 79h.01M21 79h.01M23 79h.01M31 79h.01M34 79h1M41 79h1M44 79h.01M50 79h.01M53 79h1M57 79h.01M59 79h.01M62 79h.01M64 79h.01M66 79h1M71 79h.01M73 79h.01M12 80h.01M14 80h.01M16 80h.01M23 80h.01M27 80h.01M31 80h1M43 80h.01M46 80h.01M52 80h.01M57 80h.01M59 80h.01M63 80h1M70 80h.01M72 80h.01M74 80h.01M14 81h.01M16 81h.01M18 81h.01M20 81h.01M23 81h.01M27 81h.01M29 81h.01M35 81h1M38 81h.01M41 81h.01M47 81h.01M56 81h.01M63 81h.01M65 81h1M69 81h1M73 81h.01M75 81h.01M13 82h.01M15 82h.01M19 82h.01M21 82h.01M23 82h.01M30 82h1M37 82h.01M45 82h.01M52 82h.01M54 82h.01M56 82h.01M62 82h3M69 82h.01M71 82h.01M74 82h.01M13 83h.01M16 83h1M29 83h.01M31 83h.01M34 83h1M37 83h.01M41 83h.01M46 83h.01M48 83h.01M51 83h.01M58 83h.01M60 83h2M67 83h.01M72 83h.01M78 83h.01M14 84h1M19 84h.01M21 84h.01M24 84h.01M29 84h.01M31 84h3M37 84h.01M46 84h.01M62 84h1M66 84h.01M68 84h1M71 84h.01M73 84h4M80 84h.01M14 85h.01M17 85h.01M20 85h.01M22 85h.01M24 85h2M32 85h.01M35 85h2M45 85h.01M49 85h2M59 85h.01M63 85h.01M67 85h2M73 85h1M78 85h.01M80 85h1M13 86h.01M15 86h.01M17 86h2M21 86h1M25 86h.01M28 86h.01M30 86h.01M33 86h.01M36 86h1M42 86h.01M50 86h.01M54 86h.01M60 86h.01M69 86h1M75 86h.01M78 86h2M15 87h.01M19 87h2M30 87h.01M34 87h2M39 87h.01M41 87h.01M55 87h1M58 87h.01M61 87h1M76 87h.01M78 87h1M81 87h.01M14 88h.01M17 88h.01M19 88h1M22 88h.01M25 88h3M33 88h1M37 88h1M40 88h.01M51 88h.01M55 88h.01M57 88h.01M59 88h.01M62 88h.01M67 88h.01M69 88h.01M76 88h.01M80 88h.01M18 89h.01M25 89h1M36 89h.01M45 89h.01M47 89h.01M54 89h.01M62 89h.01M69 89h1M72 89h.01M74 89h.01M77 89h1M80 89h.01M15 90h.01M22 90h1M29 90h.01M33 90h1M37 90h.01M39 90h.01M41 90h.01M45 90h.01M47 90h.01M54 90h1M59 90h.01M61 90h.01M69 90h.01M77 90h.01M81 90h.01M83 90h.01M14 91h.01M17 91h.01M20 91h.01M22 91h1M25 91h.01M27 91h.01M29 91h.01M31 91h.01M38 91h.01M41 91h4M61 91h1M70 91h1M73 91h.01M81 91h.01M83 91h1M15 92h1M18 92h1M21 92h.01M24 92h.01M26 92h.01M29 92h.01M31 92h.01M36 92h.01M38 92h.01M47 92h.01M57 92h.01M61 92h.01M72 92h3M79 92h4M86 92h.01M88 92h.01M16 93h1M22 93h.01M24 93h.01M53 93h.01M61 93h.01M71 93h.01M77 93h.01M79 93h.01M83 93h1M19 94h.01M26 94h.01M29 94h.01M33 94h.01M41 94h.01M43 94h.01M45 94h.01M49 94h.01M57 94h.01M61 94h.01M70 94h.01M73 94h.01M79 94h1M83 94h.01M88 94h1M20 95h.01M27 95h1M32 95h1M36 95h.01M44 95h.01M48 95h.01M53 95h.01M67 95h.01M77 95h1M84 95h.01M86 95h1M90 95h1M19 96h2M24 96h.01M26 96h.01M35 96h.01M38 96h.01M54 96h1M58 96h1M65 96h1M68 96h.01M75 96h1M80 96h.01M84 96h1M87 96h.01M89 96h.01M22 97h.01M29 97h.01M36 97h1M40 97h.01M47 97h.01M70 97h.01M77 97h.01M80 97h.01M85 97h1M88 97h5M21 98h.01M24 98h2M34 98h1M37 98h1M40 98h.01M42 98h1M51 98h1M58 98h.01M61 98h.01M66 98h.01M70 98h.01M72 98h.01M74 98h.01M78 98h.01M80 98h.01M82 98h1M86 98h3M91 98h3M19 99h.01M23 99h.01M26 99h.01M33 99h1M40 99h.01M43 99h.01M47 99h.01M49 99h.01M59 99h.01M61 99h1M73 99h.01M75 99h.01M80 99h1M83 99h.01M86 99h1M91 99h.01M93 99h.01M95 99h.01M97 99h.01M18 100h.01M23 100h.01M28 100h.01M66 100h.01M78 100h1M84 100h1M87 100h1M94 100h1M2 101h.01M22 101h.01M25 101h.01M33 101h.01M39 101h1M47 101h.01M77 101h.01M82 101h.01M87 101h.01M93 101h1M97 101h.01M99 101h.01M19 102h.01M24 102h.01M26 102h1M36 102h.01M40 102h2M70 102h1M76 102h1M87 102h1M92 102h.01M96 102h2M22 103h1M27 103h1M32 103h.01M51 103h.01M61 103h.01M69 103h.01M71 103h.01M77 103h.01M82 103h1M87 103h.01M93 103h.01M95 103h.01M97 103h.01M99 103h.01M101 103h.01M24 104h.01M38 104h.01M43 104h.01M45 104h.01M48 104h.01M51 104h1M67 104h.01M69 104h.01M79 104h1M89 104h.01M94 104h1M98 104h.01M26 105h.01M35 105h1M38 105h.01M41 105h.01M50 105h.01M57 105h.01M70 105h.01M84 105h.01M87 105h.01M91 105h1M94 105h.01M97 105h.01M99 105h.01M103 105h.01M19 106h.01M25 106h1M29 106h.01M32 106h.01M35 106h.01M45 106h.01M52 106h1M59 106h.01M61 106h.01M64 106h.01M75 106h.01M94 106h.01M98 106h.01M100 106h.01M24 107h.01M27 107h.01M31 107h.01M42 107h.01M53 107h.01M74 107h.01M77 107h.01M85 107h1M88 107h.01M98 107h1M101 107h.01M103 107h1M22 108h.01M38 108h.01M45 108h.01M56 108h.01M73 108h.01M86 108h.01M91 108h.01M94 108h.01M97 108h4M103 108h3M22 109h.01M42 109h.01M56 109h1M69 109h.01M73 109h.01M86 109h.01M92 109h.01M98 109h.01M100 109h.01M106 109h.01M28 110h.01M38 110h1M49 110h.01M67 110h.01M77 110h.01M89 110h1M98 110h1M102 110h.01M22 111h.01M25 111h.01M27 111h.01M30 111h.01M36 111h.01M40 111h.01M43 111h.01M58 111h.01M68 111h.01M73 111h.01M92 111h.01M98 111h.01M101 111h.01M106 111h.01M108 111h1M26 112h1M29 112h.01M35 112h.01M38 112h.01M45 112h.01M68 112h.01M76 112h.01M84 112h.01M95 112h.01M97 112h.01M99 112h.01M106 112h.01M109 112h.01M23 113h.01M26 113h1M29 113h.01M33 113h.01M49 113h.01M68 113h.01M75 113h.01M78 113h.01M86 113h1M91 113h.01M94 113h.01M99 113h.01M106 113h1M111 113h.01M34 114h.01M44 114h.01M48 114h.01M51 114h.01M58 114h.01M78 114h1M89 114h.01M93 114h.01M97 114h.01M106 114h.01M33 115h.01M42 115h.01M57 115h.01M70 115h.01M92 115h.01M95 115h.01M97 115h.01M99 115h.01M112 115h1M25 116h.01M29 116h.01M32 116h.01M61 116h.01M75 116h.01M86 116h.01M92 116h.01M96 116h.01M100 116h.01M106 116h2M111 116h.01M27 117h.01M37 117h.01M63 117h.01M66 117h.01M68 117h.01M79 117h.01M85 117h.01M91 117h1M107 117h1M113 117h1M27 118h.01M30 118h2M47 118h.01M60 118h.01M107 118h.01M111 118h.01M114 118h.01M117 118h.01M45 119h.01M64 119h.01M94 119h.01M99 119h.01M110 119h.01M114 119h1M70 120h.01M96 120h.01M104 120h.01M114 120h.01M117 120h.01M48 121h.01M50 121h.01M112 121h.01M116 121h.01M44 122h.01M63 122h.01M67 122h.01M98 122h.01M100 122h.01M105 122h.01M115 122h.01M118 122h.01M121 122h.01M45 123h.01M79 123h.01M101 123h.01M111 123h1M120 123h1M69 124h.01M113 124h.01M120 124h.01M122 124h.01M36 125h.01M51 125h.01M113 125h.01M122 125h.01M124 125h.01M105 126h.01M110 126h.01M114 126h1M121 126h1M94 127h.01M102 127h.01M107 127h.01M124 127h.01M60 128h.01M102 128h.01M113 128h.01M115 128h.01M119 128h.01M121 128h2M127 128h.01M34 129h.01M39 129h.01M122 129h1M128 129h.01M65 130h.01M118 130h1M126 130h.01M129 130h.01M40 131h.01M61 131h.01M111 131h1M123 131h1M128 131h.01M38 132h.01M109 132h.01M130 132h1M102 133h.01M107 134h.01M129 134h.01M133 134h1M50 135h.01M115 135h.01M131 135h.01M110 136h.01M119 136h.01M130 136h.01M133 137h.01M136 137h.01M137 138h.01M135 139h.01M138 140h2M58 141h.01M140 141h.01M84 143h.01M115 143h.01M138 143h.01M136 145h.01M141 146h.01M125 147h.01M145 147h1M146 148h1M121 149h.01M147 149h.01M79 150h.01M150 150h.01M146 151h.01M152 153h.01M138 154h.01M151 154h1M75 155h.01M141 155h.01M145 155h.01M146 156h.01M155 156h.01M144 157h.01M157 157h.01M146 158h.01M154 158h.01M139 159h.01M156 159h.01M158 159h.01M158 160h.01M159 162h.01M162 162h.01M163 163h.01M165 165h.01M166 166h.01M166 167h.01M92 168h.01M170 170h.01M170 174h.01M174 174h.01M172 177h.01M176 177h.01M178 179h.01M179 180h.01M181 182h.01"/><path stroke="#4451a8" d="M0 12h.01M1 16h.01M1 17h.01M2 21h.01M3 25h.01M3 26h1M4 28h.01M4 32h.01M6 32h.01M8 33h.01M5 35h.01M8 35h.01M5 36h1M12 36h.01M14 36h.01M8 37h.01M14 37h.01M16 37h.01M6 38h3M11 38h.01M19 38h.01M6 39h.01M9 39h.01M8 40h.01M10 40h2M15 40h.01M19 40h.01M21 40h.01M7 41h1M13 41h.01M16 41h.01M21 41h.01M14 42h1M18 42h.01M22 42h2M26 42h1M13 43h.01M18 43h.01M27 43h.01M23 44h1M9 45h.01M17 45h.01M27 45h.01M31 45h.01M10 46h.01M12 46h.01M14 46h1M17 46h.01M20 46h.01M22 46h.01M25 46h1M28 46h.01M30 46h1M33 46h.01M9 47h.01M13 47h.01M15 47h1M22 47h.01M27 47h.01M29 47h.01M31 47h.01M33 47h1M9 48h.01M11 48h.01M18 48h.01M20 48h.01M22 48h.01M26 48h.01M30 48h.01M35 48h.01M14 49h1M17 49h.01M21 49h.01M28 49h.01M34 49h2M8 50h.01M10 50h1M13 50h.01M16 50h.01M18 50h.01M21 50h.01M23 50h.01M26 50h.01M29 50h1M37 50h.01M12 51h.01M15 51h.01M19 51h.01M23 51h.01M26 51h.01M37 51h.01M10 52h.01M25 52h.01M28 52h.01M35 52h.01M38 52h1M41 52h.01M9 53h2M19 53h3M31 53h.01M33 53h.01M38 53h1M11 54h1M15 54h1M19 54h1M38 54h.01M41 54h.01M16 55h1M22 55h1M28 55h1M34 55h.01M38 55h.01M41 55h2M15 56h.01M21 56h.01M25 56h.01M36 56h.01M39 56h.01M41 56h2M45 56h.01M12 57h1M16 57h1M27 57h.01M17 58h.01M19 58h1M25 58h.01M28 58h.01M30 58h1M38 58h3M49 58h.01M11 59h.01M13 59h.01M15 59h1M20 59h1M23 59h1M30 59h.01M33 59h.01M35 59h1M38 59h.01M44 59h.01M10 60h.01M12 60h.01M19 60h1M25 60h.01M30 60h.01M39 60h1M44 60h.01M46 60h.01M48 60h.01M10 61h1M19 61h.01M25 61h1M28 61h.01M36 61h.01M39 61h.01M45 61h.01M12 62h.01M15 62h1M20 62h.01M28 62h.01M31 62h.01M53 62h1M16 63h2M21 63h.01M47 63h.01M50 63h1M11 64h.01M22 64h.01M52 64h.01M13 65h.01M18 65h1M22 65h.01M25 65h.01M50 65h.01M55 65h.01M22 66h.01M31 66h.01M57 66h.01M12 67h.01M23 67h.01M27 67h.01M34 67h.01M39 67h.01M48 67h2M53 67h.01M56 67h1M14 68h.01M24 68h.01M26 68h.01M36 68h.01M38 68h.01M59 68h.01M15 69h.01M18 69h.01M20 69h.01M23 69h.01M31 69h.01M40 69h.01M42 69h.01M49 69h.01M54 69h.01M58 69h.01M60 69h.01M24 70h1M28 70h.01M37 70h.01M48 70h1M56 70h.01M17 71h2M37 71h.01M47 71h.01M56 71h.01M65 71h.01M15 72h.01M21 72h.01M24 72h.01M36 72h1M56 72h.01M61 72h.01M63 72h1M18 73h.01M22 73h.01M27 73h.01M43 73h.01M49 73h.01M54 73h.01M66 73h.01M27 74h1M41 74h.01M43 74h.01M57 74h.01M59 74h1M65 74h.01M13 75h.01M21 75h.01M23 75h.01M28 75h.01M32 75h.01M44 75h.01M65 75h1M68 75h.01M14 76h.01M19 76h.01M21 76h.01M27 76h.01M53 76h1M60 76h.01M62 76h.01M66 76h2M21 77h.01M27 77h1M30 77h.01M37 77h.01M57 77h.01M59 77h1M65 77h.01M70 77h2M14 78h.01M18 78h.01M26 78h.01M28 78h.01M38 78h.01M51 78h.01M68 78h1M71 78h1M74 78h.01M20 79h.01M46 79h.01M58 79h.01M68 79h.01M70 79h.01M74 79h.01M15 80h.01M20 80h.01M28 80h.01M61 80h1M66 80h.01M76 80h.01M15 81h.01M17 81h.01M55 81h.01M68 81h.01M74 81h.01M44 82h.01M68 82h.01M70 82h.01M72 82h1M75 82h.01M77 82h.01M22 83h.01M26 83h.01M30 83h.01M68 83h.01M75 83h.01M13 84h.01M25 84h.01M40 84h.01M51 84h1M54 84h.01M64 84h.01M18 85h.01M21 85h.01M27 85h.01M29 85h.01M38 85h.01M57 85h1M64 85h.01M70 85h.01M75 85h.01M82 85h.01M23 86h.01M72 86h.01M76 86h.01M81 86h.01M22 87h.01M24 87h.01M57 87h.01M68 87h.01M77 87h.01M83 87h.01M42 88h.01M49 88h.01M78 88h1M81 88h1M84 88h.01M75 89h.01M84 89h1M20 90h.01M53 90h.01M82 90h.01M85 90h2M16 91h.01M68 91h.01M79 91h.01M82 91h.01M85 91h.01M33 92h.01M77 92h.01M25 93h.01M27 93h.01M85 93h.01M21 94h.01M37 94h.01M76 94h.01M85 94h.01M87 94h.01M91 94h.01M19 95h.01M85 95h.01M89 95h.01M47 96h.01M90 96h.01M93 96h.01M23 97h.01M38 97h.01M65 97h.01M68 97h.01M22 98h.01M30 99h.01M88 99h2M92 99h.01M21 100h1M29 100h.01M49 100h.01M92 100h.01M96 100h.01M21 101h.01M23 101h.01M51 101h.01M91 101h.01M68 102h.01M99 102h1M91 103h1M96 103h.01M100 103h.01M26 104h.01M37 104h.01M92 104h.01M100 104h1M25 105h.01M95 106h.01M93 107h.01M97 107h.01M105 107h.01M95 108h.01M91 109h.01M105 109h.01M107 109h.01M108 110h.01M104 111h.01M110 113h.01M88 115h.01M111 115h.01M114 115h.01M105 116h.01M115 117h.01M116 119h.01M120 122h.01M123 124h.01M101 125h.01M116 126h.01M127 129h.01M116 131h.01M130 131h.01M132 132h.01M133 133h.01M137 139h.01M139 139h.01M142 142h.01M142 143h.01M142 144h.01M144 145h.01M145 146h.01M148 148h.01M149 149h.01M151 151h.01M150 152h2M156 156h.01M156 157h.01M161 161h.01M163 164h.01"/><path stroke="#4058ac" d="M0 13h.01M3 22h.01M5 29h.01M6 30h.01M5 31h.01M7 35h.01M9 35h.01M12 37h.01M13 38h.01M20 38h.01M7 39h.01M12 39h1M15 39h2M7 40h.01M16 40h.01M20 40h.01M9 41h.01M11 41h.01M14 41h1M18 41h.01M22 41h.01M24 41h1M7 42h2M16 42h1M20 42h.01M25 42h.01M10 43h.01M15 43h.01M17 43h.01M19 43h.01M24 43h1M28 43h.01M8 44h.01M18 44h.01M25 44h.01M12 45h.01M15 45h.01M19 45h1M29 45h1M9 46h.01M16 46h.01M19 46h.01M23 46h1M27 46h.01M20 47h.01M28 47h.01M32 47h.01M15 48h.01M17 48h.01M19 48h.01M23 48h.01M28 48h1M34 48h.01M10 49h1M18 49h.01M23 49h1M9 50h.01M14 50h.01M20 50h.01M32 50h.01M38 50h.01M18 51h.01M21 51h.01M27 51h.01M34 51h.01M39 51h.01M14 52h.01M31 52h1M40 52h.01M13 53h.01M16 53h.01M26 53h.01M41 53h.01M13 54h1M21 54h.01M24 54h.01M30 54h.01M14 55h.01M26 55h.01M32 55h.01M37 55h.01M10 56h.01M12 56h.01M17 56h.01M37 56h1M46 56h.01M21 57h.01M23 57h.01M38 57h.01M40 57h.01M42 57h.01M46 57h.01M16 58h.01M23 58h1M26 58h.01M32 58h.01M37 58h.01M44 58h1M14 59h.01M17 59h.01M19 59h.01M25 59h.01M43 59h.01M14 60h.01M23 60h.01M17 61h.01M40 61h.01M52 61h.01M18 62h1M23 62h.01M29 62h.01M34 62h.01M38 62h.01M48 62h.01M50 62h.01M52 62h.01M29 64h.01M42 64h.01M45 64h.01M56 64h.01M49 65h.01M51 65h.01M20 66h.01M48 66h1M55 66h1M16 67h.01M32 67h.01M61 68h.01M13 69h1M22 69h.01M57 69h.01M16 70h.01M58 70h.01M61 70h.01M20 71h.01M60 71h1M18 72h.01M46 72h.01M55 72h.01M58 72h.01M58 73h1M63 73h.01M40 74h.01M48 74h.01M68 74h.01M22 76h.01M65 76h.01M64 77h.01M68 77h.01M31 78h.01M72 79h.01M75 80h.01M22 81h.01M78 82h.01M70 83h.01M79 83h.01M28 84h.01M79 84h.01M54 85h.01M71 85h.01M77 86h.01M82 86h.01M73 87h.01M84 87h.01M23 89h.01M34 89h.01M42 89h.01M27 90h.01M84 90h.01M19 91h.01M78 91h.01M86 91h.01M85 92h.01M48 93h.01M76 93h.01M89 93h.01M86 94h.01M28 96h.01M34 96h.01M92 96h.01M96 98h.01M96 99h.01M93 100h.01M97 100h.01M98 101h.01M90 103h.01M92 106h.01M110 111h.01M110 112h1M113 114h.01M110 115h.01M115 116h.01M116 118h.01M113 119h.01M118 119h.01M119 120h.01M122 123h.01M130 130h.01M131 131h.01M137 137h.01M141 141h.01M143 143h.01M143 144h1M155 155h.01M159 159h.01"/><path stroke="#3c61b0" d="M0 11h.01M2 18h.01M4 24h.01M4 25h.01M5 26h.01M6 29h.01M8 31h.01M14 32h.01M7 33h.01M10 33h1M13 33h.01M16 33h.01M7 34h1M11 34h1M15 34h.01M6 35h.01M10 35h.01M12 35h.01M14 35h.01M7 36h.01M13 36h.01M16 36h.01M19 36h.01M10 37h.01M13 37h.01M15 37h.01M19 37h.01M21 37h1M12 38h.01M18 38h.01M21 38h1M8 39h.01M10 39h1M14 39h.01M18 39h.01M22 39h1M13 40h.01M24 40h.01M10 41h.01M12 41h.01M19 41h.01M10 42h.01M12 42h.01M19 42h.01M21 42h.01M12 43h.01M27 44h1M30 44h.01M16 45h.01M21 45h.01M32 45h.01M8 46h.01M29 46h.01M34 46h.01M17 47h.01M23 47h.01M35 47h.01M33 48h.01M37 48h.01M20 49h.01M26 49h.01M32 49h.01M28 50h.01M9 51h.01M17 51h.01M25 51h.01M11 52h.01M34 52h.01M42 53h1M9 54h.01M37 54h.01M40 54h.01M45 54h.01M36 55h.01M40 55h.01M16 56h.01M40 56h.01M47 56h.01M36 57h.01M47 57h2M36 58h.01M42 58h.01M47 58h.01M45 59h.01M49 59h.01M53 60h.01M13 61h.01M46 61h.01M13 62h.01M35 62h.01M53 63h1M56 63h.01M52 65h1M60 66h.01M56 68h.01M62 68h.01M46 70h.01M60 70h.01M62 70h.01M65 70h.01M64 71h.01M65 72h.01M67 72h.01M62 73h.01M67 73h.01M69 74h1M70 76h2M14 77h.01M73 77h.01M70 78h.01M71 80h.01M60 81h.01M77 83h.01M80 83h.01M78 84h.01M72 85h.01M24 90h.01M89 92h.01M88 93h.01M90 93h1M90 94h.01M92 94h.01M92 95h.01M94 96h.01M24 97h.01M95 97h.01M90 98h.01M102 104h.01M104 106h.01M108 109h.01M114 116h.01M120 121h.01M129 129h.01M135 135h.01"/><path stroke="#386cb8" d="M2 17h.01M2 19h.01M3 20h.01M3 21h.01M4 23h1M5 24h.01M6 27h.01M6 28h2M7 29h2M7 30h1M10 30h1M13 30h.01M7 31h.01M9 31h3M5 32h.01M8 32h2M12 32h.01M15 32h1M9 33h.01M12 33h.01M15 33h.01M6 34h.01M9 34h1M13 34h1M17 34h.01M19 34h.01M11 35h.01M13 35h.01M15 35h4M8 36h1M11 36h.01M17 36h1M20 36h1M11 37h.01M18 37h.01M20 37h.01M23 37h.01M23 38h1M24 39h1M9 40h.01M25 40h1M17 41h.01M23 41h.01M26 41h1M28 42h2M29 43h1M9 44h.01M14 44h.01M26 44h.01M31 44h2M33 45h1M35 46h.01M26 47h.01M32 48h.01M38 49h.01M39 50h2M41 51h.01M43 51h.01M23 52h.01M42 52h.01M44 52h.01M12 53h.01M44 53h.01M44 54h.01M46 55h1M44 56h.01M48 56h.01M50 57h.01M48 58h.01M50 58h1M51 59h1M47 60h.01M49 60h.01M51 60h1M44 61h.01M53 61h2M55 62h.01M57 63h.01M53 64h.01M58 64h.01M60 65h.01M54 66h.01M58 66h.01M61 66h.01M61 67h1M57 68h1M60 68h.01M63 68h.01M56 69h.01M62 69h.01M64 69h1M15 70h.01M64 70h.01M66 70h.01M66 71h1M68 72h.01M68 73h1M69 75h.01M71 75h.01M75 78h.01M76 79h.01M73 80h.01M77 80h.01M72 81h.01M77 81h1M79 82h.01M76 83h.01M81 84h.01M83 86h.01M82 87h.01M85 88h1M82 89h.01M87 91h.01M89 91h.01M90 92h.01M93 95h.01M98 100h1M103 104h.01M104 105h.01M106 107h.01M107 108h.01M109 110h.01M112 113h.01M116 117h.01M118 118h.01M119 119h.01M122 122h.01M124 124h.01M125 125h.01M126 126h.01M127 127h.01M128 128h.01M136 136h.01M138 138h.01M138 139h.01M154 155h.01"/><path stroke="#3478c0" d="M0 10h.01M1 13h.01M1 14h.01M2 16h.01M3 19h.01M5 21h.01M4 22h.01M6 24h1M5 25h2M6 26h3M4 27h.01M7 27h3M5 28h.01M9 28h.01M11 28h.01M10 29h1M13 29h.01M15 29h.01M5 30h.01M9 30h.01M12 30h.01M17 30h.01M13 31h3M11 32h.01M13 32h.01M17 32h.01M14 33h.01M17 33h2M16 34h.01M18 34h.01M20 34h2M20 35h2M15 36h.01M22 36h.01M24 37h.01M25 38h1M21 39h.01M26 39h.01M28 39h.01M14 40h.01M27 40h.01M28 41h2M31 42h.01M21 43h.01M31 43h2M19 44h.01M29 44h.01M34 44h.01M26 45h.01M28 45h.01M35 45h.01M11 46h.01M13 46h.01M32 46h.01M36 46h1M24 47h.01M36 47h2M38 48h1M39 49h3M22 50h.01M42 50h.01M40 51h.01M42 51h.01M43 52h.01M46 52h.01M40 53h.01M45 53h.01M46 54h2M44 55h.01M48 55h.01M49 56h1M51 57h1M13 58h.01M53 59h1M54 60h1M51 61h.01M56 61h.01M56 62h1M52 63h.01M58 63h.01M36 64h.01M54 64h1M57 64h.01M59 64h1M57 65h.01M59 65h.01M59 66h.01M62 66h.01M63 67h.01M64 68h.01M61 69h.01M63 69h.01M69 72h.01M65 73h.01M70 73h.01M71 74h.01M67 75h.01M70 75h.01M72 75h.01M73 76h.01M74 77h.01M75 79h.01M74 83h.01M83 85h.01M84 86h.01M85 87h.01M87 89h.01M88 90h.01M88 91h.01M95 98h.01M98 99h.01M101 102h.01M102 103h.01M105 106h.01M120 120h.01M121 121h.01M123 123h.01M146 146h.01"/><path stroke="#3087c7" d="M0 9h.01M2 15h.01M4 20h.01M4 21h.01M5 22h1M6 23h1M8 24h1M8 25h1M11 25h.01M10 26h2M5 27h.01M11 27h2M10 28h.01M12 28h2M12 29h.01M14 29h.01M16 29h.01M14 30h2M6 31h.01M17 31h1M18 32h3M6 33h.01M20 33h1M23 34h.01M23 35h1M23 36h2M17 37h.01M25 37h.01M10 38h.01M16 38h.01M27 38h2M20 39h.01M27 39h.01M29 39h.01M28 40h2M31 41h1M32 42h2M34 43h.01M35 44h1M36 45h2M38 46h.01M39 47h.01M40 48h1M37 49h.01M43 50h.01M45 52h.01M46 53h1M49 54h.01M49 55h1M51 56h1M52 58h1M57 61h.01M58 62h1M55 63h.01M59 63h.01M58 65h.01M61 65h.01M60 67h.01M64 67h.01M65 68h.01M66 69h.01M67 70h.01M68 71h.01M75 77h.01M76 78h.01M77 79h.01M80 82h.01M82 84h.01M92 93h.01M94 95h.01M96 97h.01M97 98h.01M100 101h.01M113 113h.01M114 114h.01M115 115h.01M116 116h.01M117 117h.01"/><path stroke="#2c96cf" d="M1 12h.01M3 17h.01M3 18h.01M4 19h.01M6 21h1M7 22h1M8 23h1M11 24h.01M10 25h.01M13 26h1M14 27h1M15 28h1M17 29h.01M18 30h1M19 31h1M22 33h1M26 36h1M26 37h2M30 39h.01M31 40h.01M33 40h.01M33 41h1M35 42h.01M35 43h1M37 44h1M39 46h.01M40 47h1M42 48h.01M43 49h.01M44 50h.01M44 51h2M47 52h.01M48 53h1M50 54h.01M53 57h.01M54 58h1M55 59h.01M56 60h.01M58 61h.01M61 64h.01M62 65h.01M63 66h.01M72 74h.01M73 75h.01M78 80h.01M79 81h.01M81 83h.01M85 86h.01M87 88h.01M88 89h.01M89 90h.01M91 92h.01M93 94h.01M95 96h.01M107 107h.01M108 108h.01M109 109h.01M110 110h.01M111 111h.01M112 112h.01"/><path stroke="#2ba4d0" d="M0 8h.01M1 11h.01M2 14h.01M3 16h.01M4 17h.01M4 18h1M5 19h1M5 20h2M8 21h1M10 23h1M10 24h.01M12 24h.01M12 25h.01M14 25h.01M15 26h.01M17 26h.01M16 27h1M17 28h1M18 29h1M20 30h.01M21 31h1M22 32h.01M24 33h.01M24 34h2M25 35h3M28 36h.01M29 37h.01M30 38h.01M31 39h1M32 40h.01M34 40h.01M35 41h.01M36 42h.01M38 43h.01M39 45h.01M40 46h.01M42 47h1M43 48h.01M44 49h.01M45 50h1M47 51h.01M48 52h.01M51 55h.01M53 56h.01M54 57h.01M56 59h.01M57 60h.01M60 63h.01M62 64h.01M66 68h.01M67 69h.01M68 70h.01M69 71h.01M70 72h.01M71 73h.01M74 76h.01M83 84h.01M84 85h.01M90 91h.01M101 101h.01M102 102h.01M103 103h.01M104 104h.01M106 106h.01"/><path stroke="#2eafcd" d="M1 10h.01M3 15h.01M4 16h.01M5 17h1M6 18h.01M7 19h.01M8 20h1M10 21h.01M9 22h3M12 23h1M13 24h.01M13 25h.01M15 25h.01M19 28h.01M20 29h1M21 30h1M23 31h.01M23 32h1M25 33h.01M27 34h.01M29 36h.01M30 37h.01M31 38h1M33 39h.01M35 40h1M36 41h.01M37 42h.01M37 43h.01M39 43h.01M39 44h.01M40 45h1M41 46h1M44 48h.01M45 49h.01M50 53h.01M51 54h.01M52 55h.01M57 59h.01M58 60h.01M59 61h.01M60 62h.01M61 63h.01M63 65h.01M64 66h.01M65 67h.01M76 77h.01M78 79h.01M79 80h.01M80 81h.01M81 82h.01M82 83h.01M86 87h.01M97 97h.01M99 99h.01M105 105h.01"/><path stroke="#3db1c2" d="M0 7h.01M2 12h.01M2 13h.01M3 14h.01M4 15h.01M7 18h.01M8 19h1M10 20h1M11 21h.01M13 22h.01M14 24h3M16 25h1M16 26h.01M18 26h.01M18 27h1M20 28h1M22 29h.01M23 30h.01M24 31h1M25 32h.01M26 33h1M30 36h.01M31 37h1M33 38h.01M34 39h.01M38 42h.01M40 43h.01M40 44h.01M43 46h.01M45 48h.01M46 49h.01M49 52h.01M54 56h.01M55 57h.01M71 72h.01M72 73h.01M73 74h.01M74 75h.01M77 78h.01M91 91h.01M92 92h.01M93 93h.01M94 94h.01M95 95h.01M96 96h.01M98 98h.01M100 100h.01"/><path stroke="#4cb3b7" d="M1 9h.01M4 14h.01M5 15h.01M5 16h.01M7 17h.01M8 18h.01M10 19h.01M12 21h.01M14 22h.01M14 23h1M18 25h.01M19 26h.01M20 27h.01M22 28h.01M24 30h.01M26 32h1M28 34h.01M29 35h1M31 36h.01M33 37h.01M34 38h.01M35 39h.01M37 41h.01M39 42h.01M41 44h.01M42 45h.01M44 47h.01M47 50h.01M48 51h.01M50 52h.01M52 54h.01M53 55h.01M56 58h.01M65 66h.01M70 71h.01M75 76h.01M89 89h.01M90 90h.01"/><path stroke="#57b6b1" d="M0 6h.01M1 8h.01M2 11h.01M3 13h1M6 15h.01M6 16h.01M8 17h.01M11 19h.01M12 20h.01M13 21h.01M15 22h.01M16 23h.01M18 24h.01M20 26h.01M21 27h.01M23 28h.01M23 29h1M25 30h.01M26 31h.01M28 33h1M29 34h1M31 35h.01M32 36h.01M34 37h.01M37 40h.01M38 41h.01M46 48h.01M47 49h.01M48 50h.01M49 51h.01M51 53h.01M64 65h.01M66 67h.01M67 68h.01M68 69h.01M69 70h.01M77 77h.01M80 80h.01M83 83h.01M84 84h.01M85 85h.01M86 86h.01M87 87h.01M88 88h.01"/><path stroke="#60b8ad" d="M2 10h.01M3 12h.01M5 14h.01M7 15h.01M7 16h.01M9 17h.01M9 18h1M12 19h1M13 20h1M14 21h.01M16 22h.01M17 23h.01M19 24h.01M19 25h1M21 26h.01M22 27h1M24 28h.01M26 30h.01M28 32h.01M32 35h.01M33 36h.01M35 38h.01M36 39h.01M43 45h.01M44 46h.01M45 47h.01M56 57h.01M57 58h.01M58 59h.01M59 60h.01M60 61h.01M61 62h.01M62 63h.01M63 64h.01M76 76h.01M78 78h.01M79 79h.01M81 81h.01M82 82h.01"/><path stroke="#69bba9" d="M0 5h.01M2 9h.01M3 11h.01M5 13h.01M6 14h.01M8 16h.01M10 17h.01M11 18h.01M15 21h1M17 22h.01M18 23h.01M22 26h.01M25 29h.01M27 31h.01M30 33h.01M31 34h.01M35 37h.01M37 39h.01M38 40h.01M39 41h.01M40 42h.01M42 44h.01M49 50h.01M53 54h.01M54 55h.01M55 56h.01M70 70h.01M71 71h.01M72 72h.01M74 74h.01M75 75h.01"/><path stroke="#6fbea6" d="M4 11h.01M4 12h1M7 14h.01M8 15h1M9 16h.01M11 17h.01M12 18h.01M14 19h.01M18 22h.01M19 23h.01M20 24h.01M25 28h.01M26 29h.01M27 30h.01M28 31h.01M29 32h.01M34 36h.01M36 38h.01M41 43h.01M50 51h.01M51 52h.01M52 53h.01M64 64h.01M67 67h.01M68 68h.01M69 69h.01M73 73h.01"/><path stroke="#74c0a4" d="M1 7h.01M3 10h.01M6 13h1M8 14h.01M10 16h1M12 17h.01M13 18h.01M15 20h1M17 21h.01M21 24h.01M21 25h.01M23 26h.01M31 33h.01M32 34h.01M33 35h.01M43 44h.01M44 45h.01M45 46h.01M47 48h.01M48 49h.01M61 61h.01M62 62h.01M63 63h.01M65 65h.01M66 66h.01"/><path stroke="#79c3a1" d="M0 4h.01M1 6h.01M2 8h.01M4 10h.01M5 11h.01M6 12h.01M10 15h.01M12 16h.01M14 18h.01M15 19h.01M18 21h.01M19 22h.01M20 23h.01M22 25h.01M24 27h.01M29 31h.01M30 32h.01M38 39h.01M40 41h.01M41 42h.01M42 43h.01M46 47h.01M57 57h.01M58 58h.01M59 59h.01M60 60h.01"/><path stroke="#7fc59f" d="M3 9h.01M5 10h.01M8 13h.01M9 14h.01M11 15h.01M13 17h.01M16 19h.01M17 20h.01M26 28h.01M27 29h.01M28 30h.01M37 38h.01M39 40h.01M51 51h.01M53 53h.01M54 54h.01M55 55h.01M56 56h.01"/><path stroke="#85c79d" d="M1 5h.01M2 7h.01M4 9h.01M6 11h.01M7 12h.01M9 13h.01M10 14h.01M22 24h.01M23 25h.01M24 26h.01M25 27h.01M31 32h.01M34 35h.01M35 36h.01M36 37h.01M47 47h.01M48 48h.01M50 50h.01M52 52h.01"/><path stroke="#8bca9a" d="M0 3h.01M3 8h.01M7 11h.01M8 12h.01M13 16h.01M14 17h.01M15 18h.01M20 22h.01M21 23h.01M29 30h.01M30 31h.01M32 33h.01M33 34h.01M41 41h.01M43 43h.01M44 44h.01M45 45h.01M46 46h.01M49 49h.01"/><path stroke="#91cc97" d="M5 9h.01M6 10h.01M11 14h.01M12 15h.01M17 19h.01M18 20h.01M19 21h.01M25 26h.01M26 27h.01M27 28h.01M28 29h.01M38 38h.01M39 39h.01M40 40h.01M42 42h.01"/><path stroke="#9cce90" d="M1 4h.01M2 6h.01M3 7h.01M4 8h.01M9 12h.01M10 13h.01M14 16h.01M15 17h.01M16 18h.01M24 25h.01M34 34h.01M36 36h.01M37 37h.01"/><path stroke="#a8d088" d="M0 2h.01M6 9h.01M7 10h.01M8 11h.01M12 14h.01M19 20h.01M21 22h.01M23 24h.01M31 31h.01M32 32h.01M33 33h.01M35 35h.01"/><path stroke="#bcc981" d="M3 6h.01M4 7h.01M5 8h.01M13 15h.01M17 18h.01M18 19h.01M20 21h.01M22 23h.01M28 28h.01M29 29h.01M30 30h.01"/><path stroke="#ccc179" d="M1 3h.01M2 5h.01M9 11h.01M10 12h.01M11 13h.01M15 16h.01M16 17h.01M26 26h.01M27 27h.01"/><path stroke="#d8b772" d="M0 1h.01M7 9h.01M8 10h.01M14 15h.01M23 23h.01M24 24h.01M25 25h.01"/><path stroke="#e4aa6c" d="M2 4h.01M3 5h.01M4 6h.01M5 7h.01M6 8h.01M12 13h.01M13 14h.01M20 20h.01M21 21h.01M22 22h.01"/><path stroke="#ec9b66" d="M11 12h.01M17 17h.01M18 18h.01M19 19h.01"/><path stroke="#ea8860" d="M6 7h.01M8 9h.01M9 10h.01M10 11h.01"/><path stroke="#e87659" d="M0 0h.01M1 2h.01M15 15h.01M16 16h.01"/><path stroke="#e56953" d="M5 6h.01M7 8h.01M12 12h.01M14 14h.01"/><path stroke="#e25c4e" d="M2 3h.01M3 4h.01M4 5h.01M11 11h.01M13 13h.01"/><path stroke="#e05048" d="M1 1h.01M9 9h.01M10 10h.01"/><path stroke="#dd4742" d="M5 5h.01M6 6h.01M8 8h.01"/><path stroke="#db3f3c" d="M2 2h.01M3 3h.01M7 7h.01"/><path stroke="#d83636" d="M4 4h.01"/></g></g>
<line x1="301.7" y1="704.8" x2="484.7" y2="521.8" stroke="#2a2a2a" stroke-width="1"/>
<rect x="301.7" y="521.8" width="183" height="183" fill="none" stroke="#666" stroke-width="1.15"/>
<path d="M301.7,704.8v-2.5M301.7,521.8v2.5M301.7,704.8h2.5M484.7,704.8h-2.5M347.45,704.8v-2.5M347.45,521.8v2.5M301.7,659.05h2.5M484.7,659.05h-2.5M393.2,704.8v-2.5M393.2,521.8v2.5M301.7,613.3h2.5M484.7,613.3h-2.5M438.95,704.8v-2.5M438.95,521.8v2.5M301.7,567.55h2.5M484.7,567.55h-2.5M484.7,704.8v-2.5M484.7,521.8v2.5M301.7,521.8h2.5M484.7,521.8h-2.5" stroke="#333" stroke-width="0.8"/>
<g font-family="Liberation Sans" font-size="7" fill="#333"><text x="299.2" y="707.3" text-anchor="end">0</text><text x="301.7" y="712.4" text-anchor="middle">0</text><text x="299.2" y="661.55" text-anchor="end">50</text><text x="347.45" y="712.4" text-anchor="middle">50</text><text x="299.2" y="615.8" text-anchor="end">100</text><text x="393.2" y="712.4" text-anchor="middle">100</text><text x="299.2" y="570.05" text-anchor="end">150</text><text x="438.95" y="712.4" text-anchor="middle">150</text><text x="299.2" y="524.3" text-anchor="end">200</text><text x="484.7" y="712.4" text-anchor="middle">200</text></g>
<g transform="translate(384.5,713.9)" fill="#333"><path d="M9.8,0.9 C6.6,-0.3 1.9,1.4 0.7,4.8 C-0.2,7.6 2.2,9.3 4.8,8.7 C6.1,8.4 6.9,7.8 7.5,7.0" fill="none" stroke="#3a3a3a" stroke-width="1.0" stroke-linecap="round"/><path d="M2.8,6.6 C4.4,4.9 7.4,2.9 9.8,0.9 C11.5,0.4 12.3,1.6 11.7,2.8 C11.1,3.9 9.5,4.4 7.9,4.3 C9.1,5.4 10.4,7.2 11.9,8.3" fill="none" stroke="#3a3a3a" stroke-width="0.75" stroke-linecap="round"/><text x="14.1" y="3.2" font-family="Liberation Serif" font-size="8.2">2</text><text x="12.1" y="11.3" font-family="Liberation Serif" font-style="italic" font-size="9.5">b</text></g>
<g transform="translate(277.5,621.65) rotate(-90)" fill="#333"><path d="M9.8,0.9 C6.6,-0.3 1.9,1.4 0.7,4.8 C-0.2,7.6 2.2,9.3 4.8,8.7 C6.1,8.4 6.9,7.8 7.5,7.0" fill="none" stroke="#3a3a3a" stroke-width="1.0" stroke-linecap="round"/><path d="M2.8,6.6 C4.4,4.9 7.4,2.9 9.8,0.9 C11.5,0.4 12.3,1.6 11.7,2.8 C11.1,3.9 9.5,4.4 7.9,4.3 C9.1,5.4 10.4,7.2 11.9,8.3" fill="none" stroke="#3a3a3a" stroke-width="0.75" stroke-linecap="round"/><text x="14.1" y="3.2" font-family="Liberation Serif" font-size="8.2">2</text><text x="12.1" y="11.3" font-family="Liberation Serif" font-style="italic" font-size="9.5">d</text></g>
<rect x="497.7" y="521.6" width="9.3" height="183" fill="url(#cbg)" stroke="#555" stroke-width="0.8"/>
<path d="M507,704.6h-2M507,663.57h-2M507,622.54h-2M507,581.51h-2M507,540.47h-2" stroke="#333" stroke-width="0.8"/>
<g font-family="Liberation Sans" font-size="7" fill="#333"><text x="509.5" y="706.7">10<tspan font-size="5.2" dy="-3.2">0</tspan></text><text x="509.5" y="665.67">10<tspan font-size="5.2" dy="-3.2">1</tspan></text><text x="509.5" y="624.64">10<tspan font-size="5.2" dy="-3.2">2</tspan></text><text x="509.5" y="583.61">10<tspan font-size="5.2" dy="-3.2">3</tspan></text><text x="509.5" y="542.57">10<tspan font-size="5.2" dy="-3.2">4</tspan></text></g>
<text transform="translate(421,697.4) scale(1.05,1)" font-family="Liberation Serif" font-size="17.3" fill="#111" class="nc">N<tspan font-size="12.28" dy="2.6">c</tspan><tspan dy="-2.6">=5M</tspan></text>
<g stroke="#b4b4b4" stroke-width="0.8" stroke-dasharray="1,1.1"><line x1="60.38" y1="737.4" x2="60.38" y2="920.3"/><line x1="29.9" y1="889.82" x2="212.8" y2="889.82"/><line x1="90.87" y1="737.4" x2="90.87" y2="920.3"/><line x1="29.9" y1="859.33" x2="212.8" y2="859.33"/><line x1="121.35" y1="737.4" x2="121.35" y2="920.3"/><line x1="29.9" y1="828.85" x2="212.8" y2="828.85"/><line x1="151.83" y1="737.4" x2="151.83" y2="920.3"/><line x1="29.9" y1="798.37" x2="212.8" y2="798.37"/><line x1="182.32" y1="737.4" x2="182.32" y2="920.3"/><line x1="29.9" y1="767.88" x2="212.8" y2="767.88"/></g>
<clipPath id="cp6"><polygon points="29.90,920.30 212.80,737.40 29.90,737.40"/></clipPath><g clip-path="url(#cp6)"><g transform="translate(30.5,919.5) scale(1,-1)" fill="none" stroke-width="1.15" stroke-linecap="square"><path stroke="#5a4a9c" d="M0 13h.01M0 14h.01M1 15h.01M1 16h1M2 18h.01M1 20h.01M3 21h.01M2 22h.01M5 22h.01M4 23h.01M5 25h1M8 25h.01M5 26h2M11 26h.01M11 27h.01M6 28h.01M7 29h.01M10 29h.01M5 30h.01M8 30h.01M14 30h.01M6 31h1M16 31h.01M5 32h1M8 32h.01M12 32h.01M18 32h.01M9 33h.01M11 33h.01M14 33h.01M22 33h.01M15 34h.01M17 34h.01M20 34h.01M6 35h.01M9 35h.01M11 35h.01M17 35h.01M19 35h.01M12 36h1M22 36h.01M7 37h.01M11 37h1M14 37h1M18 37h1M8 38h1M12 38h.01M17 38h1M20 38h.01M25 38h1M8 39h.01M17 39h.01M19 39h.01M21 39h.01M23 39h.01M13 40h1M17 40h2M22 40h.01M26 40h2M8 41h.01M10 41h2M14 41h.01M16 41h1M22 41h.01M25 41h.01M27 41h.01M29 41h.01M9 42h1M13 42h.01M18 42h1M21 42h.01M25 42h.01M28 42h1M7 43h.01M10 43h.01M13 43h.01M15 43h.01M17 43h3M27 43h.01M30 43h.01M32 43h.01M34 43h1M9 44h.01M12 44h.01M14 44h1M20 44h.01M22 44h1M28 44h2M33 44h.01M11 45h.01M14 45h.01M19 45h.01M21 45h.01M23 45h.01M26 45h.01M33 45h1M15 46h.01M17 46h.01M19 46h2M23 46h.01M27 46h.01M30 46h.01M33 46h.01M12 47h1M15 47h.01M22 47h2M30 47h2M34 47h1M37 47h.01M13 48h2M17 48h1M22 48h1M27 48h.01M37 48h1M12 49h.01M14 49h.01M17 49h1M21 49h.01M24 49h3M29 49h1M33 49h1M36 49h.01M39 49h.01M13 50h.01M15 50h.01M17 50h.01M19 50h.01M21 50h2M25 50h.01M27 50h2M31 50h.01M34 50h1M43 50h.01M12 51h2M17 51h.01M24 51h.01M28 51h.01M30 51h1M34 51h.01M36 51h2M15 52h3M20 52h1M24 52h2M31 52h.01M37 52h.01M40 52h1M44 52h1M13 53h.01M16 53h1M19 53h1M22 53h.01M27 53h.01M42 53h.01M46 53h1M11 54h1M14 54h.01M19 54h.01M22 54h.01M24 54h.01M30 54h2M35 54h.01M42 54h1M15 55h.01M17 55h1M20 55h.01M26 55h.01M28 55h2M33 55h1M40 55h2M44 55h.01M46 55h.01M49 55h.01M13 56h.01M19 56h.01M21 56h.01M24 56h.01M27 56h.01M33 56h2M40 56h2M44 56h1M50 56h.01M14 57h.01M16 57h2M20 57h2M25 57h.01M29 57h.01M33 57h.01M39 57h1M43 57h.01M45 57h2M49 57h.01M18 58h1M23 58h.01M33 58h.01M36 58h2M40 58h.01M44 58h2M49 58h.01M16 59h1M19 59h.01M26 59h.01M32 59h1M40 59h.01M48 59h.01M50 59h1M53 59h.01M15 60h1M18 60h1M24 60h5M34 60h.01M37 60h.01M46 60h2M50 60h.01M19 61h3M28 61h.01M31 61h1M37 61h1M40 61h1M43 61h.01M45 61h.01M48 61h4M18 62h1M22 62h.01M26 62h1M29 62h.01M31 62h1M37 62h.01M40 62h1M43 62h.01M47 62h.01M49 62h.01M51 62h.01M53 62h.01M20 63h.01M23 63h.01M26 63h1M29 63h1M32 63h.01M35 63h1M39 63h.01M45 63h1M51 63h.01M53 63h1M18 64h1M23 64h5M32 64h.01M35 64h.01M37 64h1M46 64h.01M51 64h.01M55 64h.01M15 65h.01M19 65h1M23 65h1M27 65h.01M29 65h.01M31 65h.01M39 65h2M44 65h1M48 65h2M52 65h.01M55 65h1M15 66h3M21 66h1M26 66h.01M34 66h.01M36 66h1M40 66h.01M45 66h.01M47 66h.01M50 66h.01M55 66h.01M57 66h.01M62 66h.01M16 67h.01M18 67h.01M24 67h.01M30 67h2M37 67h.01M43 67h3M48 67h2M54 67h.01M59 67h.01M61 67h.01M17 68h.01M19 68h.01M23 68h.01M28 68h.01M41 68h1M44 68h2M49 68h.01M57 68h1M17 69h.01M21 69h3M30 69h.01M32 69h.01M35 69h.01M39 69h.01M41 69h.01M44 69h.01M47 69h.01M49 69h.01M52 69h1M59 69h.01M64 69h.01M66 69h.01M16 70h.01M23 70h1M28 70h.01M31 70h1M35 70h.01M37 70h.01M53 70h.01M56 70h.01M64 70h1M18 71h1M24 71h.01M26 71h1M37 71h.01M42 71h1M47 71h.01M49 71h.01M62 71h.01M65 71h.01M67 71h.01M17 72h2M22 72h.01M32 72h4M40 72h.01M44 72h1M48 72h.01M54 72h.01M56 72h.01M58 72h.01M62 72h.01M65 72h.01M17 73h1M20 73h.01M23 73h1M26 73h.01M35 73h2M48 73h2M66 73h.01M68 73h.01M19 74h.01M22 74h.01M24 74h1M27 74h1M31 74h.01M35 74h.01M37 74h.01M40 74h.01M42 74h.01M44 74h.01M48 74h.01M52 74h1M57 74h.01M60 74h.01M63 74h1M68 74h.01M70 74h.01M72 74h.01M25 75h.01M31 75h1M34 75h.01M41 75h.01M44 75h.01M49 75h.01M51 75h1M56 75h.01M60 75h.01M62 75h1M65 75h.01M68 75h1M71 75h2M23 76h1M49 76h.01M57 76h.01M59 76h1M62 76h1M65 76h.01M68 76h.01M70 76h.01M22 77h.01M28 77h1M31 77h.01M37 77h1M52 77h.01M55 77h.01M58 77h.01M62 77h.01M23 78h.01M28 78h1M31 78h2M42 78h.01M53 78h.01M55 78h.01M61 78h1M69 78h1M75 78h1M19 79h.01M21 79h.01M23 79h.01M31 79h.01M50 79h.01M65 79h1M68 79h.01M72 79h1M76 79h.01M20 80h.01M44 80h.01M47 80h.01M68 80h.01M70 80h.01M76 80h.01M24 81h2M28 81h.01M33 81h.01M38 81h.01M41 81h1M47 81h1M50 81h.01M55 81h.01M59 81h1M63 81h.01M67 81h1M72 81h.01M74 81h1M25 82h.01M30 82h.01M35 82h.01M39 82h.01M47 82h.01M51 82h1M59 82h.01M69 82h.01M71 82h1M75 82h.01M78 82h.01M23 83h1M26 83h1M30 83h.01M43 83h.01M45 83h.01M63 83h1M74 83h2M79 83h.01M21 84h1M34 84h.01M47 84h2M55 84h.01M68 84h.01M73 84h3M78 84h1M22 85h.01M24 85h.01M27 85h.01M32 85h2M36 85h.01M48 85h.01M58 85h.01M76 85h2M81 85h.01M34 86h1M40 86h1M43 86h.01M45 86h.01M48 86h.01M56 86h.01M65 86h.01M73 86h.01M75 86h1M79 86h.01M84 86h.01M24 87h.01M27 87h.01M48 87h.01M58 87h.01M79 87h.01M81 87h1M32 88h.01M35 88h.01M38 88h1M47 88h.01M57 88h.01M60 88h.01M71 88h.01M75 88h.01M79 88h2M84 88h.01M26 89h2M32 89h.01M46 89h.01M68 89h.01M73 89h1M76 89h.01M81 89h.01M84 89h.01M30 90h.01M83 90h2M24 91h.01M42 91h.01M44 91h.01M47 91h.01M56 91h1M78 91h.01M81 91h.01M86 91h4M39 92h.01M43 92h.01M45 92h.01M63 92h.01M68 92h.01M75 92h.01M33 93h.01M35 93h1M39 93h.01M42 93h.01M67 93h.01M70 93h.01M74 93h1M81 93h.01M83 93h.01M85 93h.01M88 93h.01M91 93h1M25 94h.01M43 94h.01M54 94h.01M59 94h.01M72 94h1M84 94h.01M88 94h.01M90 94h.01M25 95h.01M29 95h.01M33 95h.01M35 95h1M38 95h.01M40 95h.01M66 95h.01M70 95h.01M89 95h.01M93 95h.01M30 96h.01M48 96h.01M59 96h.01M62 96h.01M86 96h.01M91 96h1M29 97h.01M33 97h.01M36 97h.01M40 97h.01M42 97h.01M59 97h1M92 97h1M48 98h.01M55 98h.01M65 98h.01M68 98h.01M84 98h.01M90 98h1M95 98h1M37 99h.01M41 99h.01M92 99h.01M0 100h.01M32 100h.01M34 100h.01M39 100h.01M42 100h.01M57 100h.01M93 100h.01M95 100h1M99 100h.01M28 101h.01M33 101h.01M50 101h.01M66 101h.01M75 101h.01M83 101h.01M90 101h.01M37 102h.01M45 102h.01M51 102h.01M84 102h.01M92 102h.01M99 102h.01M36 103h.01M41 103h1M87 103h.01M33 104h.01M49 104h.01M93 104h.01M103 104h.01M88 105h.01M91 105h.01M94 105h.01M100 105h.01M42 106h.01M103 106h.01M56 107h.01M66 107h.01M104 107h.01M106 107h.01M97 108h.01M102 108h.01M106 108h.01M41 109h.01M101 109h.01M98 110h.01M104 110h.01M106 110h.01M48 111h.01M108 111h.01M48 112h.01M107 112h.01M60 113h.01M86 113h.01M108 113h2M88 114h.01M94 114h.01M106 114h.01M113 114h.01M36 115h.01M103 115h.01M113 115h1M73 116h1M114 116h1M108 117h.01M111 117h.01M113 117h1M104 118h.01M112 118h.01M115 118h1M114 119h.01M118 119h1M117 120h1M116 121h.01M120 121h.01M104 122h.01M119 122h.01M122 122h.01M119 123h.01M121 123h.01M122 124h.01M124 125h.01M113 126h.01M115 126h.01M125 126h1M125 127h.01M125 128h.01M127 128h.01M122 129h.01M127 130h2M125 131h.01M130 131h.01M88 132h.01M130 132h1M131 133h1M131 134h.01M133 134h.01M126 135h.01M135 135h.01M134 136h1M136 137h.01M135 138h.01M137 138h1M137 139h.01M132 140h.01M125 141h.01M130 141h.01M139 141h1M138 142h.01M141 142h.01M143 143h.01M142 144h2M144 145h1M145 147h1M148 148h.01M145 149h.01M147 149h.01M148 150h.01M150 150h.01M151 151h.01M152 152h.01M149 153h.01M153 153h.01M150 155h.01M154 155h.01M158 158h.01M151 159h.01M159 160h.01M161 162h.01M164 164h.01M164 165h.01M166 166h.01M166 167h1M170 170h.01M172 173h.01M172 178h.01M175 181h.01"/><path stroke="#4451a8" d="M0 11h.01M1 14h.01M3 19h.01M3 20h.01M4 22h.01M5 24h2M4 25h.01M9 26h1M5 27h.01M10 27h.01M7 28h.01M10 28h1M6 29h.01M8 29h.01M12 29h.01M15 29h.01M17 29h.01M7 30h.01M10 30h.01M17 30h1M8 31h.01M10 31h.01M12 31h.01M14 31h.01M17 31h.01M11 32h.01M13 32h1M16 32h.01M12 33h1M16 33h2M8 34h1M13 34h1M16 34h.01M18 34h.01M21 34h2M12 35h.01M14 35h1M20 35h.01M11 36h.01M15 36h.01M18 36h.01M20 36h.01M23 36h1M10 37h.01M21 37h.01M10 38h1M15 38h.01M19 38h.01M23 38h1M27 38h1M10 39h.01M12 39h.01M14 39h.01M16 39h.01M18 39h.01M20 39h.01M22 39h.01M11 40h.01M20 40h.01M29 40h.01M15 41h.01M18 41h1M31 41h.01M33 41h.01M15 42h1M22 42h2M26 42h1M33 42h.01M16 43h.01M21 43h.01M26 43h.01M29 43h.01M10 44h1M16 44h.01M18 44h1M35 44h.01M20 45h.01M22 45h.01M24 45h.01M29 45h2M35 45h.01M37 45h1M9 46h.01M12 46h.01M24 46h.01M31 46h.01M34 46h1M10 47h.01M17 47h1M26 47h.01M28 47h1M10 48h.01M16 48h.01M19 48h.01M28 48h1M34 48h.01M36 48h.01M16 49h.01M19 49h.01M23 49h.01M32 49h.01M35 49h.01M14 50h.01M20 50h.01M37 50h1M40 50h1M11 51h.01M16 51h.01M26 51h.01M32 51h1M43 51h.01M13 52h.01M29 52h1M35 52h.01M43 52h.01M18 53h.01M28 53h.01M37 53h.01M15 54h.01M36 54h.01M44 54h1M12 55h1M24 55h.01M31 55h.01M35 55h.01M39 55h.01M43 55h.01M47 55h.01M15 56h.01M22 56h.01M25 56h.01M43 56h.01M47 56h2M15 57h.01M23 57h.01M26 57h.01M32 57h.01M36 57h.01M26 58h1M39 58h.01M50 58h1M29 59h.01M36 59h.01M39 59h.01M45 59h.01M47 59h.01M52 59h.01M54 59h.01M17 60h.01M21 60h1M30 60h.01M52 60h.01M56 60h.01M18 61h.01M23 61h2M46 61h.01M57 61h.01M45 62h.01M52 62h.01M55 62h1M17 63h1M50 63h.01M52 63h.01M55 63h.01M33 64h.01M41 64h.01M54 64h.01M57 64h2M32 65h.01M35 65h.01M37 65h.01M57 65h1M60 65h1M30 66h.01M27 67h1M55 67h1M58 67h.01M62 67h.01M18 68h.01M25 68h.01M31 68h1M52 68h.01M54 68h.01M59 68h.01M16 69h.01M25 69h.01M29 69h.01M40 69h.01M45 69h.01M65 69h.01M29 70h1M33 70h.01M44 70h.01M48 70h.01M50 70h.01M62 70h.01M21 71h.01M23 71h.01M30 71h.01M66 71h.01M68 71h.01M26 72h.01M49 72h.01M63 72h.01M68 72h.01M19 73h.01M29 73h.01M31 73h.01M39 73h2M63 73h.01M65 73h.01M67 73h.01M32 74h.01M69 74h.01M71 74h.01M18 75h.01M39 75h.01M50 75h.01M59 75h.01M66 75h.01M70 75h.01M22 76h.01M66 76h1M69 76h.01M72 76h.01M56 77h.01M74 77h.01M21 78h.01M26 78h.01M35 78h.01M73 78h1M20 79h.01M22 79h.01M74 79h1M31 80h.01M75 80h.01M21 81h.01M78 81h.01M34 82h.01M32 83h.01M37 83h.01M80 83h.01M29 84h.01M38 84h.01M80 84h.01M80 85h.01M80 86h.01M83 86h.01M23 87h.01M80 87h.01M84 87h.01M76 88h.01M85 88h1M55 89h.01M35 91h.01M38 91h.01M71 91h.01M84 92h.01M86 92h1M89 92h.01M92 94h.01M90 95h.01M94 95h.01M93 96h.01M69 97h.01M95 97h.01M88 98h.01M82 99h.01M97 99h.01M100 101h.01M100 102h.01M68 103h.01M102 103h.01M102 104h.01M101 105h.01M103 105h1M96 107h.01M105 107h.01M65 108h.01M105 108h.01M107 108h.01M107 109h.01M105 110h.01M109 111h.01M112 112h.01M111 114h.01M118 118h.01M117 119h.01M119 120h1M119 121h.01M122 123h1M125 125h.01M126 128h.01M128 128h.01M125 129h2M131 131h.01M134 135h.01M136 136h.01M137 137h.01M139 139h.01M141 141h.01M146 146h.01M149 150h.01M168 169h.01M176 176h.01"/><path stroke="#4058ac" d="M4 20h.01M5 23h.01M7 25h.01M9 25h.01M12 27h.01M8 28h.01M15 28h.01M13 29h1M6 30h.01M15 30h1M9 31h.01M10 32h.01M17 32h.01M19 32h.01M21 32h.01M7 33h.01M12 34h.01M19 34h.01M8 35h.01M16 35h.01M23 35h.01M19 36h.01M16 37h1M20 37h.01M22 37h.01M13 38h.01M21 38h.01M13 39h.01M27 39h1M24 40h.01M26 41h.01M30 41h.01M20 42h.01M32 42h.01M11 43h.01M31 43h.01M13 44h.01M21 44h.01M32 45h.01M36 45h.01M26 46h.01M32 46h.01M36 46h.01M33 47h.01M36 47h.01M38 47h3M32 48h.01M41 48h.01M37 49h.01M20 51h1M35 51h.01M40 51h.01M42 51h.01M12 52h.01M46 52h1M15 53h.01M44 53h.01M40 54h.01M47 54h2M45 55h.01M48 55h.01M26 56h.01M39 56h.01M51 56h.01M47 58h1M52 58h.01M37 59h.01M51 60h.01M42 61h.01M56 61h.01M42 62h.01M54 62h.01M58 62h.01M41 63h.01M58 63h1M48 64h1M60 64h.01M62 65h.01M25 66h.01M64 67h.01M27 68h.01M18 69h.01M27 69h.01M61 69h.01M63 69h.01M67 70h.01M28 72h.01M71 76h.01M73 76h.01M77 79h.01M73 80h.01M77 82h.01M79 82h1M81 83h.01M81 84h.01M83 85h.01M82 86h.01M88 89h.01M88 90h.01M95 96h.01M94 97h.01M97 98h.01M98 99h.01M101 102h.01M104 106h1M102 107h.01M109 110h.01M112 113h1M115 115h.01M116 116h.01M116 117h.01M130 130h.01M142 142h.01M165 165h.01"/><path stroke="#3c61b0" d="M3 17h.01M5 20h.01M6 21h.01M7 22h.01M7 23h1M10 24h.01M13 26h.01M6 27h.01M14 27h1M16 28h.01M16 29h.01M18 29h.01M9 30h.01M13 30h.01M11 31h.01M20 31h.01M9 32h.01M20 32h.01M8 33h.01M10 33h.01M15 33h.01M19 33h1M10 34h.01M10 35h.01M21 35h.01M24 35h1M25 36h2M23 37h3M28 37h1M14 38h.01M25 39h1M31 39h.01M30 40h.01M32 40h.01M28 41h.01M34 41h.01M31 42h.01M34 42h.01M36 42h.01M33 43h.01M36 43h.01M25 44h.01M32 44h.01M37 44h.01M25 45h.01M39 45h.01M19 47h.01M42 48h.01M41 49h2M42 50h.01M45 50h.01M44 51h3M32 53h.01M45 53h.01M49 53h.01M38 54h.01M46 54h.01M50 55h.01M48 57h.01M53 58h.01M41 59h.01M53 60h2M57 60h.01M57 62h.01M61 64h.01M58 66h.01M63 66h.01M63 67h.01M67 69h.01M68 70h.01M57 71h.01M24 72h.01M70 72h.01M70 73h1M74 76h.01M77 80h1M82 84h1M84 85h.01M86 87h.01M87 88h.01M93 94h.01M103 103h.01M108 109h.01M114 114h.01M117 118h.01M121 121h.01M129 129h.01M134 134h.01"/><path stroke="#386cb8" d="M0 10h.01M0 12h.01M1 13h.01M2 15h.01M2 17h.01M3 18h1M6 20h.01M5 21h.01M7 21h.01M8 22h1M9 23h.01M11 24h1M10 25h.01M12 25h2M8 26h.01M14 26h.01M8 27h1M16 27h.01M14 28h.01M17 28h1M12 30h.01M19 30h1M21 31h.01M22 32h1M23 33h1M24 34h1M22 35h.01M26 35h1M28 36h.01M29 38h2M11 39h.01M30 39h.01M31 40h.01M33 40h.01M35 41h.01M35 42h.01M37 43h.01M34 44h.01M38 44h1M38 46h3M39 48h.01M43 48h1M44 49h1M44 50h.01M48 52h.01M48 53h.01M50 54h.01M51 55h.01M52 56h1M50 57h4M54 58h1M56 59h.01M58 61h.01M59 62h.01M56 63h.01M60 63h.01M59 65h.01M63 65h.01M61 66h.01M65 67h.01M64 68h2M66 70h.01M69 71h.01M80 81h.01M82 83h.01M85 86h.01M89 90h.01M91 92h.01M99 99h.01M102 102h.01M104 104h.01M106 106h.01M107 107h.01M108 108h.01M109 109h.01M110 110h.01M124 124h.01M132 132h.01"/><path stroke="#3478c0" d="M1 12h.01M3 16h.01M4 17h.01M5 18h.01M4 19h2M7 20h.01M8 21h.01M6 22h.01M10 22h.01M6 23h.01M10 23h1M8 24h1M13 24h.01M11 25h.01M15 26h2M13 27h.01M17 27h1M13 28h.01M19 29h1M21 30h.01M18 31h.01M22 31h.01M24 32h.01M25 33h.01M26 34h.01M28 35h.01M21 36h.01M30 36h.01M27 37h.01M30 37h1M32 38h1M29 39h.01M32 39h2M34 40h1M32 41h.01M36 41h1M30 42h.01M37 42h1M38 43h.01M36 44h.01M40 45h1M42 46h.01M42 47h1M40 48h.01M46 49h.01M46 50h.01M48 51h.01M49 52h.01M50 53h.01M51 54h.01M52 55h.01M55 59h.01M57 59h.01M61 63h.01M62 64h.01M64 66h.01M68 69h.01M67 72h.01M75 76h.01M75 77h1M77 78h.01M78 79h.01M79 80h.01M81 82h.01M94 94h.01M95 95h.01M96 96h.01M97 97h.01M98 98h.01M100 100h.01M101 101h.01M105 105h.01M111 111h.01M127 127h.01"/><path stroke="#3087c7" d="M0 9h.01M6 18h.01M7 19h.01M9 21h1M11 22h.01M12 23h1M14 24h.01M15 25h1M19 28h2M21 29h.01M22 30h1M19 31h.01M23 31h1M25 32h.01M26 33h.01M27 34h1M29 35h.01M29 36h.01M35 39h.01M36 40h.01M39 43h1M40 44h.01M43 46h.01M45 48h.01M47 50h.01M55 57h.01M56 58h.01M58 60h.01M59 61h.01M60 62h.01M69 70h.01M71 72h.01M72 73h.01M73 74h.01M74 75h.01M85 85h.01M87 87h.01M88 88h.01M89 89h.01M90 90h.01M91 91h.01M92 92h.01M93 93h.01"/><path stroke="#2c96cf" d="M2 14h.01M3 15h.01M4 16h.01M5 17h.01M7 18h.01M8 19h.01M8 20h1M11 21h.01M12 22h.01M14 23h.01M15 24h1M17 25h.01M18 26h.01M19 27h2M22 29h.01M25 31h.01M26 32h.01M21 33h.01M28 33h.01M29 34h.01M30 35h.01M31 36h.01M32 37h.01M42 45h.01M44 47h.01M48 50h.01M49 51h.01M50 52h.01M51 53h.01M53 55h.01M54 56h.01M61 62h.01M63 64h.01M64 65h.01M65 66h.01M66 67h.01M67 68h.01M70 71h.01M82 82h.01M83 83h.01M84 84h.01M86 86h.01"/><path stroke="#2ba4d0" d="M0 8h.01M1 11h.01M3 14h.01M4 15h.01M5 16h.01M6 17h.01M9 19h.01M10 20h1M13 21h.01M13 22h1M15 23h.01M17 24h.01M18 25h.01M19 26h.01M22 28h.01M23 29h.01M24 30h.01M27 32h.01M27 33h.01M30 34h.01M31 35h.01M33 37h.01M34 38h.01M37 40h.01M38 41h.01M39 42h.01M41 44h1M45 47h.01M46 48h.01M47 49h.01M52 54h.01M55 56h.01M56 57h.01M57 58h.01M58 59h.01M59 60h.01M60 61h.01M62 63h.01M72 72h.01M74 74h.01M76 76h.01M77 77h.01M78 78h.01M80 80h.01M81 81h.01"/><path stroke="#2eafcd" d="M1 10h.01M2 13h.01M4 14h.01M5 15h.01M6 16h.01M7 17h1M8 18h1M10 19h.01M12 21h.01M16 23h.01M18 24h.01M19 25h.01M20 26h.01M22 27h.01M23 28h.01M24 29h.01M25 30h.01M26 31h.01M28 32h.01M29 33h.01M32 35h.01M32 36h1M34 37h.01M35 38h.01M36 39h.01M39 41h.01M40 42h.01M41 43h.01M43 45h.01M44 46h.01M53 54h.01M54 55h.01M68 68h.01M73 73h.01M75 75h.01M79 79h.01"/><path stroke="#3db1c2" d="M0 7h.01M1 9h.01M3 13h.01M11 19h.01M12 20h.01M14 21h.01M15 22h1M17 23h.01M19 24h.01M21 26h.01M23 27h.01M25 29h.01M26 30h.01M27 31h.01M30 33h.01M31 34h.01M36 38h.01M37 39h.01M38 40h.01M46 47h.01M47 48h.01M49 50h.01M50 51h.01M51 52h.01M52 53h.01M64 64h.01M67 67h.01M69 69h.01M70 70h.01M71 71h.01"/><path stroke="#4cb3b7" d="M2 12h.01M5 14h.01M6 15h.01M7 16h.01M9 17h.01M10 18h1M13 19h.01M13 20h1M15 21h.01M20 25h1M24 28h1M27 30h.01M28 31h.01M29 32h.01M32 34h.01M33 35h.01M35 37h.01M41 42h.01M43 44h.01M44 45h.01M45 46h.01M48 49h.01M59 59h.01M60 60h.01M62 62h.01M63 63h.01M65 65h.01M66 66h.01"/><path stroke="#57b6b1" d="M2 11h.01M3 12h.01M4 13h.01M6 14h.01M7 15h.01M8 16h.01M11 17h.01M12 19h.01M16 21h.01M17 22h1M18 23h.01M20 24h.01M22 26h.01M26 29h.01M30 32h.01M31 33h.01M34 36h.01M38 39h.01M40 41h.01M42 43h.01M51 51h.01M53 53h.01M54 54h.01M55 55h.01M56 56h.01M57 57h.01M58 58h.01M61 61h.01"/><path stroke="#60b8ad" d="M0 6h.01M1 8h.01M3 11h.01M4 12h.01M5 13h.01M7 14h.01M8 15h.01M9 16h.01M10 17h.01M12 18h.01M14 19h.01M15 20h.01M17 21h.01M19 23h.01M22 25h.01M23 26h.01M24 27h.01M28 30h.01M29 31h.01M36 37h.01M37 38h.01M39 40h.01M50 50h.01M52 52h.01"/><path stroke="#69bba9" d="M2 10h.01M6 13h.01M8 14h.01M9 15h.01M10 16h.01M13 18h.01M16 20h.01M18 21h.01M19 22h.01M20 23h.01M21 24h.01M24 26h.01M26 28h.01M27 29h.01M33 34h.01M34 35h.01M35 36h.01M45 45h.01M46 46h.01M47 47h.01M48 48h.01M49 49h.01"/><path stroke="#6fbea6" d="M0 5h.01M1 7h.01M4 11h.01M5 12h.01M10 15h.01M11 16h.01M12 17h.01M14 18h.01M15 19h.01M23 25h.01M30 31h.01M31 32h.01M32 33h.01M41 41h.01M42 42h.01M44 44h.01"/><path stroke="#74c0a4" d="M2 9h.01M3 10h.01M7 13h.01M9 14h.01M15 18h.01M16 19h.01M17 20h.01M21 23h.01M22 24h.01M25 27h.01M27 28h.01M28 29h.01M29 30h.01M35 35h.01M37 37h.01M38 38h.01M39 39h.01M40 40h.01M43 43h.01"/><path stroke="#79c3a1" d="M3 9h.01M4 10h.01M5 11h.01M6 12h1M8 13h.01M11 15h.01M12 16h.01M13 17h1M19 21h.01M20 22h.01M24 25h.01M26 27h.01M33 33h.01M34 34h.01M36 36h.01"/><path stroke="#7fc59f" d="M0 4h.01M1 6h.01M2 8h.01M4 9h.01M5 10h.01M6 11h.01M10 14h.01M13 16h.01M18 20h.01M23 24h.01M25 26h.01"/><path stroke="#85c79d" d="M7 11h.01M9 13h.01M11 14h.01M12 15h.01M15 17h.01M16 18h.01M17 19h.01M20 21h.01M21 22h.01M22 23h.01M29 29h.01M30 30h.01M31 31h.01M32 32h.01"/><path stroke="#8bca9a" d="M0 3h.01M3 8h.01M8 12h.01M10 13h.01M14 16h.01M27 27h.01M28 28h.01"/><path stroke="#91cc97" d="M1 5h.01M2 7h.01M5 9h.01M6 10h.01M9 12h.01M12 14h.01M13 15h.01M17 18h.01M18 19h.01M19 20h.01M24 24h.01M25 25h.01M26 26h.01"/><path stroke="#9cce90" d="M3 7h.01M4 8h.01M7 10h.01M8 11h.01M11 13h.01M16 17h.01M22 22h.01"/><path stroke="#a8d088" d="M0 2h.01M1 4h.01M4 7h.01M6 9h.01M10 12h.01M14 15h.01M15 16h.01M20 20h.01M23 23h.01"/><path stroke="#bcc981" d="M2 6h1M5 8h.01M8 10h.01M9 11h.01M13 14h.01M16 16h.01M17 17h.01M18 18h.01M19 19h.01M21 21h.01"/><path stroke="#ccc179" d="M6 8h.01M7 9h.01M12 13h.01"/><path stroke="#d8b772" d="M2 5h.01M5 7h.01M10 11h.01M11 12h.01M14 14h.01M15 15h.01"/><path stroke="#e4aa6c" d="M0 1h.01M1 3h.01M4 6h.01M8 9h.01M9 10h.01"/><path stroke="#ec9b66" d="M2 4h.01M3 5h.01M7 8h.01M12 12h.01M13 13h.01"/><path stroke="#ea8860" d="M5 6h.01M6 7h.01M10 10h.01"/><path stroke="#e87659" d="M0 0h.01M1 2h.01M9 9h.01M11 11h.01"/><path stroke="#e56953" d="M3 4h.01M4 5h.01M8 8h.01"/><path stroke="#e25c4e" d="M2 3h.01M7 7h.01"/><path stroke="#e05048" d="M1 1h.01M5 5h.01M6 6h.01"/><path stroke="#dd4742" d="M4 4h.01"/><path stroke="#db3f3c" d="M2 2h.01M3 3h.01"/></g></g>
<line x1="29.9" y1="920.3" x2="212.8" y2="737.4" stroke="#2a2a2a" stroke-width="1"/>
<rect x="29.9" y="737.4" width="182.9" height="182.9" fill="none" stroke="#666" stroke-width="1.15"/>
<path d="M29.9,920.3v-2.5M29.9,737.4v2.5M29.9,920.3h2.5M212.8,920.3h-2.5M60.38,920.3v-2.5M60.38,737.4v2.5M29.9,889.82h2.5M212.8,889.82h-2.5M90.87,920.3v-2.5M90.87,737.4v2.5M29.9,859.33h2.5M212.8,859.33h-2.5M121.35,920.3v-2.5M121.35,737.4v2.5M29.9,828.85h2.5M212.8,828.85h-2.5M151.83,920.3v-2.5M151.83,737.4v2.5M29.9,798.37h2.5M212.8,798.37h-2.5M182.32,920.3v-2.5M182.32,737.4v2.5M29.9,767.88h2.5M212.8,767.88h-2.5M212.8,920.3v-2.5M212.8,737.4v2.5M29.9,737.4h2.5M212.8,737.4h-2.5" stroke="#333" stroke-width="0.8"/>
<g font-family="Liberation Sans" font-size="7" fill="#333"><text x="27.4" y="922.8" text-anchor="end">0</text><text x="29.9" y="927.9" text-anchor="middle">0</text><text x="27.4" y="892.32" text-anchor="end">50</text><text x="60.38" y="927.9" text-anchor="middle">50</text><text x="27.4" y="861.83" text-anchor="end">100</text><text x="90.87" y="927.9" text-anchor="middle">100</text><text x="27.4" y="831.35" text-anchor="end">150</text><text x="121.35" y="927.9" text-anchor="middle">150</text><text x="27.4" y="800.87" text-anchor="end">200</text><text x="151.83" y="927.9" text-anchor="middle">200</text><text x="27.4" y="770.38" text-anchor="end">250</text><text x="182.32" y="927.9" text-anchor="middle">250</text><text x="27.4" y="739.9" text-anchor="end">300</text><text x="212.8" y="927.9" text-anchor="middle">300</text></g>
<g transform="translate(112.65,929.4)" fill="#333"><path d="M9.8,0.9 C6.6,-0.3 1.9,1.4 0.7,4.8 C-0.2,7.6 2.2,9.3 4.8,8.7 C6.1,8.4 6.9,7.8 7.5,7.0" fill="none" stroke="#3a3a3a" stroke-width="1.0" stroke-linecap="round"/><path d="M2.8,6.6 C4.4,4.9 7.4,2.9 9.8,0.9 C11.5,0.4 12.3,1.6 11.7,2.8 C11.1,3.9 9.5,4.4 7.9,4.3 C9.1,5.4 10.4,7.2 11.9,8.3" fill="none" stroke="#3a3a3a" stroke-width="0.75" stroke-linecap="round"/><text x="14.1" y="3.2" font-family="Liberation Serif" font-size="8.2">2</text><text x="12.1" y="11.3" font-family="Liberation Serif" font-style="italic" font-size="9.5">b</text></g>
<g transform="translate(5.7,837.2) rotate(-90)" fill="#333"><path d="M9.8,0.9 C6.6,-0.3 1.9,1.4 0.7,4.8 C-0.2,7.6 2.2,9.3 4.8,8.7 C6.1,8.4 6.9,7.8 7.5,7.0" fill="none" stroke="#3a3a3a" stroke-width="1.0" stroke-linecap="round"/><path d="M2.8,6.6 C4.4,4.9 7.4,2.9 9.8,0.9 C11.5,0.4 12.3,1.6 11.7,2.8 C11.1,3.9 9.5,4.4 7.9,4.3 C9.1,5.4 10.4,7.2 11.9,8.3" fill="none" stroke="#3a3a3a" stroke-width="0.75" stroke-linecap="round"/><text x="14.1" y="3.2" font-family="Liberation Serif" font-size="8.2">2</text><text x="12.1" y="11.3" font-family="Liberation Serif" font-style="italic" font-size="9.5">d</text></g>
<rect x="225.7" y="737.5" width="9.5" height="182.5" fill="url(#cbg)" stroke="#555" stroke-width="0.8"/>
<path d="M235.2,920h-2M235.2,880.5h-2M235.2,841h-2M235.2,801.49h-2M235.2,761.99h-2" stroke="#333" stroke-width="0.8"/>
<g font-family="Liberation Sans" font-size="7" fill="#333"><text x="237.7" y="922.1">10<tspan font-size="5.2" dy="-3.2">0</tspan></text><text x="237.7" y="882.6">10<tspan font-size="5.2" dy="-3.2">1</tspan></text><text x="237.7" y="843.1">10<tspan font-size="5.2" dy="-3.2">2</tspan></text><text x="237.7" y="803.59">10<tspan font-size="5.2" dy="-3.2">3</tspan></text><text x="237.7" y="764.09">10<tspan font-size="5.2" dy="-3.2">4</tspan></text></g>
<text transform="translate(141.3,913.9) scale(1.07,1)" font-family="Liberation Serif" font-size="17.0" fill="#111" class="nc">N<tspan font-size="12.07" dy="2.6">c</tspan><tspan dy="-2.6">=10M</tspan></text>
<g stroke="#b4b4b4" stroke-width="0.8" stroke-dasharray="1,1.1"><line x1="333.87" y1="737.4" x2="333.87" y2="920.3"/><line x1="303.3" y1="889.82" x2="486.7" y2="889.82"/><line x1="364.43" y1="737.4" x2="364.43" y2="920.3"/><line x1="303.3" y1="859.33" x2="486.7" y2="859.33"/><line x1="395" y1="737.4" x2="395" y2="920.3"/><line x1="303.3" y1="828.85" x2="486.7" y2="828.85"/><line x1="425.57" y1="737.4" x2="425.57" y2="920.3"/><line x1="303.3" y1="798.37" x2="486.7" y2="798.37"/><line x1="456.13" y1="737.4" x2="456.13" y2="920.3"/><line x1="303.3" y1="767.88" x2="486.7" y2="767.88"/></g>
<clipPath id="cp7"><polygon points="303.30,920.30 486.70,737.40 303.30,737.40"/></clipPath><g clip-path="url(#cp7)"><g transform="translate(303.5,919.5) scale(1,-1)" fill="none" stroke-width="1.15" stroke-linecap="square"><path stroke="#5a4a9c" d="M1 14h.01M1 17h.01M1 18h.01M2 21h.01M5 21h1M4 22h.01M7 22h.01M3 23h.01M9 23h.01M2 24h.01M5 24h.01M10 24h.01M5 25h.01M7 25h.01M12 25h.01M7 26h.01M9 26h.01M11 26h.01M5 27h1M9 27h1M14 27h.01M3 28h.01M7 28h.01M7 29h.01M9 29h.01M7 30h5M17 30h.01M19 30h1M7 31h.01M10 31h.01M12 31h.01M16 31h.01M19 31h.01M6 32h1M15 32h1M22 32h.01M8 33h.01M10 33h.01M14 33h2M18 33h.01M21 33h.01M7 34h7M16 34h.01M18 34h.01M21 34h1M14 35h.01M19 35h.01M22 35h.01M8 36h2M12 36h.01M14 36h1M9 37h.01M15 37h3M20 37h.01M22 37h.01M10 38h.01M12 38h.01M16 38h.01M19 38h1M28 38h.01M11 39h1M16 39h1M26 39h.01M28 39h1M12 40h.01M23 40h1M28 40h.01M31 40h.01M14 41h.01M17 41h3M23 41h.01M32 41h.01M10 42h.01M13 42h3M18 42h.01M21 42h.01M23 42h3M29 42h1M32 42h.01M10 43h1M13 43h.01M18 43h.01M22 43h.01M25 43h.01M32 43h.01M34 43h.01M10 44h.01M14 44h.01M18 44h.01M21 44h.01M23 44h1M27 44h.01M29 44h.01M32 44h.01M34 44h.01M11 45h2M15 45h.01M22 45h.01M25 45h2M30 45h2M34 45h.01M11 46h1M14 46h.01M18 46h1M23 46h1M28 46h.01M30 46h.01M32 46h.01M35 46h.01M37 46h.01M21 47h2M32 47h2M37 47h.01M40 47h.01M18 48h.01M20 48h1M24 48h.01M26 48h.01M29 48h.01M34 48h.01M41 48h.01M13 49h1M17 49h.01M19 49h.01M24 49h1M34 49h1M37 49h1M45 49h.01M12 50h.01M20 50h.01M23 50h1M26 50h1M30 50h.01M32 50h.01M37 50h1M40 50h.01M9 51h.01M14 51h.01M18 51h.01M23 51h.01M30 51h2M39 51h1M47 51h.01M13 52h.01M15 52h.01M17 52h.01M19 52h.01M27 52h.01M32 52h1M35 52h.01M38 52h.01M40 52h3M13 53h.01M15 53h.01M18 53h.01M20 53h.01M27 53h.01M30 53h1M34 53h1M39 53h1M42 53h1M48 53h.01M15 54h.01M17 54h.01M20 54h1M23 54h.01M29 54h.01M36 54h.01M40 54h.01M42 54h2M49 54h.01M13 55h.01M15 55h.01M17 55h.01M21 55h.01M24 55h2M29 55h.01M31 55h2M35 55h.01M37 55h3M43 55h.01M20 56h.01M23 56h.01M29 56h2M36 56h2M42 56h2M16 57h.01M28 57h.01M31 57h1M34 57h.01M38 57h1M41 57h.01M44 57h.01M48 57h.01M51 57h.01M16 58h.01M19 58h.01M22 58h.01M24 58h.01M26 58h.01M28 58h1M33 58h.01M35 58h.01M37 58h.01M42 58h.01M44 58h.01M15 59h.01M18 59h.01M20 59h.01M23 59h.01M26 59h1M29 59h1M36 59h1M40 59h.01M44 59h.01M47 59h.01M49 59h2M15 60h.01M17 60h1M24 60h.01M27 60h.01M29 60h1M36 60h1M41 60h.01M48 60h3M54 60h.01M14 61h.01M17 61h1M20 61h.01M24 61h1M32 61h.01M34 61h.01M36 61h2M43 61h1M53 61h.01M55 61h1M18 62h.01M23 62h1M28 62h.01M31 62h1M34 62h.01M39 62h1M43 62h.01M49 62h1M55 62h.01M58 62h1M16 63h1M20 63h1M23 63h.01M26 63h1M32 63h.01M34 63h.01M39 63h1M42 63h.01M44 63h.01M46 63h.01M48 63h.01M50 63h.01M54 63h2M59 63h.01M17 64h.01M20 64h.01M24 64h.01M26 64h.01M29 64h3M37 64h.01M43 64h.01M47 64h1M51 64h1M16 65h.01M19 65h2M24 65h.01M26 65h.01M34 65h.01M41 65h.01M52 65h.01M54 65h.01M56 65h.01M58 65h.01M61 65h.01M31 66h.01M36 66h1M42 66h1M46 66h.01M48 66h.01M52 66h1M56 66h.01M58 66h1M62 66h.01M19 67h.01M25 67h1M30 67h.01M40 67h.01M43 67h.01M47 67h.01M51 67h.01M58 67h3M16 68h.01M22 68h.01M34 68h3M40 68h.01M53 68h.01M60 68h.01M64 68h.01M20 69h1M33 69h.01M35 69h.01M41 69h1M46 69h.01M51 69h.01M54 69h3M59 69h.01M19 70h1M23 70h1M27 70h.01M30 70h.01M33 70h.01M36 70h.01M39 70h.01M45 70h1M59 70h.01M61 70h.01M65 70h.01M20 71h2M28 71h.01M32 71h.01M38 71h1M44 71h.01M47 71h1M53 71h2M60 71h.01M63 71h2M19 72h.01M22 72h.01M26 72h.01M35 72h.01M42 72h.01M44 72h.01M48 72h.01M50 72h3M58 72h.01M60 72h.01M64 72h.01M68 72h1M19 73h.01M28 73h1M31 73h1M40 73h.01M43 73h.01M46 73h.01M50 73h.01M55 73h.01M59 73h1M62 73h1M65 73h.01M22 74h.01M24 74h1M28 74h.01M30 74h.01M32 74h.01M37 74h.01M39 74h1M42 74h.01M44 74h1M47 74h.01M50 74h.01M56 74h.01M59 74h.01M62 74h.01M64 74h2M23 75h.01M28 75h1M31 75h.01M34 75h1M39 75h.01M45 75h.01M47 75h.01M52 75h.01M57 75h.01M59 75h3M64 75h.01M67 75h.01M19 76h.01M26 76h.01M29 76h.01M35 76h.01M37 76h.01M46 76h.01M48 76h.01M50 76h1M54 76h.01M56 76h.01M58 76h1M61 76h.01M63 76h2M68 76h1M71 76h.01M33 77h.01M37 77h.01M48 77h.01M51 77h1M56 77h1M63 77h3M68 77h.01M71 77h1M22 78h1M25 78h.01M27 78h.01M35 78h.01M39 78h.01M44 78h2M48 78h.01M50 78h1M53 78h.01M58 78h1M61 78h1M69 78h.01M71 78h2M75 78h.01M26 79h.01M31 79h.01M35 79h.01M41 79h1M44 79h.01M50 79h.01M53 79h.01M56 79h.01M60 79h1M63 79h1M66 79h.01M68 79h.01M74 79h1M22 80h1M25 80h.01M29 80h1M38 80h.01M42 80h.01M45 80h.01M47 80h1M54 80h2M59 80h2M64 80h1M68 80h1M72 80h.01M77 80h.01M22 81h.01M26 81h1M31 81h.01M43 81h.01M47 81h.01M49 81h.01M51 81h.01M54 81h.01M56 81h1M59 81h.01M68 81h1M72 81h1M76 81h1M79 81h.01M25 82h.01M28 82h.01M30 82h.01M44 82h.01M55 82h.01M57 82h.01M65 82h3M70 82h.01M74 82h.01M23 83h.01M25 83h.01M28 83h.01M33 83h.01M35 83h1M39 83h1M48 83h.01M50 83h.01M57 83h.01M59 83h.01M69 83h.01M71 83h.01M75 83h1M78 83h2M27 84h.01M34 84h1M37 84h.01M39 84h.01M41 84h.01M43 84h1M49 84h.01M54 84h.01M59 84h.01M78 84h.01M33 85h.01M36 85h.01M43 85h.01M46 85h.01M54 85h.01M61 85h.01M65 85h.01M69 85h.01M72 85h.01M76 85h.01M81 85h.01M33 86h.01M36 86h.01M41 86h1M46 86h.01M48 86h.01M50 86h.01M53 86h1M57 86h1M65 86h.01M67 86h.01M70 86h.01M73 86h2M77 86h.01M81 86h.01M83 86h.01M29 87h.01M36 87h.01M41 87h.01M46 87h2M50 87h.01M52 87h1M56 87h.01M59 87h.01M61 87h.01M66 87h1M72 87h2M79 87h2M28 88h.01M34 88h.01M41 88h.01M49 88h.01M56 88h.01M71 88h.01M74 88h1M78 88h.01M80 88h2M84 88h.01M26 89h.01M28 89h.01M50 89h.01M55 89h.01M59 89h1M68 89h.01M72 89h1M76 89h.01M25 90h.01M32 90h.01M36 90h.01M48 90h.01M58 90h.01M62 90h.01M65 90h.01M70 90h.01M82 90h.01M84 90h1M26 91h.01M32 91h3M46 91h.01M48 91h.01M51 91h1M54 91h.01M65 91h1M74 91h.01M76 91h.01M81 91h.01M85 91h.01M89 91h.01M29 92h.01M31 92h.01M34 92h1M38 92h.01M43 92h.01M48 92h.01M52 92h.01M57 92h.01M60 92h1M64 92h.01M75 92h.01M84 92h1M34 93h.01M38 93h.01M46 93h.01M52 93h.01M55 93h.01M57 93h.01M60 93h3M67 93h.01M69 93h.01M73 93h1M76 93h.01M84 93h.01M86 93h.01M90 93h.01M26 94h.01M29 94h.01M35 94h.01M39 94h.01M53 94h.01M55 94h.01M59 94h.01M63 94h.01M65 94h.01M69 94h.01M73 94h.01M78 94h.01M87 94h2M91 94h.01M28 95h.01M33 95h.01M41 95h.01M44 95h1M52 95h.01M62 95h.01M65 95h.01M69 95h.01M72 95h.01M74 95h.01M76 95h2M80 95h1M88 95h.01M27 96h.01M32 96h.01M41 96h.01M50 96h.01M53 96h.01M55 96h.01M62 96h.01M71 96h.01M77 96h1M86 96h.01M89 96h.01M93 96h.01M30 97h.01M34 97h.01M38 97h.01M44 97h.01M47 97h3M55 97h.01M59 97h.01M72 97h.01M76 97h.01M81 97h.01M84 97h.01M90 97h.01M92 97h.01M26 98h.01M32 98h1M35 98h.01M40 98h.01M43 98h.01M52 98h.01M72 98h.01M80 98h1M92 98h4M26 99h.01M37 99h.01M43 99h2M59 99h1M68 99h1M72 99h.01M79 99h1M82 99h.01M88 99h.01M90 99h1M93 99h.01M95 99h1M42 100h.01M51 100h1M63 100h2M67 100h.01M73 100h.01M75 100h.01M77 100h.01M83 100h.01M85 100h.01M90 100h2M94 100h.01M97 100h1M31 101h.01M35 101h.01M37 101h.01M40 101h.01M53 101h.01M55 101h.01M59 101h.01M66 101h.01M68 101h.01M90 101h.01M92 101h.01M30 102h.01M36 102h.01M39 102h.01M47 102h.01M55 102h1M58 102h.01M67 102h.01M71 102h.01M78 102h1M86 102h2M97 102h.01M101 102h.01M38 103h.01M46 103h.01M48 103h.01M53 103h.01M56 103h1M60 103h.01M67 103h.01M70 103h.01M75 103h.01M83 103h.01M85 103h1M94 103h1M97 103h.01M99 103h.01M47 104h.01M52 104h.01M55 104h.01M71 104h.01M77 104h.01M79 104h.01M81 104h.01M85 104h.01M93 104h.01M95 104h.01M99 104h1M38 105h.01M48 105h.01M64 105h1M72 105h.01M80 105h.01M85 105h.01M88 105h.01M92 105h.01M94 105h.01M97 105h.01M102 105h.01M34 106h.01M50 106h1M58 106h.01M61 106h.01M64 106h.01M75 106h.01M81 106h.01M83 106h.01M87 106h1M90 106h.01M92 106h.01M94 106h.01M101 106h.01M53 107h.01M58 107h1M72 107h.01M74 107h.01M82 107h1M88 107h.01M92 107h.01M95 107h1M102 107h.01M105 107h.01M33 108h.01M46 108h.01M51 108h.01M65 108h1M71 108h.01M83 108h.01M93 108h1M103 108h1M106 108h.01M34 109h.01M44 109h.01M51 109h.01M54 109h.01M61 109h.01M69 109h.01M79 109h2M88 109h.01M97 109h.01M99 109h.01M103 109h1M29 110h.01M38 110h1M44 110h1M56 110h.01M62 110h.01M66 110h.01M73 110h.01M81 110h2M86 110h1M95 110h.01M97 110h.01M99 110h1M102 110h.01M104 110h.01M106 110h1M40 111h.01M45 111h.01M47 111h.01M54 111h.01M57 111h.01M62 111h.01M65 111h.01M78 111h.01M81 111h.01M87 111h1M92 111h.01M94 111h.01M97 111h.01M101 111h1M104 111h3M49 112h.01M51 112h.01M53 112h.01M58 112h1M62 112h.01M72 112h.01M78 112h.01M90 112h.01M92 112h.01M97 112h.01M100 112h.01M103 112h1M110 112h.01M38 113h.01M46 113h.01M48 113h.01M53 113h.01M59 113h.01M63 113h1M66 113h.01M76 113h.01M83 113h.01M95 113h.01M100 113h.01M104 113h.01M107 113h.01M109 113h.01M112 113h.01M35 114h.01M37 114h.01M42 114h.01M49 114h.01M58 114h.01M64 114h.01M76 114h.01M88 114h.01M91 114h.01M93 114h.01M100 114h.01M102 114h1M107 114h1M112 114h.01M31 115h.01M36 115h.01M60 115h.01M64 115h.01M71 115h.01M80 115h3M87 115h.01M94 115h.01M102 115h.01M107 115h1M110 115h1M113 115h1M32 116h.01M36 116h.01M56 116h.01M64 116h.01M69 116h.01M71 116h.01M81 116h.01M94 116h.01M98 116h.01M100 116h.01M104 116h.01M106 116h.01M111 116h.01M115 116h.01M38 117h.01M54 117h.01M58 117h.01M67 117h.01M79 117h.01M81 117h.01M87 117h.01M90 117h.01M94 117h1M98 117h.01M102 117h.01M105 117h.01M107 117h.01M110 117h.01M112 117h1M42 118h.01M50 118h2M69 118h1M81 118h2M86 118h1M90 118h.01M92 118h.01M96 118h1M102 118h.01M111 118h.01M113 118h.01M116 118h.01M43 119h.01M47 119h.01M52 119h.01M62 119h.01M77 119h.01M87 119h.01M97 119h.01M113 119h.01M116 119h1M32 120h.01M49 120h.01M54 120h.01M56 120h.01M76 120h.01M78 120h.01M97 120h.01M100 120h.01M106 120h.01M110 120h.01M115 120h1M118 120h.01M45 121h.01M56 121h.01M66 121h.01M71 121h.01M77 121h.01M92 121h.01M106 121h.01M111 121h.01M118 121h.01M120 121h.01M60 122h.01M65 122h.01M72 122h.01M83 122h1M92 122h.01M95 122h.01M111 122h.01M113 122h.01M117 122h.01M119 122h1M62 123h.01M71 123h.01M83 123h.01M104 123h.01M112 123h.01M50 124h.01M68 124h.01M80 124h.01M82 124h.01M98 124h.01M106 124h.01M112 124h.01M117 124h.01M121 124h.01M49 125h.01M61 125h.01M64 125h.01M72 125h.01M82 125h.01M90 125h1M96 125h1M104 125h.01M106 125h.01M108 125h.01M118 125h.01M41 126h.01M62 126h.01M78 126h.01M80 126h.01M96 126h.01M98 126h.01M112 126h.01M115 126h3M124 126h.01M61 127h.01M95 127h.01M99 127h.01M102 127h.01M112 127h.01M114 127h.01M117 127h.01M119 127h.01M121 127h.01M124 127h.01M58 128h.01M60 128h.01M82 128h.01M113 128h.01M125 128h1M41 129h.01M43 129h.01M68 129h.01M103 129h.01M113 129h.01M115 129h.01M119 129h.01M122 129h.01M124 129h.01M128 129h.01M46 130h.01M61 130h.01M67 130h.01M71 130h.01M88 130h.01M92 130h.01M97 130h.01M104 130h.01M110 130h.01M125 130h.01M128 130h.01M0 131h.01M57 131h.01M88 131h.01M104 131h.01M116 131h.01M121 131h.01M124 131h.01M127 131h1M50 132h.01M98 132h.01M102 132h.01M114 132h.01M129 132h.01M44 133h.01M57 133h.01M63 133h.01M81 133h.01M92 133h1M120 133h.01M122 133h.01M126 133h.01M132 133h.01M56 134h.01M114 134h.01M124 134h.01M130 134h.01M133 134h1M55 135h.01M69 135h.01M82 135h.01M94 135h.01M102 135h.01M112 135h.01M116 135h.01M120 135h1M124 135h1M129 135h.01M132 135h.01M63 136h.01M68 136h.01M73 136h.01M94 136h.01M97 136h.01M111 136h.01M116 136h.01M121 136h.01M126 136h.01M130 136h.01M87 137h.01M118 137h.01M122 137h.01M133 137h1M77 138h.01M104 138h.01M124 138h.01M137 138h1M43 139h.01M114 139h.01M122 139h.01M132 139h1M136 139h.01M48 140h.01M55 140h.01M65 140h.01M88 140h.01M113 140h.01M131 140h.01M135 140h1M80 141h.01M97 141h.01M126 141h.01M136 141h.01M140 141h1M48 142h.01M86 142h.01M92 142h.01M95 142h.01M115 142h.01M120 142h.01M51 143h.01M104 143h.01M134 143h1M140 143h.01M64 144h.01M104 144h.01M87 145h.01M94 145h.01M122 145h.01M126 145h.01M140 145h.01M144 145h.01M79 146h.01M100 146h.01M135 146h.01M144 146h1M117 147h.01M120 147h.01M125 147h.01M143 147h1M82 148h.01M141 148h.01M146 148h.01M94 149h.01M102 149h.01M133 149h.01M136 149h.01M147 149h1M90 150h.01M118 150h.01M133 150h.01M137 150h.01M149 150h.01M116 151h.01M141 151h.01M148 151h.01M151 151h.01M145 152h.01M105 153h.01M113 154h.01M142 154h.01M150 154h.01M154 154h.01M145 155h.01M155 155h.01M84 156h.01M126 156h.01M154 156h1M67 157h.01M119 157h.01M157 157h.01M124 158h.01M147 161h.01M157 161h.01M160 161h1M161 163h.01M78 164h.01M154 164h.01M119 166h.01M164 166h.01M166 166h.01M164 167h.01M167 170h.01M170 170h.01M171 171h.01M102 172h.01M172 172h.01M167 173h.01M170 173h.01M174 174h.01M163 175h.01M159 176h.01M177 177h.01M52 181h.01M180 181h1"/><path stroke="#4451a8" d="M0 11h.01M1 15h.01M5 20h.01M5 22h.01M5 23h.01M7 23h.01M6 24h1M9 24h.01M10 25h.01M14 26h.01M13 27h.01M9 28h.01M11 28h1M8 29h.01M12 29h.01M14 29h.01M6 30h.01M13 30h2M11 31h.01M13 31h.01M17 31h1M9 32h.01M19 33h.01M15 34h.01M19 34h.01M9 35h.01M13 35h.01M15 35h1M18 35h.01M20 35h1M27 35h.01M24 36h.01M10 37h1M13 37h1M21 37h.01M24 37h2M18 38h.01M21 38h.01M23 38h.01M25 38h1M13 39h.01M19 39h1M23 39h1M11 40h.01M15 40h1M18 40h.01M21 40h1M30 40h.01M33 40h.01M12 41h.01M27 41h1M33 41h1M11 42h.01M17 42h.01M19 42h.01M34 42h2M14 43h1M20 43h.01M31 43h.01M33 43h.01M13 44h.01M16 44h1M19 44h.01M25 44h.01M36 44h1M14 45h.01M18 45h.01M23 45h.01M28 45h.01M35 45h.01M17 46h.01M29 46h.01M34 46h.01M38 46h.01M41 46h.01M13 47h.01M18 47h.01M25 47h.01M27 47h.01M29 47h1M35 47h.01M38 47h.01M41 47h.01M16 48h.01M22 48h1M27 48h1M33 48h.01M35 48h.01M37 48h2M42 48h.01M15 49h.01M20 49h1M27 49h1M30 49h.01M32 49h.01M40 49h1M44 49h.01M17 50h1M34 50h.01M42 50h.01M44 50h.01M13 51h.01M20 51h.01M22 51h.01M28 51h.01M35 51h.01M37 51h.01M43 51h.01M45 51h.01M20 52h.01M26 52h.01M28 52h1M31 52h.01M34 52h.01M46 52h.01M16 53h.01M19 53h.01M33 53h.01M37 53h.01M44 53h.01M46 53h.01M18 54h.01M35 54h.01M38 54h1M45 54h1M48 54h.01M16 55h.01M20 55h.01M23 55h.01M30 55h.01M36 55h.01M41 55h.01M44 55h.01M46 55h.01M14 56h.01M18 56h1M28 56h.01M45 56h.01M47 56h1M51 56h.01M17 57h1M24 57h.01M26 57h.01M33 57h.01M35 57h2M42 57h.01M46 57h.01M50 57h.01M53 57h.01M27 58h.01M31 58h.01M34 58h.01M39 58h.01M46 58h3M33 59h1M38 59h.01M46 59h.01M52 59h.01M55 59h1M31 60h.01M44 60h.01M46 60h.01M53 60h.01M55 60h.01M31 61h.01M41 61h.01M45 61h.01M54 61h.01M57 61h.01M17 62h.01M20 62h.01M33 62h.01M45 62h.01M54 62h.01M19 63h.01M33 63h.01M41 63h.01M43 63h.01M45 63h.01M47 63h.01M49 63h.01M53 63h.01M60 63h.01M19 64h.01M49 64h.01M57 64h.01M60 64h.01M35 65h1M38 65h2M47 65h.01M51 65h.01M55 65h.01M59 65h1M62 65h.01M33 66h.01M40 66h.01M45 66h.01M57 66h.01M63 66h.01M28 67h.01M50 67h.01M55 67h.01M57 67h.01M45 68h1M55 68h2M59 68h.01M61 68h.01M63 68h.01M26 69h.01M37 69h.01M53 69h.01M58 69h.01M60 69h1M65 69h1M34 70h.01M41 70h.01M43 70h1M49 70h4M55 70h.01M60 70h.01M30 71h.01M40 71h.01M45 71h.01M50 71h1M61 71h.01M67 71h.01M29 72h.01M46 72h.01M49 72h.01M59 72h.01M65 72h.01M25 73h.01M30 73h.01M53 73h1M56 73h.01M58 73h.01M61 73h.01M66 73h1M70 73h.01M49 74h.01M53 74h.01M55 74h.01M57 74h.01M61 74h.01M63 74h.01M70 74h1M26 75h.01M42 75h.01M53 75h.01M56 75h.01M69 75h.01M73 75h.01M47 76h.01M55 76h.01M67 76h.01M70 76h.01M73 76h.01M25 77h.01M67 77h.01M73 77h.01M40 78h.01M43 78h.01M56 78h.01M63 78h.01M36 79h.01M65 79h.01M51 80h.01M57 80h.01M75 80h1M78 80h.01M34 81h.01M44 81h.01M63 81h.01M71 81h.01M74 81h.01M78 81h.01M51 82h.01M59 82h.01M63 82h.01M73 82h.01M75 82h.01M78 82h1M55 83h.01M62 83h.01M68 83h.01M70 83h.01M81 83h.01M67 84h.01M74 84h.01M81 84h.01M55 85h.01M70 85h.01M73 85h.01M80 85h.01M82 85h.01M31 86h.01M78 86h1M84 86h.01M63 87h.01M76 87h.01M83 87h1M32 88h.01M48 88h.01M83 88h.01M85 88h.01M41 89h.01M78 89h.01M80 89h.01M84 89h.01M86 89h.01M59 90h.01M69 90h.01M78 90h.01M86 90h.01M39 91h.01M71 91h.01M73 92h.01M78 92h.01M86 92h.01M90 92h.01M56 93h.01M65 93h.01M79 93h.01M89 93h.01M82 94h.01M84 94h.01M86 94h.01M66 95h.01M82 95h.01M85 95h.01M93 95h.01M49 96h.01M81 96h.01M87 96h.01M70 97h.01M85 97h.01M88 97h1M94 97h.01M73 98h.01M90 98h1M83 99h.01M92 99h.01M94 99h.01M60 100h.01M88 100h1M99 100h.01M79 101h.01M95 101h.01M80 102h.01M91 103h.01M100 103h1M89 104h.01M96 104h.01M55 105h.01M90 105h.01M99 105h.01M32 106h.01M96 106h2M103 106h1M63 107h.01M103 107h.01M79 108h.01M82 108h.01M89 108h.01M107 108h.01M32 109h.01M106 109h2M75 110h.01M108 110h.01M91 111h.01M98 111h.01M63 112h.01M106 112h2M111 113h.01M74 114h.01M104 114h1M113 114h.01M55 115h.01M62 115h.01M112 115h.01M109 116h.01M114 116h.01M91 117h.01M97 117h.01M101 117h.01M106 117h.01M111 117h.01M114 117h.01M93 118h.01M101 118h.01M109 118h.01M117 118h.01M109 119h1M114 119h.01M93 120h.01M112 120h.01M119 120h.01M74 121h.01M110 121h.01M116 121h.01M109 122h.01M108 123h.01M120 123h.01M122 123h.01M89 124h.01M120 124h.01M122 124h.01M123 125h.01M121 126h.01M65 127h.01M113 127h.01M126 127h.01M101 129h.01M126 129h1M129 130h.01M120 131h.01M130 131h.01M106 132h.01M131 132h.01M129 133h.01M133 135h.01M135 136h.01M129 138h.01M138 139h.01M138 140h2M138 143h.01M142 143h.01M138 145h.01M145 145h.01M146 146h.01M146 147h.01M150 151h.01M152 152h.01M151 153h1M157 158h.01M159 159h.01M158 160h.01M169 170h.01M176 176h.01M178 178h.01"/><path stroke="#4058ac" d="M0 10h.01M2 15h.01M4 18h.01M4 19h.01M8 22h.01M10 23h.01M8 24h.01M8 25h1M11 25h.01M10 26h.01M8 27h.01M15 27h.01M11 29h.01M13 29h.01M15 29h.01M19 29h.01M16 30h.01M14 31h.01M20 31h.01M11 32h.01M17 32h.01M20 32h.01M9 33h.01M13 33h.01M20 34h.01M23 34h1M12 35h.01M17 35h.01M26 35h.01M20 36h.01M23 36h.01M26 36h1M19 37h.01M13 38h.01M24 38h.01M21 39h.01M25 39h.01M30 39h.01M33 39h.01M20 40h.01M27 40h.01M29 40h.01M32 40h.01M21 41h.01M26 41h.01M31 41h.01M22 42h.01M33 42h.01M24 43h.01M26 43h1M29 43h1M35 43h.01M37 43h.01M12 44h.01M26 44h.01M30 44h1M33 44h.01M38 44h.01M24 45h.01M33 45h.01M39 45h.01M25 46h.01M27 46h.01M36 46h.01M39 46h1M36 47h.01M13 48h.01M31 48h.01M36 48h.01M43 48h1M26 49h.01M36 49h.01M39 49h.01M35 50h.01M45 50h.01M16 51h.01M29 51h.01M46 51h.01M36 52h.01M39 52h.01M44 52h.01M47 52h.01M36 53h.01M45 53h.01M34 55h.01M47 55h.01M33 56h.01M40 56h1M46 56h.01M52 56h.01M43 57h.01M47 57h.01M54 57h.01M32 58h.01M38 58h.01M51 58h.01M54 58h.01M24 59h.01M34 60h.01M52 60h.01M57 60h.01M46 62h.01M38 63h.01M57 63h.01M53 64h.01M58 64h.01M33 65h.01M50 66h1M61 66h.01M49 67h.01M54 67h.01M56 67h.01M63 67h.01M26 68h.01M27 69h.01M63 69h.01M62 70h.01M66 71h.01M39 72h.01M66 72h1M69 74h.01M36 75h.01M72 76h.01M69 77h.01M68 78h.01M69 79h1M72 79h.01M41 81h.01M80 82h.01M66 83h.01M77 83h.01M82 84h.01M83 85h.01M69 87h.01M86 88h.01M88 90h.01M79 91h.01M84 91h.01M88 92h1M36 94h.01M90 94h.01M91 96h1M99 101h.01M102 104h.01M98 105h.01M105 106h.01M89 107h.01M104 107h.01M110 111h.01M109 112h.01M110 113h.01M100 117h.01M115 117h1M93 119h.01M121 122h.01M91 123h.01M123 124h.01M125 126h.01M129 131h.01M134 135h1M136 136h.01M142 142h.01M147 148h1M149 149h.01M150 150h.01M149 151h.01M153 153h.01"/><path stroke="#3c61b0" d="M3 17h1M5 19h.01M7 20h.01M7 21h2M13 24h.01M14 25h2M8 26h.01M13 26h.01M16 26h.01M12 27h.01M17 27h1M10 28h.01M16 28h.01M10 29h.01M18 30h.01M21 30h1M21 31h2M12 32h.01M19 32h.01M21 32h.01M22 33h.01M26 34h1M23 35h.01M25 35h.01M28 35h.01M19 36h.01M21 36h.01M25 36h.01M29 36h.01M23 37h.01M27 37h1M30 37h.01M33 38h.01M14 40h.01M29 41h1M36 41h.01M31 42h.01M38 42h.01M38 43h.01M40 44h.01M38 45h.01M41 45h.01M33 46h.01M42 46h.01M39 47h.01M42 47h1M43 49h.01M39 50h.01M47 50h.01M38 51h.01M44 51h.01M49 52h.01M26 53h.01M49 53h.01M51 54h.01M53 56h.01M49 57h.01M52 57h.01M21 59h.01M35 59h.01M41 59h.01M53 59h.01M58 60h.01M52 62h.01M58 63h.01M61 63h.01M63 65h.01M64 67h.01M66 68h.01M67 69h.01M67 70h.01M68 71h.01M57 73h.01M71 73h.01M70 75h.01M74 76h.01M76 79h1M85 86h.01M91 92h.01M91 93h.01M93 94h.01M92 95h.01M94 95h.01M94 96h1M95 97h.01M100 101h.01M98 102h.01M100 102h.01M102 103h.01M103 104h.01M111 112h.01M117 120h.01M123 123h.01M126 126h.01M127 127h.01M130 130h.01M139 139h.01M143 143h.01M143 144h.01M169 169h.01"/><path stroke="#386cb8" d="M1 12h.01M1 13h.01M2 14h.01M2 16h1M5 18h.01M6 19h.01M8 19h.01M6 20h.01M8 20h.01M10 21h.01M6 22h.01M9 22h2M11 23h3M11 24h1M14 24h1M12 26h.01M17 26h1M15 28h.01M18 28h2M18 29h.01M20 29h1M23 29h.01M8 31h.01M24 31h1M14 32h.01M23 32h1M26 32h.01M20 33h.01M24 33h2M24 35h.01M29 35h.01M22 36h.01M28 36h.01M31 36h1M31 37h1M15 38h.01M27 38h.01M31 38h1M32 39h.01M34 39h.01M34 40h3M35 41h.01M37 41h1M39 42h.01M36 43h.01M39 43h.01M39 44h.01M36 45h.01M40 45h.01M43 46h.01M44 47h.01M30 48h.01M45 48h.01M42 49h.01M46 49h.01M41 50h.01M46 50h.01M36 51h.01M41 51h.01M48 51h.01M48 52h.01M50 52h.01M50 53h.01M47 54h.01M50 54h.01M52 54h.01M50 55h2M54 56h.01M55 57h.01M50 58h.01M52 58h.01M56 60h.01M58 61h.01M60 62h.01M59 64h.01M61 64h1M60 66h.01M64 66h.01M65 67h.01M66 70h.01M68 70h.01M69 71h.01M70 72h.01M72 74h.01M71 75h.01M74 77h.01M76 77h.01M76 78h1M79 80h.01M80 81h.01M81 82h.01M82 83h.01M83 84h.01M84 85h.01M82 87h.01M86 87h.01M87 88h.01M88 89h.01M89 90h.01M90 91h.01M92 93h.01M92 94h.01M96 97h.01M97 98h.01M97 101h.01M109 110h.01M114 114h.01M118 118h.01M118 119h1M120 120h.01M121 121h.01M124 124h.01M125 125h.01M128 128h.01M129 129h.01M131 131h.01M132 132h.01M137 137h.01M144 144h.01"/><path stroke="#3478c0" d="M0 9h.01M3 15h.01M4 16h.01M5 17h.01M6 18h1M7 19h.01M9 20h1M11 21h.01M12 22h2M16 24h1M17 25h1M19 26h.01M16 27h.01M19 27h2M21 28h.01M16 29h.01M22 29h.01M23 30h.01M25 32h.01M27 32h.01M27 33h1M25 34h.01M28 34h2M30 35h1M30 36h.01M33 37h.01M34 38h1M35 39h1M40 43h.01M41 44h.01M42 45h.01M46 48h.01M48 50h.01M49 51h.01M51 53h.01M53 55h.01M56 58h.01M57 59h.01M59 61h.01M45 64h.01M64 65h.01M66 67h.01M69 70h.01M71 72h.01M72 73h.01M73 74h.01M74 75h.01M75 76h.01M78 79h.01M104 104h.01M105 105h.01M106 106h.01M107 107h.01M109 109h.01M111 111h.01M112 112h.01M113 113h.01M115 115h.01M116 116h.01M117 117h.01M122 122h.01"/><path stroke="#3087c7" d="M1 11h.01M3 14h.01M5 16h.01M6 17h.01M8 18h1M9 19h1M11 20h.01M12 21h1M15 23h1M18 24h.01M13 25h.01M19 25h.01M15 26h.01M20 26h1M22 28h1M24 29h.01M24 30h1M26 31h.01M28 32h.01M23 33h.01M29 33h.01M32 35h.01M33 36h.01M29 37h.01M34 37h.01M30 38h.01M37 39h.01M37 42h.01M41 43h.01M42 44h.01M43 45h.01M44 46h.01M45 47h.01M47 49h.01M47 53h.01M42 55h.01M54 55h.01M55 56h.01M57 58h.01M59 60h.01M62 63h.01M63 64h.01M65 66h.01M67 68h.01M68 69h.01M70 71h.01M90 90h.01M91 91h.01M94 94h.01M95 95h.01M97 97h.01M98 99h1M100 100h.01M101 101h.01M104 105h.01M108 108h.01M110 110h.01M133 133h.01"/><path stroke="#2c96cf" d="M0 8h.01M2 13h.01M4 14h.01M4 15h1M6 16h.01M7 17h1M12 20h1M14 21h.01M15 22h1M17 23h1M19 24h.01M20 25h.01M22 27h.01M24 28h.01M25 29h.01M26 30h.01M27 31h1M29 32h.01M31 34h.01M34 36h.01M35 37h.01M36 38h.01M31 39h.01M38 40h.01M39 41h.01M40 42h.01M48 49h.01M50 51h.01M51 52h.01M52 53h.01M56 57h.01M58 59h.01M60 61h.01M61 62h.01M84 84h.01M87 87h.01M88 88h.01M92 92h.01M93 93h.01M96 96h.01M98 98h.01M102 102h.01M103 103h.01"/><path stroke="#2ba4d0" d="M1 10h.01M2 12h.01M3 13h.01M7 16h.01M9 17h.01M10 18h.01M11 19h.01M15 21h1M17 22h1M19 23h.01M20 24h.01M21 25h.01M22 26h.01M23 27h.01M25 28h.01M26 29h.01M27 30h.01M30 33h1M32 34h.01M33 35h.01M44 45h.01M46 47h.01M47 48h.01M49 50h.01M53 54h.01M65 65h.01M67 67h.01M68 68h.01M69 69h.01M71 71h.01M74 74h.01M76 76h.01M77 77h.01M78 78h.01M79 79h.01M81 81h.01M82 82h.01M83 83h.01M85 85h.01M86 86h.01M89 89h.01"/><path stroke="#2eafcd" d="M0 7h.01M1 9h.01M3 12h.01M4 13h.01M5 14h.01M6 15h.01M8 16h1M11 18h1M12 19h1M14 20h1M17 21h.01M22 25h.01M23 26h.01M24 27h.01M28 30h.01M38 39h.01M40 41h.01M41 42h.01M42 43h.01M43 44h.01M45 46h.01M60 60h.01M64 64h.01M66 66h.01M70 70h.01M72 72h.01M73 73h.01M75 75h.01M80 80h.01"/><path stroke="#3db1c2" d="M2 11h.01M5 13h.01M6 14h1M7 15h1M10 16h.01M10 17h1M13 18h1M14 19h1M16 20h1M18 21h.01M19 22h.01M20 23h.01M21 24h.01M25 27h.01M26 28h.01M27 29h.01M29 31h.01M30 32h.01M34 35h.01M35 36h.01M36 37h.01M37 38h.01M39 40h.01M54 54h.01M55 55h.01M57 57h.01M58 58h.01M59 59h.01M61 61h.01M62 62h.01M63 63h.01"/><path stroke="#4cb3b7" d="M1 8h.01M3 11h.01M4 12h.01M6 13h.01M9 15h.01M12 17h.01M23 25h.01M32 33h.01M33 34h.01M46 46h.01M47 47h.01M49 49h.01M50 50h.01M51 51h.01M52 52h.01M53 53h.01M56 56h.01"/><path stroke="#57b6b1" d="M0 6h.01M2 10h.01M4 11h.01M5 12h.01M7 13h.01M8 14h1M10 15h.01M11 16h1M13 17h.01M16 19h.01M20 22h.01M21 23h.01M22 24h.01M24 26h.01M28 29h.01M29 30h.01M31 32h.01M40 40h.01M42 42h.01M44 44h.01M45 45h.01M48 48h.01"/><path stroke="#60b8ad" d="M0 5h.01M2 9h.01M3 10h.01M8 13h.01M10 14h.01M11 15h.01M14 17h.01M15 18h.01M18 20h.01M19 21h.01M26 27h.01M27 28h.01M30 31h.01M37 37h.01M38 38h.01M39 39h.01M41 41h.01M43 43h.01"/><path stroke="#69bba9" d="M1 7h.01M3 9h.01M5 11h.01M6 12h2M9 13h.01M12 15h.01M13 16h.01M16 18h.01M17 19h.01M23 24h.01M25 26h.01M34 34h.01M35 35h.01M36 36h.01"/><path stroke="#6fbea6" d="M1 6h.01M4 9h.01M4 10h.01M6 11h.01M11 14h.01M15 17h.01M20 21h.01M21 22h.01M22 23h.01M24 25h.01M33 33h.01"/><path stroke="#74c0a4" d="M0 4h.01M2 8h1M5 10h.01M7 11h.01M10 13h.01M13 15h.01M14 16h.01M18 19h.01M19 20h.01M30 30h.01M31 31h.01M32 32h.01"/><path stroke="#79c3a1" d="M2 7h.01M5 9h.01M6 10h.01M8 11h.01M9 12h.01M17 18h.01M24 24h.01M27 27h.01M28 28h.01M29 29h.01"/><path stroke="#7fc59f" d="M0 3h.01M3 7h.01M4 8h.01M7 10h.01M12 14h.01M15 16h.01M16 17h.01M23 23h.01M25 25h.01M26 26h.01"/><path stroke="#85c79d" d="M1 5h.01M6 9h.01M9 11h.01M10 12h.01M11 13h.01M13 14h.01M14 15h.01M19 19h.01M20 20h.01M21 21h.01M22 22h.01"/><path stroke="#8bca9a" d="M1 4h.01M2 6h.01M4 7h.01M5 8h.01M8 10h.01M12 13h.01M18 18h.01"/><path stroke="#91cc97" d="M3 6h.01M7 9h.01M11 12h.01M16 16h.01M17 17h.01"/><path stroke="#9cce90" d="M0 2h.01M2 5h.01M6 8h.01M10 11h.01M15 15h.01"/><path stroke="#a8d088" d="M1 3h.01M5 7h.01M8 9h.01M9 10h.01M13 13h.01M14 14h.01"/><path stroke="#bcc981" d="M3 5h.01M4 6h.01M7 8h.01M12 12h.01"/><path stroke="#ccc179" d="M2 4h.01M6 7h.01M10 10h.01M11 11h.01"/><path stroke="#d8b772" d="M0 1h.01M9 9h.01"/><path stroke="#e4aa6c" d="M4 5h.01M5 6h.01M8 8h.01"/><path stroke="#ec9b66" d="M1 2h.01M3 4h.01M7 7h.01"/><path stroke="#ea8860" d="M0 0h.01M2 3h.01"/><path stroke="#e87659" d="M5 5h.01M6 6h.01"/><path stroke="#e56953" d="M1 1h.01"/><path stroke="#e25c4e" d="M4 4h.01"/><path stroke="#e05048" d="M2 2h.01M3 3h.01"/></g></g>
<line x1="303.3" y1="920.3" x2="486.7" y2="737.4" stroke="#2a2a2a" stroke-width="1"/>
<rect x="303.3" y="737.4" width="183.4" height="182.9" fill="none" stroke="#666" stroke-width="1.15"/>
<path d="M303.3,920.3v-2.5M303.3,737.4v2.5M303.3,920.3h2.5M486.7,920.3h-2.5M333.87,920.3v-2.5M333.87,737.4v2.5M303.3,889.82h2.5M486.7,889.82h-2.5M364.43,920.3v-2.5M364.43,737.4v2.5M303.3,859.33h2.5M486.7,859.33h-2.5M395,920.3v-2.5M395,737.4v2.5M303.3,828.85h2.5M486.7,828.85h-2.5M425.57,920.3v-2.5M425.57,737.4v2.5M303.3,798.37h2.5M486.7,798.37h-2.5M456.13,920.3v-2.5M456.13,737.4v2.5M303.3,767.88h2.5M486.7,767.88h-2.5M486.7,920.3v-2.5M486.7,737.4v2.5M303.3,737.4h2.5M486.7,737.4h-2.5" stroke="#333" stroke-width="0.8"/>
<g font-family="Liberation Sans" font-size="7" fill="#333"><text x="300.8" y="922.8" text-anchor="end">0</text><text x="303.3" y="927.9" text-anchor="middle">0</text><text x="300.8" y="892.32" text-anchor="end">50</text><text x="333.87" y="927.9" text-anchor="middle">50</text><text x="300.8" y="861.83" text-anchor="end">100</text><text x="364.43" y="927.9" text-anchor="middle">100</text><text x="300.8" y="831.35" text-anchor="end">150</text><text x="395" y="927.9" text-anchor="middle">150</text><text x="300.8" y="800.87" text-anchor="end">200</text><text x="425.57" y="927.9" text-anchor="middle">200</text><text x="300.8" y="770.38" text-anchor="end">250</text><text x="456.13" y="927.9" text-anchor="middle">250</text><text x="300.8" y="739.9" text-anchor="end">300</text><text x="486.7" y="927.9" text-anchor="middle">300</text></g>
<g transform="translate(386.3,929.4)" fill="#333"><path d="M9.8,0.9 C6.6,-0.3 1.9,1.4 0.7,4.8 C-0.2,7.6 2.2,9.3 4.8,8.7 C6.1,8.4 6.9,7.8 7.5,7.0" fill="none" stroke="#3a3a3a" stroke-width="1.0" stroke-linecap="round"/><path d="M2.8,6.6 C4.4,4.9 7.4,2.9 9.8,0.9 C11.5,0.4 12.3,1.6 11.7,2.8 C11.1,3.9 9.5,4.4 7.9,4.3 C9.1,5.4 10.4,7.2 11.9,8.3" fill="none" stroke="#3a3a3a" stroke-width="0.75" stroke-linecap="round"/><text x="14.1" y="3.2" font-family="Liberation Serif" font-size="8.2">2</text><text x="12.1" y="11.3" font-family="Liberation Serif" font-style="italic" font-size="9.5">b</text></g>
<g transform="translate(279.1,837.2) rotate(-90)" fill="#333"><path d="M9.8,0.9 C6.6,-0.3 1.9,1.4 0.7,4.8 C-0.2,7.6 2.2,9.3 4.8,8.7 C6.1,8.4 6.9,7.8 7.5,7.0" fill="none" stroke="#3a3a3a" stroke-width="1.0" stroke-linecap="round"/><path d="M2.8,6.6 C4.4,4.9 7.4,2.9 9.8,0.9 C11.5,0.4 12.3,1.6 11.7,2.8 C11.1,3.9 9.5,4.4 7.9,4.3 C9.1,5.4 10.4,7.2 11.9,8.3" fill="none" stroke="#3a3a3a" stroke-width="0.75" stroke-linecap="round"/><text x="14.1" y="3.2" font-family="Liberation Serif" font-size="8.2">2</text><text x="12.1" y="11.3" font-family="Liberation Serif" font-style="italic" font-size="9.5">d</text></g>
<rect x="499.5" y="737.5" width="9.5" height="182.7" fill="url(#cbg)" stroke="#555" stroke-width="0.8"/>
<path d="M509,920.2h-2M509,881.24h-2M509,842.29h-2M509,803.33h-2M509,764.38h-2" stroke="#333" stroke-width="0.8"/>
<g font-family="Liberation Sans" font-size="7" fill="#333"><text x="511.5" y="922.3">10<tspan font-size="5.2" dy="-3.2">0</tspan></text><text x="511.5" y="883.34">10<tspan font-size="5.2" dy="-3.2">1</tspan></text><text x="511.5" y="844.39">10<tspan font-size="5.2" dy="-3.2">2</tspan></text><text x="511.5" y="805.43">10<tspan font-size="5.2" dy="-3.2">3</tspan></text><text x="511.5" y="766.48">10<tspan font-size="5.2" dy="-3.2">4</tspan></text></g>
<text transform="translate(411,910.4) scale(1.065,1)" font-family="Liberation Serif" font-size="17.0" fill="#111" class="nc">N<tspan font-size="12.07" dy="2.6">c</tspan><tspan dy="-2.6">=40M</tspan></text>
<text x="19" y="18.6" font-family="Liberation Serif" font-size="24.5" fill="#111">SP</text>
<g font-family="Liberation Serif" font-size="24" fill="#111"><text x="19" y="43" textLength="78.8">N=5×10</text><text x="96.6" y="35.6" font-size="14.5">4</text><text x="105.5" y="43">,</text><text x="116.5" y="43" font-style="italic">d</text><text x="129.2" y="43">=1</text></g>
</svg>
</body></html>
